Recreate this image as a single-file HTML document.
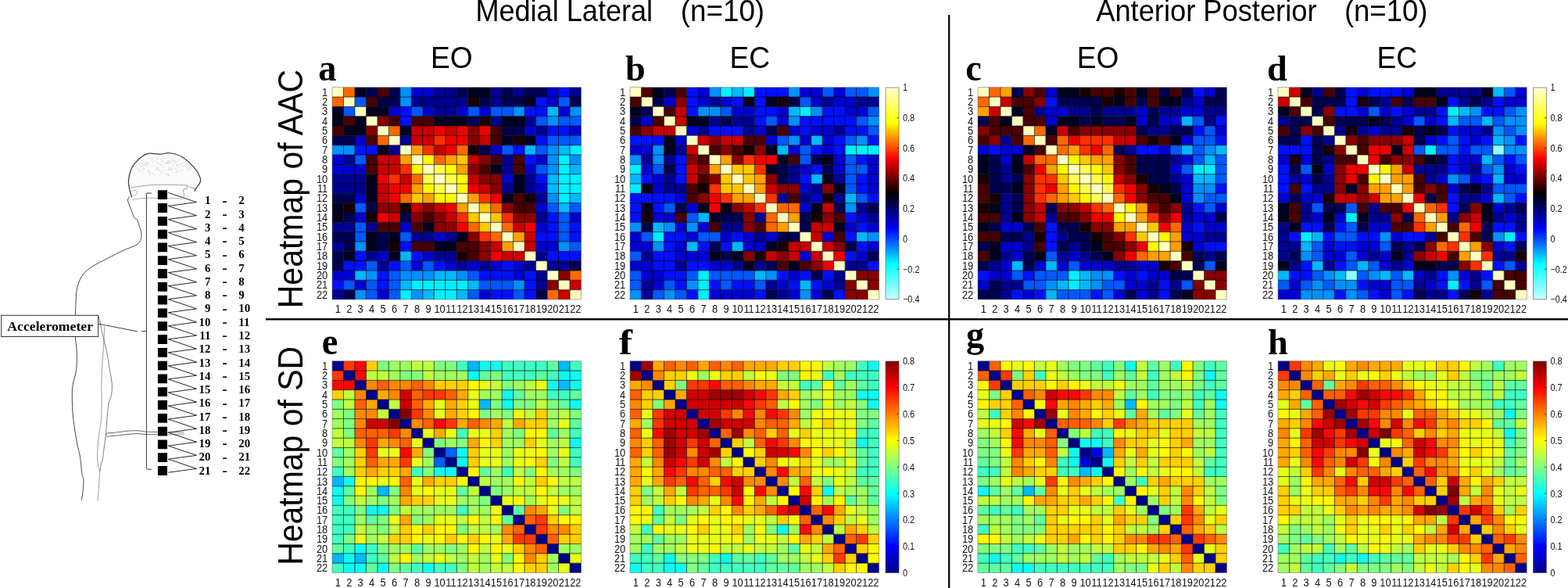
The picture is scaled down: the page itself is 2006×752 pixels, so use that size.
<!DOCTYPE html>
<html lang="en">
<head>
<meta charset="utf-8">
<title>Heatmaps of AAC and SD</title>
<style>
html,body{margin:0;padding:0;background:#fff;}
body{width:2006px;height:752px;overflow:hidden;}
svg{display:block;filter:blur(0.5px);}
</style>
</head>
<body>
<svg width="2006" height="752" viewBox="0 0 2006 752">
<defs>
<linearGradient id="ga" x1="0" y1="0" x2="0" y2="1"><stop offset="0" stop-color="#FFFFD0"/><stop offset="0.1667" stop-color="#FFFF00"/><stop offset="0.3333" stop-color="#FF0000"/><stop offset="0.5" stop-color="#000000"/><stop offset="0.6667" stop-color="#0000FF"/><stop offset="0.8333" stop-color="#00FFFF"/><stop offset="1" stop-color="#C8FFFF"/></linearGradient>
<linearGradient id="gj" x1="0" y1="0" x2="0" y2="1"><stop offset="0" stop-color="#800000"/><stop offset="0.125" stop-color="#FF0000"/><stop offset="0.375" stop-color="#FFFF00"/><stop offset="0.625" stop-color="#00FFFF"/><stop offset="0.875" stop-color="#0000FF"/><stop offset="1" stop-color="#000088"/></linearGradient>
</defs>
<rect width="2006" height="752" fill="#fff"/>
<g id="hm-a">
<path fill="#00F0FF" d="M729.02 185.69h14.48v12.33h-14.48zM714.55 198.02h14.48v12.33h-14.48zM714.55 210.35h14.48v12.33h-14.48zM714.55 222.69h14.48v12.33h-14.48zM729.02 222.69h14.48v12.33h-14.48zM714.55 235.02h14.48v12.33h-14.48zM729.02 235.02h14.48v12.33h-14.48zM714.55 247.35h14.48v12.33h-14.48zM526.34 358.34h14.48v12.33h-14.48zM540.82 358.34h14.48v12.33h-14.48zM555.3 358.34h14.48v12.33h-14.48zM569.77 358.34h14.48v12.33h-14.48zM584.25 358.34h14.48v12.33h-14.48zM511.86 370.67h14.48v12.33h-14.48zM555.3 370.67h14.48v12.33h-14.48zM569.77 370.67h14.48v12.33h-14.48z"/>
<path fill="#00B8FF" d="M700.07 136.36h14.48v12.33h-14.48zM671.11 185.69h14.48v12.33h-14.48zM714.55 185.69h14.48v12.33h-14.48zM729.02 210.35h14.48v12.33h-14.48zM700.07 222.69h14.48v12.33h-14.48zM700.07 235.02h14.48v12.33h-14.48zM729.02 247.35h14.48v12.33h-14.48zM714.55 259.68h14.48v12.33h-14.48zM511.86 321.34h14.48v12.33h-14.48zM453.95 346h14.48v12.33h-14.48zM555.3 346h14.48v12.33h-14.48zM569.77 346h14.48v12.33h-14.48zM511.86 358.34h14.48v12.33h-14.48zM598.73 358.34h14.48v12.33h-14.48zM540.82 370.67h14.48v12.33h-14.48zM584.25 370.67h14.48v12.33h-14.48z"/>
<path fill="#0090FF" d="M511.86 111.7h14.48v12.33h-14.48zM511.86 124.03h14.48v12.33h-14.48zM656.64 136.36h14.48v12.33h-14.48zM729.02 136.36h14.48v12.33h-14.48zM700.07 148.7h14.48v12.33h-14.48zM425 185.69h14.48v12.33h-14.48zM439.48 185.69h14.48v12.33h-14.48zM700.07 185.69h14.48v12.33h-14.48zM700.07 198.02h14.48v12.33h-14.48zM729.02 198.02h14.48v12.33h-14.48zM700.07 210.35h14.48v12.33h-14.48zM700.07 247.35h14.48v12.33h-14.48zM453.95 309.01h14.48v12.33h-14.48zM714.55 309.01h14.48v12.33h-14.48zM468.43 346h14.48v12.33h-14.48zM511.86 346h14.48v12.33h-14.48zM526.34 346h14.48v12.33h-14.48zM540.82 346h14.48v12.33h-14.48zM584.25 346h14.48v12.33h-14.48zM656.64 358.34h14.48v12.33h-14.48zM453.95 370.67h14.48v12.33h-14.48zM526.34 370.67h14.48v12.33h-14.48z"/>
<path fill="#0058FF" d="M453.95 124.03h14.48v12.33h-14.48zM714.55 124.03h14.48v12.33h-14.48zM439.48 136.36h14.48v12.33h-14.48zM526.34 136.36h14.48v12.33h-14.48zM598.73 136.36h14.48v12.33h-14.48zM627.68 136.36h14.48v12.33h-14.48zM642.16 136.36h14.48v12.33h-14.48zM685.59 148.7h14.48v12.33h-14.48zM714.55 148.7h14.48v12.33h-14.48zM729.02 148.7h14.48v12.33h-14.48zM700.07 173.36h14.48v12.33h-14.48zM714.55 173.36h14.48v12.33h-14.48zM729.02 173.36h14.48v12.33h-14.48zM642.16 185.69h14.48v12.33h-14.48zM685.59 185.69h14.48v12.33h-14.48zM453.95 198.02h14.48v12.33h-14.48zM685.59 210.35h14.48v12.33h-14.48zM453.95 259.68h14.48v12.33h-14.48zM700.07 259.68h14.48v12.33h-14.48zM729.02 259.68h14.48v12.33h-14.48zM714.55 272.01h14.48v12.33h-14.48zM453.95 284.35h14.48v12.33h-14.48zM714.55 284.35h14.48v12.33h-14.48zM453.95 296.68h14.48v12.33h-14.48zM511.86 296.68h14.48v12.33h-14.48zM714.55 296.68h14.48v12.33h-14.48zM729.02 309.01h14.48v12.33h-14.48zM468.43 333.67h14.48v12.33h-14.48zM511.86 333.67h14.48v12.33h-14.48zM540.82 333.67h14.48v12.33h-14.48zM497.39 346h14.48v12.33h-14.48zM598.73 346h14.48v12.33h-14.48zM439.48 358.34h14.48v12.33h-14.48zM468.43 358.34h14.48v12.33h-14.48zM497.39 358.34h14.48v12.33h-14.48zM613.2 358.34h14.48v12.33h-14.48zM627.68 358.34h14.48v12.33h-14.48zM642.16 358.34h14.48v12.33h-14.48zM468.43 370.67h14.48v12.33h-14.48zM497.39 370.67h14.48v12.33h-14.48zM598.73 370.67h14.48v12.33h-14.48zM656.64 370.67h14.48v12.33h-14.48z"/>
<path fill="#0010FF" d="M714.55 111.7h14.48v12.33h-14.48zM685.59 124.03h14.48v12.33h-14.48zM511.86 136.36h14.48v12.33h-14.48zM671.11 136.36h14.48v12.33h-14.48zM685.59 136.36h14.48v12.33h-14.48zM511.86 148.7h14.48v12.33h-14.48zM700.07 161.03h14.48v12.33h-14.48zM714.55 161.03h14.48v12.33h-14.48zM685.59 173.36h14.48v12.33h-14.48zM453.95 185.69h14.48v12.33h-14.48zM468.43 185.69h14.48v12.33h-14.48zM656.64 185.69h14.48v12.33h-14.48zM671.11 198.02h14.48v12.33h-14.48zM685.59 222.69h14.48v12.33h-14.48zM700.07 272.01h14.48v12.33h-14.48zM700.07 284.35h14.48v12.33h-14.48zM729.02 284.35h14.48v12.33h-14.48zM685.59 296.68h14.48v12.33h-14.48zM700.07 296.68h14.48v12.33h-14.48zM729.02 296.68h14.48v12.33h-14.48zM511.86 309.01h14.48v12.33h-14.48zM453.95 321.34h14.48v12.33h-14.48zM526.34 321.34h14.48v12.33h-14.48zM700.07 321.34h14.48v12.33h-14.48zM714.55 321.34h14.48v12.33h-14.48zM729.02 321.34h14.48v12.33h-14.48zM439.48 333.67h14.48v12.33h-14.48zM453.95 333.67h14.48v12.33h-14.48zM497.39 333.67h14.48v12.33h-14.48zM555.3 333.67h14.48v12.33h-14.48zM642.16 333.67h14.48v12.33h-14.48zM482.91 346h14.48v12.33h-14.48zM613.2 346h14.48v12.33h-14.48zM627.68 346h14.48v12.33h-14.48zM642.16 346h14.48v12.33h-14.48zM671.11 346h14.48v12.33h-14.48zM425 358.34h14.48v12.33h-14.48zM482.91 358.34h14.48v12.33h-14.48zM671.11 358.34h14.48v12.33h-14.48zM627.68 370.67h14.48v12.33h-14.48zM642.16 370.67h14.48v12.33h-14.48zM671.11 370.67h14.48v12.33h-14.48z"/>
<path fill="#0000D0" d="M526.34 111.7h14.48v12.33h-14.48zM540.82 111.7h14.48v12.33h-14.48zM700.07 111.7h14.48v12.33h-14.48zM700.07 124.03h14.48v12.33h-14.48zM497.39 136.36h14.48v12.33h-14.48zM540.82 136.36h14.48v12.33h-14.48zM584.25 136.36h14.48v12.33h-14.48zM613.2 136.36h14.48v12.33h-14.48zM714.55 136.36h14.48v12.33h-14.48zM671.11 161.03h14.48v12.33h-14.48zM729.02 161.03h14.48v12.33h-14.48zM453.95 173.36h14.48v12.33h-14.48zM627.68 185.69h14.48v12.33h-14.48zM425 198.02h14.48v12.33h-14.48zM685.59 198.02h14.48v12.33h-14.48zM425 210.35h14.48v12.33h-14.48zM439.48 210.35h14.48v12.33h-14.48zM453.95 210.35h14.48v12.33h-14.48zM671.11 210.35h14.48v12.33h-14.48zM642.16 222.69h14.48v12.33h-14.48zM685.59 235.02h14.48v12.33h-14.48zM453.95 247.35h14.48v12.33h-14.48zM685.59 259.68h14.48v12.33h-14.48zM453.95 272.01h14.48v12.33h-14.48zM729.02 272.01h14.48v12.33h-14.48zM511.86 284.35h14.48v12.33h-14.48zM685.59 284.35h14.48v12.33h-14.48zM555.3 296.68h14.48v12.33h-14.48zM685.59 309.01h14.48v12.33h-14.48zM700.07 309.01h14.48v12.33h-14.48zM482.91 321.34h14.48v12.33h-14.48zM540.82 321.34h14.48v12.33h-14.48zM526.34 333.67h14.48v12.33h-14.48zM569.77 333.67h14.48v12.33h-14.48zM598.73 333.67h14.48v12.33h-14.48zM627.68 333.67h14.48v12.33h-14.48zM656.64 333.67h14.48v12.33h-14.48zM425 346h14.48v12.33h-14.48zM439.48 346h14.48v12.33h-14.48zM656.64 346h14.48v12.33h-14.48zM453.95 358.34h14.48v12.33h-14.48zM482.91 370.67h14.48v12.33h-14.48zM613.2 370.67h14.48v12.33h-14.48z"/>
<path fill="#000090" d="M555.3 111.7h14.48v12.33h-14.48zM569.77 111.7h14.48v12.33h-14.48zM627.68 111.7h14.48v12.33h-14.48zM656.64 111.7h14.48v12.33h-14.48zM729.02 111.7h14.48v12.33h-14.48zM526.34 124.03h14.48v12.33h-14.48zM540.82 124.03h14.48v12.33h-14.48zM555.3 124.03h14.48v12.33h-14.48zM569.77 124.03h14.48v12.33h-14.48zM584.25 124.03h14.48v12.33h-14.48zM627.68 124.03h14.48v12.33h-14.48zM555.3 136.36h14.48v12.33h-14.48zM569.77 136.36h14.48v12.33h-14.48zM627.68 148.7h14.48v12.33h-14.48zM671.11 148.7h14.48v12.33h-14.48zM685.59 161.03h14.48v12.33h-14.48zM511.86 173.36h14.48v12.33h-14.48zM497.39 185.69h14.48v12.33h-14.48zM439.48 198.02h14.48v12.33h-14.48zM642.16 198.02h14.48v12.33h-14.48zM642.16 210.35h14.48v12.33h-14.48zM425 222.69h14.48v12.33h-14.48zM439.48 222.69h14.48v12.33h-14.48zM453.95 222.69h14.48v12.33h-14.48zM671.11 222.69h14.48v12.33h-14.48zM425 235.02h14.48v12.33h-14.48zM439.48 235.02h14.48v12.33h-14.48zM453.95 235.02h14.48v12.33h-14.48zM642.16 235.02h14.48v12.33h-14.48zM671.11 235.02h14.48v12.33h-14.48zM685.59 247.35h14.48v12.33h-14.48zM685.59 272.01h14.48v12.33h-14.48zM425 284.35h14.48v12.33h-14.48zM439.48 284.35h14.48v12.33h-14.48zM468.43 284.35h14.48v12.33h-14.48zM526.34 296.68h14.48v12.33h-14.48zM540.82 296.68h14.48v12.33h-14.48zM569.77 296.68h14.48v12.33h-14.48zM425 309.01h14.48v12.33h-14.48zM468.43 321.34h14.48v12.33h-14.48zM555.3 321.34h14.48v12.33h-14.48zM569.77 321.34h14.48v12.33h-14.48zM685.59 321.34h14.48v12.33h-14.48zM482.91 333.67h14.48v12.33h-14.48zM584.25 333.67h14.48v12.33h-14.48zM613.2 333.67h14.48v12.33h-14.48zM671.11 333.67h14.48v12.33h-14.48zM700.07 333.67h14.48v12.33h-14.48zM714.55 333.67h14.48v12.33h-14.48zM685.59 346h14.48v12.33h-14.48zM685.59 358.34h14.48v12.33h-14.48zM425 370.67h14.48v12.33h-14.48z"/>
<path fill="#000050" d="M468.43 111.7h14.48v12.33h-14.48zM497.39 111.7h14.48v12.33h-14.48zM584.25 111.7h14.48v12.33h-14.48zM642.16 111.7h14.48v12.33h-14.48zM671.11 111.7h14.48v12.33h-14.48zM685.59 111.7h14.48v12.33h-14.48zM482.91 124.03h14.48v12.33h-14.48zM497.39 124.03h14.48v12.33h-14.48zM613.2 124.03h14.48v12.33h-14.48zM642.16 124.03h14.48v12.33h-14.48zM656.64 124.03h14.48v12.33h-14.48zM729.02 124.03h14.48v12.33h-14.48zM598.73 148.7h14.48v12.33h-14.48zM642.16 161.03h14.48v12.33h-14.48zM656.64 161.03h14.48v12.33h-14.48zM425 173.36h14.48v12.33h-14.48zM439.48 173.36h14.48v12.33h-14.48zM613.2 185.69h14.48v12.33h-14.48zM425 247.35h14.48v12.33h-14.48zM439.48 247.35h14.48v12.33h-14.48zM468.43 259.68h14.48v12.33h-14.48zM439.48 272.01h14.48v12.33h-14.48zM511.86 272.01h14.48v12.33h-14.48zM425 296.68h14.48v12.33h-14.48zM439.48 296.68h14.48v12.33h-14.48zM482.91 296.68h14.48v12.33h-14.48zM439.48 309.01h14.48v12.33h-14.48zM482.91 309.01h14.48v12.33h-14.48zM425 321.34h14.48v12.33h-14.48zM425 333.67h14.48v12.33h-14.48zM729.02 333.67h14.48v12.33h-14.48zM439.48 370.67h14.48v12.33h-14.48zM685.59 370.67h14.48v12.33h-14.48z"/>
<path fill="#000020" d="M453.95 111.7h14.48v12.33h-14.48zM598.73 111.7h14.48v12.33h-14.48zM613.2 111.7h14.48v12.33h-14.48zM671.11 124.03h14.48v12.33h-14.48zM425 136.36h14.48v12.33h-14.48zM468.43 136.36h14.48v12.33h-14.48zM482.91 136.36h14.48v12.33h-14.48zM425 148.7h14.48v12.33h-14.48zM453.95 148.7h14.48v12.33h-14.48zM555.3 148.7h14.48v12.33h-14.48zM569.77 148.7h14.48v12.33h-14.48zM584.25 148.7h14.48v12.33h-14.48zM642.16 148.7h14.48v12.33h-14.48zM656.64 148.7h14.48v12.33h-14.48zM439.48 161.03h14.48v12.33h-14.48zM453.95 161.03h14.48v12.33h-14.48zM511.86 161.03h14.48v12.33h-14.48zM642.16 173.36h14.48v12.33h-14.48zM671.11 173.36h14.48v12.33h-14.48zM482.91 185.69h14.48v12.33h-14.48zM627.68 210.35h14.48v12.33h-14.48zM468.43 222.69h14.48v12.33h-14.48zM656.64 222.69h14.48v12.33h-14.48zM468.43 235.02h14.48v12.33h-14.48zM656.64 235.02h14.48v12.33h-14.48zM468.43 247.35h14.48v12.33h-14.48zM642.16 247.35h14.48v12.33h-14.48zM425 259.68h14.48v12.33h-14.48zM425 272.01h14.48v12.33h-14.48zM540.82 284.35h14.48v12.33h-14.48zM468.43 296.68h14.48v12.33h-14.48zM497.39 296.68h14.48v12.33h-14.48zM584.25 296.68h14.48v12.33h-14.48zM468.43 309.01h14.48v12.33h-14.48zM555.3 309.01h14.48v12.33h-14.48zM569.77 309.01h14.48v12.33h-14.48zM439.48 321.34h14.48v12.33h-14.48zM497.39 321.34h14.48v12.33h-14.48z"/>
<path fill="#180000" d="M598.73 124.03h14.48v12.33h-14.48zM613.2 148.7h14.48v12.33h-14.48zM656.64 173.36h14.48v12.33h-14.48zM598.73 185.69h14.48v12.33h-14.48zM671.11 247.35h14.48v12.33h-14.48zM439.48 259.68h14.48v12.33h-14.48zM511.86 259.68h14.48v12.33h-14.48zM468.43 272.01h14.48v12.33h-14.48zM497.39 309.01h14.48v12.33h-14.48zM584.25 321.34h14.48v12.33h-14.48z"/>
<path fill="#480000" d="M482.91 111.7h14.48v12.33h-14.48zM468.43 124.03h14.48v12.33h-14.48zM439.48 148.7h14.48v12.33h-14.48zM497.39 148.7h14.48v12.33h-14.48zM526.34 148.7h14.48v12.33h-14.48zM540.82 148.7h14.48v12.33h-14.48zM425 161.03h14.48v12.33h-14.48zM627.68 161.03h14.48v12.33h-14.48zM468.43 173.36h14.48v12.33h-14.48zM627.68 173.36h14.48v12.33h-14.48zM468.43 198.02h14.48v12.33h-14.48zM627.68 198.02h14.48v12.33h-14.48zM656.64 198.02h14.48v12.33h-14.48zM468.43 210.35h14.48v12.33h-14.48zM613.2 210.35h14.48v12.33h-14.48zM656.64 210.35h14.48v12.33h-14.48zM656.64 247.35h14.48v12.33h-14.48zM656.64 259.68h14.48v12.33h-14.48zM671.11 259.68h14.48v12.33h-14.48zM540.82 272.01h14.48v12.33h-14.48zM482.91 284.35h14.48v12.33h-14.48zM497.39 284.35h14.48v12.33h-14.48zM526.34 284.35h14.48v12.33h-14.48zM526.34 309.01h14.48v12.33h-14.48zM540.82 309.01h14.48v12.33h-14.48zM584.25 309.01h14.48v12.33h-14.48zM598.73 309.01h14.48v12.33h-14.48zM598.73 321.34h14.48v12.33h-14.48z"/>
<path fill="#880000" d="M482.91 148.7h14.48v12.33h-14.48zM468.43 161.03h14.48v12.33h-14.48zM598.73 161.03h14.48v12.33h-14.48zM598.73 173.36h14.48v12.33h-14.48zM613.2 198.02h14.48v12.33h-14.48zM598.73 210.35h14.48v12.33h-14.48zM613.2 222.69h14.48v12.33h-14.48zM627.68 222.69h14.48v12.33h-14.48zM627.68 235.02h14.48v12.33h-14.48zM482.91 259.68h14.48v12.33h-14.48zM497.39 259.68h14.48v12.33h-14.48zM540.82 259.68h14.48v12.33h-14.48zM642.16 259.68h14.48v12.33h-14.48zM526.34 272.01h14.48v12.33h-14.48zM555.3 272.01h14.48v12.33h-14.48zM656.64 272.01h14.48v12.33h-14.48zM671.11 272.01h14.48v12.33h-14.48zM555.3 284.35h14.48v12.33h-14.48zM569.77 284.35h14.48v12.33h-14.48zM598.73 296.68h14.48v12.33h-14.48zM613.2 309.01h14.48v12.33h-14.48zM613.2 321.34h14.48v12.33h-14.48zM714.55 346h14.48v12.33h-14.48zM700.07 358.34h14.48v12.33h-14.48z"/>
<path fill="#C80000" d="M526.34 161.03h14.48v12.33h-14.48zM540.82 161.03h14.48v12.33h-14.48zM569.77 161.03h14.48v12.33h-14.48zM526.34 173.36h14.48v12.33h-14.48zM540.82 173.36h14.48v12.33h-14.48zM613.2 173.36h14.48v12.33h-14.48zM555.3 185.69h14.48v12.33h-14.48zM482.91 198.02h14.48v12.33h-14.48zM497.39 198.02h14.48v12.33h-14.48zM598.73 198.02h14.48v12.33h-14.48zM482.91 210.35h14.48v12.33h-14.48zM497.39 210.35h14.48v12.33h-14.48zM511.86 222.69h14.48v12.33h-14.48zM598.73 222.69h14.48v12.33h-14.48zM482.91 235.02h14.48v12.33h-14.48zM613.2 235.02h14.48v12.33h-14.48zM482.91 247.35h14.48v12.33h-14.48zM526.34 259.68h14.48v12.33h-14.48zM555.3 259.68h14.48v12.33h-14.48zM497.39 272.01h14.48v12.33h-14.48zM569.77 272.01h14.48v12.33h-14.48zM656.64 284.35h14.48v12.33h-14.48zM671.11 296.68h14.48v12.33h-14.48zM627.68 309.01h14.48v12.33h-14.48zM671.11 309.01h14.48v12.33h-14.48zM642.16 321.34h14.48v12.33h-14.48zM656.64 321.34h14.48v12.33h-14.48zM729.02 358.34h14.48v12.33h-14.48zM714.55 370.67h14.48v12.33h-14.48z"/>
<path fill="#F00000" d="M555.3 161.03h14.48v12.33h-14.48zM584.25 161.03h14.48v12.33h-14.48zM613.2 161.03h14.48v12.33h-14.48zM569.77 173.36h14.48v12.33h-14.48zM584.25 173.36h14.48v12.33h-14.48zM569.77 185.69h14.48v12.33h-14.48zM482.91 222.69h14.48v12.33h-14.48zM497.39 235.02h14.48v12.33h-14.48zM511.86 235.02h14.48v12.33h-14.48zM598.73 235.02h14.48v12.33h-14.48zM497.39 247.35h14.48v12.33h-14.48zM627.68 247.35h14.48v12.33h-14.48zM569.77 259.68h14.48v12.33h-14.48zM482.91 272.01h14.48v12.33h-14.48zM584.25 284.35h14.48v12.33h-14.48zM671.11 284.35h14.48v12.33h-14.48zM627.68 321.34h14.48v12.33h-14.48z"/>
<path fill="#FF3000" d="M555.3 173.36h14.48v12.33h-14.48zM540.82 185.69h14.48v12.33h-14.48zM511.86 210.35h14.48v12.33h-14.48zM497.39 222.69h14.48v12.33h-14.48zM613.2 247.35h14.48v12.33h-14.48zM584.25 272.01h14.48v12.33h-14.48zM642.16 272.01h14.48v12.33h-14.48zM613.2 296.68h14.48v12.33h-14.48z"/>
<path fill="#FF6800" d="M439.48 111.7h14.48v12.33h-14.48zM425 124.03h14.48v12.33h-14.48zM497.39 161.03h14.48v12.33h-14.48zM482.91 173.36h14.48v12.33h-14.48zM584.25 185.69h14.48v12.33h-14.48zM555.3 198.02h14.48v12.33h-14.48zM526.34 222.69h14.48v12.33h-14.48zM511.86 247.35h14.48v12.33h-14.48zM627.68 259.68h14.48v12.33h-14.48zM598.73 284.35h14.48v12.33h-14.48zM642.16 284.35h14.48v12.33h-14.48zM627.68 296.68h14.48v12.33h-14.48zM729.02 346h14.48v12.33h-14.48zM700.07 370.67h14.48v12.33h-14.48z"/>
<path fill="#FFA000" d="M526.34 185.69h14.48v12.33h-14.48zM511.86 198.02h14.48v12.33h-14.48zM569.77 198.02h14.48v12.33h-14.48zM584.25 210.35h14.48v12.33h-14.48zM526.34 235.02h14.48v12.33h-14.48zM540.82 247.35h14.48v12.33h-14.48zM598.73 247.35h14.48v12.33h-14.48zM584.25 259.68h14.48v12.33h-14.48zM656.64 296.68h14.48v12.33h-14.48zM642.16 309.01h14.48v12.33h-14.48z"/>
<path fill="#FFC800" d="M584.25 198.02h14.48v12.33h-14.48zM526.34 247.35h14.48v12.33h-14.48zM613.2 259.68h14.48v12.33h-14.48zM598.73 272.01h14.48v12.33h-14.48zM627.68 272.01h14.48v12.33h-14.48zM613.2 284.35h14.48v12.33h-14.48z"/>
<path fill="#FFF800" d="M540.82 198.02h14.48v12.33h-14.48zM526.34 210.35h14.48v12.33h-14.48zM569.77 210.35h14.48v12.33h-14.48zM584.25 222.69h14.48v12.33h-14.48zM540.82 235.02h14.48v12.33h-14.48zM584.25 235.02h14.48v12.33h-14.48zM555.3 247.35h14.48v12.33h-14.48zM569.77 247.35h14.48v12.33h-14.48z"/>
<path fill="#FFFF50" d="M555.3 210.35h14.48v12.33h-14.48zM540.82 222.69h14.48v12.33h-14.48zM569.77 222.69h14.48v12.33h-14.48zM555.3 235.02h14.48v12.33h-14.48z"/>
<path fill="#FFFFC0" d="M425 111.7h14.48v12.33h-14.48zM439.48 124.03h14.48v12.33h-14.48zM453.95 136.36h14.48v12.33h-14.48zM468.43 148.7h14.48v12.33h-14.48zM482.91 161.03h14.48v12.33h-14.48zM497.39 173.36h14.48v12.33h-14.48zM511.86 185.69h14.48v12.33h-14.48zM526.34 198.02h14.48v12.33h-14.48zM540.82 210.35h14.48v12.33h-14.48zM555.3 222.69h14.48v12.33h-14.48zM569.77 235.02h14.48v12.33h-14.48zM584.25 247.35h14.48v12.33h-14.48zM598.73 259.68h14.48v12.33h-14.48zM613.2 272.01h14.48v12.33h-14.48zM627.68 284.35h14.48v12.33h-14.48zM642.16 296.68h14.48v12.33h-14.48zM656.64 309.01h14.48v12.33h-14.48zM671.11 321.34h14.48v12.33h-14.48zM685.59 333.67h14.48v12.33h-14.48zM700.07 346h14.48v12.33h-14.48zM714.55 358.34h14.48v12.33h-14.48zM729.02 370.67h14.48v12.33h-14.48z"/>
<path fill="none" stroke="#000" stroke-opacity="0.66" stroke-width="1.0" d="M439.48 111.7V383M453.95 111.7V383M468.43 111.7V383M482.91 111.7V383M497.39 111.7V383M511.86 111.7V383M526.34 111.7V383M540.82 111.7V383M555.3 111.7V383M569.77 111.7V383M584.25 111.7V383M598.73 111.7V383M613.2 111.7V383M627.68 111.7V383M642.16 111.7V383M656.64 111.7V383M671.11 111.7V383M685.59 111.7V383M700.07 111.7V383M714.55 111.7V383M729.02 111.7V383M425 124.03H743.5M425 136.36H743.5M425 148.7H743.5M425 161.03H743.5M425 173.36H743.5M425 185.69H743.5M425 198.02H743.5M425 210.35H743.5M425 222.69H743.5M425 235.02H743.5M425 247.35H743.5M425 259.68H743.5M425 272.01H743.5M425 284.35H743.5M425 296.68H743.5M425 309.01H743.5M425 321.34H743.5M425 333.67H743.5M425 346H743.5M425 358.34H743.5M425 370.67H743.5"/>
<rect x="425" y="111.7" width="318.5" height="271.3" fill="none" stroke="#555" stroke-opacity="0.6" stroke-width="0.8"/>
<g font-family="'Liberation Sans', sans-serif" font-size="13.8" fill="#111">
<text transform="translate(419.2 122.77) scale(0.93 1)" text-anchor="end">1</text>
<text transform="translate(419.2 135.1) scale(0.93 1)" text-anchor="end">2</text>
<text transform="translate(419.2 147.43) scale(0.93 1)" text-anchor="end">3</text>
<text transform="translate(419.2 159.76) scale(0.93 1)" text-anchor="end">4</text>
<text transform="translate(419.2 172.09) scale(0.93 1)" text-anchor="end">5</text>
<text transform="translate(419.2 184.43) scale(0.93 1)" text-anchor="end">6</text>
<text transform="translate(419.2 196.76) scale(0.93 1)" text-anchor="end">7</text>
<text transform="translate(419.2 209.09) scale(0.93 1)" text-anchor="end">8</text>
<text transform="translate(419.2 221.42) scale(0.93 1)" text-anchor="end">9</text>
<text transform="translate(419.2 233.75) scale(0.93 1)" text-anchor="end">10</text>
<text transform="translate(419.2 246.08) scale(0.93 1)" text-anchor="end">11</text>
<text transform="translate(419.2 258.42) scale(0.93 1)" text-anchor="end">12</text>
<text transform="translate(419.2 270.75) scale(0.93 1)" text-anchor="end">13</text>
<text transform="translate(419.2 283.08) scale(0.93 1)" text-anchor="end">14</text>
<text transform="translate(419.2 295.41) scale(0.93 1)" text-anchor="end">15</text>
<text transform="translate(419.2 307.74) scale(0.93 1)" text-anchor="end">16</text>
<text transform="translate(419.2 320.07) scale(0.93 1)" text-anchor="end">17</text>
<text transform="translate(419.2 332.41) scale(0.93 1)" text-anchor="end">18</text>
<text transform="translate(419.2 344.74) scale(0.93 1)" text-anchor="end">19</text>
<text transform="translate(419.2 357.07) scale(0.93 1)" text-anchor="end">20</text>
<text transform="translate(419.2 369.4) scale(0.93 1)" text-anchor="end">21</text>
<text transform="translate(419.2 381.73) scale(0.93 1)" text-anchor="end">22</text>
<text transform="translate(432.24 400.3) scale(0.93 1)" text-anchor="middle">1</text>
<text transform="translate(446.72 400.3) scale(0.93 1)" text-anchor="middle">2</text>
<text transform="translate(461.19 400.3) scale(0.93 1)" text-anchor="middle">3</text>
<text transform="translate(475.67 400.3) scale(0.93 1)" text-anchor="middle">4</text>
<text transform="translate(490.15 400.3) scale(0.93 1)" text-anchor="middle">5</text>
<text transform="translate(504.62 400.3) scale(0.93 1)" text-anchor="middle">6</text>
<text transform="translate(519.1 400.3) scale(0.93 1)" text-anchor="middle">7</text>
<text transform="translate(533.58 400.3) scale(0.93 1)" text-anchor="middle">8</text>
<text transform="translate(548.06 400.3) scale(0.93 1)" text-anchor="middle">9</text>
<text transform="translate(562.53 400.3) scale(0.93 1)" text-anchor="middle">10</text>
<text transform="translate(577.01 400.3) scale(0.93 1)" text-anchor="middle">11</text>
<text transform="translate(591.49 400.3) scale(0.93 1)" text-anchor="middle">12</text>
<text transform="translate(605.97 400.3) scale(0.93 1)" text-anchor="middle">13</text>
<text transform="translate(620.44 400.3) scale(0.93 1)" text-anchor="middle">14</text>
<text transform="translate(634.92 400.3) scale(0.93 1)" text-anchor="middle">15</text>
<text transform="translate(649.4 400.3) scale(0.93 1)" text-anchor="middle">16</text>
<text transform="translate(663.88 400.3) scale(0.93 1)" text-anchor="middle">17</text>
<text transform="translate(678.35 400.3) scale(0.93 1)" text-anchor="middle">18</text>
<text transform="translate(692.83 400.3) scale(0.93 1)" text-anchor="middle">19</text>
<text transform="translate(707.31 400.3) scale(0.93 1)" text-anchor="middle">20</text>
<text transform="translate(721.78 400.3) scale(0.93 1)" text-anchor="middle">21</text>
<text transform="translate(736.26 400.3) scale(0.93 1)" text-anchor="middle">22</text>
</g></g>
<g id="hm-b">
<path fill="#00F0FF" d="M921.85 111.7h14.48v12.33h-14.48zM950.82 111.7h14.48v12.33h-14.48zM1023.23 136.36h14.48v12.33h-14.48zM1081.15 185.69h14.48v12.33h-14.48zM1095.64 185.69h14.48v12.33h-14.48zM1110.12 185.69h14.48v12.33h-14.48zM806 210.35h14.48v12.33h-14.48zM806 235.02h14.48v12.33h-14.48zM834.96 296.68h14.48v12.33h-14.48zM892.89 346h14.48v12.33h-14.48zM892.89 358.34h14.48v12.33h-14.48zM892.89 370.67h14.48v12.33h-14.48z"/>
<path fill="#00B8FF" d="M936.34 111.7h14.48v12.33h-14.48zM1008.75 136.36h14.48v12.33h-14.48zM1037.71 173.36h14.48v12.33h-14.48zM994.26 185.69h14.48v12.33h-14.48zM806 222.69h14.48v12.33h-14.48zM1037.71 222.69h14.48v12.33h-14.48zM1081.15 247.35h14.48v12.33h-14.48zM892.89 272.01h14.48v12.33h-14.48zM834.96 284.35h14.48v12.33h-14.48zM1095.64 296.68h14.48v12.33h-14.48zM878.41 309.01h14.48v12.33h-14.48zM936.34 309.01h14.48v12.33h-14.48zM965.3 346h14.48v12.33h-14.48zM1023.23 358.34h14.48v12.33h-14.48z"/>
<path fill="#0090FF" d="M907.37 111.7h14.48v12.33h-14.48zM1008.75 111.7h14.48v12.33h-14.48zM1110.12 111.7h14.48v12.33h-14.48zM892.89 136.36h14.48v12.33h-14.48zM907.37 136.36h14.48v12.33h-14.48zM1037.71 136.36h14.48v12.33h-14.48zM1008.75 148.7h14.48v12.33h-14.48zM1110.12 148.7h14.48v12.33h-14.48zM1008.75 173.36h14.48v12.33h-14.48zM1095.64 173.36h14.48v12.33h-14.48zM834.96 185.69h14.48v12.33h-14.48zM806 198.02h14.48v12.33h-14.48zM834.96 198.02h14.48v12.33h-14.48zM1081.15 259.68h14.48v12.33h-14.48zM806 284.35h14.48v12.33h-14.48zM849.45 284.35h14.48v12.33h-14.48zM878.41 284.35h14.48v12.33h-14.48zM1110.12 296.68h14.48v12.33h-14.48zM834.96 309.01h14.48v12.33h-14.48zM979.78 346h14.48v12.33h-14.48zM878.41 358.34h14.48v12.33h-14.48zM806 370.67h14.48v12.33h-14.48zM849.45 370.67h14.48v12.33h-14.48zM1023.23 370.67h14.48v12.33h-14.48z"/>
<path fill="#0058FF" d="M1052.19 111.7h14.48v12.33h-14.48zM1081.15 111.7h14.48v12.33h-14.48zM1095.64 111.7h14.48v12.33h-14.48zM1023.23 124.03h14.48v12.33h-14.48zM921.85 136.36h14.48v12.33h-14.48zM1110.12 136.36h14.48v12.33h-14.48zM979.78 148.7h14.48v12.33h-14.48zM1095.64 148.7h14.48v12.33h-14.48zM1110.12 161.03h14.48v12.33h-14.48zM994.26 173.36h14.48v12.33h-14.48zM1081.15 173.36h14.48v12.33h-14.48zM1023.23 185.69h14.48v12.33h-14.48zM1023.23 198.02h14.48v12.33h-14.48zM1081.15 198.02h14.48v12.33h-14.48zM834.96 210.35h14.48v12.33h-14.48zM1081.15 210.35h14.48v12.33h-14.48zM1095.64 210.35h14.48v12.33h-14.48zM1081.15 222.69h14.48v12.33h-14.48zM1081.15 235.02h14.48v12.33h-14.48zM1095.64 247.35h14.48v12.33h-14.48zM849.45 259.68h14.48v12.33h-14.48zM878.41 272.01h14.48v12.33h-14.48zM820.48 296.68h14.48v12.33h-14.48zM892.89 296.68h14.48v12.33h-14.48zM907.37 296.68h14.48v12.33h-14.48zM806 321.34h14.48v12.33h-14.48zM806 346h14.48v12.33h-14.48zM878.41 346h14.48v12.33h-14.48zM907.37 346h14.48v12.33h-14.48zM921.85 346h14.48v12.33h-14.48zM936.34 346h14.48v12.33h-14.48zM950.82 346h14.48v12.33h-14.48zM806 358.34h14.48v12.33h-14.48zM849.45 358.34h14.48v12.33h-14.48zM921.85 358.34h14.48v12.33h-14.48zM965.3 358.34h14.48v12.33h-14.48zM834.96 370.67h14.48v12.33h-14.48zM863.93 370.67h14.48v12.33h-14.48z"/>
<path fill="#0010FF" d="M878.41 111.7h14.48v12.33h-14.48zM965.3 111.7h14.48v12.33h-14.48zM979.78 111.7h14.48v12.33h-14.48zM994.26 111.7h14.48v12.33h-14.48zM878.41 124.03h14.48v12.33h-14.48zM936.34 124.03h14.48v12.33h-14.48zM965.3 124.03h14.48v12.33h-14.48zM878.41 136.36h14.48v12.33h-14.48zM965.3 136.36h14.48v12.33h-14.48zM979.78 136.36h14.48v12.33h-14.48zM1052.19 136.36h14.48v12.33h-14.48zM1066.67 136.36h14.48v12.33h-14.48zM965.3 148.7h14.48v12.33h-14.48zM1023.23 148.7h14.48v12.33h-14.48zM1037.71 148.7h14.48v12.33h-14.48zM1052.19 148.7h14.48v12.33h-14.48zM1066.67 148.7h14.48v12.33h-14.48zM1081.15 148.7h14.48v12.33h-14.48zM907.37 161.03h14.48v12.33h-14.48zM921.85 161.03h14.48v12.33h-14.48zM936.34 161.03h14.48v12.33h-14.48zM1023.23 161.03h14.48v12.33h-14.48zM1081.15 161.03h14.48v12.33h-14.48zM1095.64 161.03h14.48v12.33h-14.48zM806 173.36h14.48v12.33h-14.48zM820.48 173.36h14.48v12.33h-14.48zM834.96 173.36h14.48v12.33h-14.48zM1066.67 173.36h14.48v12.33h-14.48zM1110.12 173.36h14.48v12.33h-14.48zM1037.71 185.69h14.48v12.33h-14.48zM1066.67 185.69h14.48v12.33h-14.48zM863.93 198.02h14.48v12.33h-14.48zM1095.64 198.02h14.48v12.33h-14.48zM863.93 210.35h14.48v12.33h-14.48zM1037.71 210.35h14.48v12.33h-14.48zM820.48 222.69h14.48v12.33h-14.48zM863.93 222.69h14.48v12.33h-14.48zM1023.23 222.69h14.48v12.33h-14.48zM1095.64 222.69h14.48v12.33h-14.48zM1095.64 235.02h14.48v12.33h-14.48zM806 247.35h14.48v12.33h-14.48zM820.48 247.35h14.48v12.33h-14.48zM834.96 247.35h14.48v12.33h-14.48zM849.45 247.35h14.48v12.33h-14.48zM1110.12 247.35h14.48v12.33h-14.48zM806 259.68h14.48v12.33h-14.48zM834.96 259.68h14.48v12.33h-14.48zM806 272.01h14.48v12.33h-14.48zM1081.15 272.01h14.48v12.33h-14.48zM1095.64 284.35h14.48v12.33h-14.48zM849.45 296.68h14.48v12.33h-14.48zM863.93 296.68h14.48v12.33h-14.48zM936.34 296.68h14.48v12.33h-14.48zM1081.15 296.68h14.48v12.33h-14.48zM849.45 309.01h14.48v12.33h-14.48zM892.89 309.01h14.48v12.33h-14.48zM921.85 309.01h14.48v12.33h-14.48zM1095.64 309.01h14.48v12.33h-14.48zM834.96 321.34h14.48v12.33h-14.48zM849.45 321.34h14.48v12.33h-14.48zM1081.15 321.34h14.48v12.33h-14.48zM834.96 333.67h14.48v12.33h-14.48zM849.45 333.67h14.48v12.33h-14.48zM878.41 333.67h14.48v12.33h-14.48zM892.89 333.67h14.48v12.33h-14.48zM1110.12 333.67h14.48v12.33h-14.48zM849.45 346h14.48v12.33h-14.48zM863.93 346h14.48v12.33h-14.48zM994.26 346h14.48v12.33h-14.48zM1023.23 346h14.48v12.33h-14.48zM1052.19 346h14.48v12.33h-14.48zM863.93 358.34h14.48v12.33h-14.48zM907.37 358.34h14.48v12.33h-14.48zM936.34 358.34h14.48v12.33h-14.48zM950.82 358.34h14.48v12.33h-14.48zM1008.75 358.34h14.48v12.33h-14.48zM1037.71 358.34h14.48v12.33h-14.48zM878.41 370.67h14.48v12.33h-14.48zM965.3 370.67h14.48v12.33h-14.48zM1066.67 370.67h14.48v12.33h-14.48z"/>
<path fill="#0000D0" d="M892.89 111.7h14.48v12.33h-14.48zM1023.23 111.7h14.48v12.33h-14.48zM1037.71 111.7h14.48v12.33h-14.48zM1066.67 111.7h14.48v12.33h-14.48zM849.45 124.03h14.48v12.33h-14.48zM892.89 124.03h14.48v12.33h-14.48zM921.85 124.03h14.48v12.33h-14.48zM1037.71 124.03h14.48v12.33h-14.48zM1066.67 124.03h14.48v12.33h-14.48zM1081.15 124.03h14.48v12.33h-14.48zM936.34 136.36h14.48v12.33h-14.48zM950.82 136.36h14.48v12.33h-14.48zM994.26 136.36h14.48v12.33h-14.48zM1081.15 136.36h14.48v12.33h-14.48zM1095.64 136.36h14.48v12.33h-14.48zM820.48 148.7h14.48v12.33h-14.48zM994.26 148.7h14.48v12.33h-14.48zM878.41 161.03h14.48v12.33h-14.48zM965.3 161.03h14.48v12.33h-14.48zM1008.75 161.03h14.48v12.33h-14.48zM1037.71 161.03h14.48v12.33h-14.48zM1052.19 161.03h14.48v12.33h-14.48zM863.93 173.36h14.48v12.33h-14.48zM979.78 173.36h14.48v12.33h-14.48zM1023.23 173.36h14.48v12.33h-14.48zM1052.19 173.36h14.48v12.33h-14.48zM806 185.69h14.48v12.33h-14.48zM820.48 185.69h14.48v12.33h-14.48zM1008.75 185.69h14.48v12.33h-14.48zM1052.19 185.69h14.48v12.33h-14.48zM1066.67 198.02h14.48v12.33h-14.48zM1110.12 198.02h14.48v12.33h-14.48zM820.48 210.35h14.48v12.33h-14.48zM1023.23 210.35h14.48v12.33h-14.48zM1066.67 210.35h14.48v12.33h-14.48zM1110.12 210.35h14.48v12.33h-14.48zM834.96 222.69h14.48v12.33h-14.48zM1110.12 222.69h14.48v12.33h-14.48zM834.96 235.02h14.48v12.33h-14.48zM1023.23 235.02h14.48v12.33h-14.48zM1110.12 235.02h14.48v12.33h-14.48zM863.93 247.35h14.48v12.33h-14.48zM1037.71 247.35h14.48v12.33h-14.48zM878.41 259.68h14.48v12.33h-14.48zM1023.23 259.68h14.48v12.33h-14.48zM834.96 272.01h14.48v12.33h-14.48zM849.45 272.01h14.48v12.33h-14.48zM1095.64 272.01h14.48v12.33h-14.48zM863.93 284.35h14.48v12.33h-14.48zM892.89 284.35h14.48v12.33h-14.48zM1081.15 284.35h14.48v12.33h-14.48zM1110.12 284.35h14.48v12.33h-14.48zM806 296.68h14.48v12.33h-14.48zM878.41 296.68h14.48v12.33h-14.48zM921.85 296.68h14.48v12.33h-14.48zM950.82 296.68h14.48v12.33h-14.48zM979.78 296.68h14.48v12.33h-14.48zM1052.19 296.68h14.48v12.33h-14.48zM806 309.01h14.48v12.33h-14.48zM820.48 309.01h14.48v12.33h-14.48zM863.93 309.01h14.48v12.33h-14.48zM950.82 309.01h14.48v12.33h-14.48zM965.3 309.01h14.48v12.33h-14.48zM1110.12 309.01h14.48v12.33h-14.48zM863.93 321.34h14.48v12.33h-14.48zM878.41 321.34h14.48v12.33h-14.48zM892.89 321.34h14.48v12.33h-14.48zM1023.23 321.34h14.48v12.33h-14.48zM1095.64 321.34h14.48v12.33h-14.48zM806 333.67h14.48v12.33h-14.48zM820.48 333.67h14.48v12.33h-14.48zM907.37 333.67h14.48v12.33h-14.48zM921.85 333.67h14.48v12.33h-14.48zM820.48 346h14.48v12.33h-14.48zM834.96 346h14.48v12.33h-14.48zM1008.75 346h14.48v12.33h-14.48zM834.96 358.34h14.48v12.33h-14.48zM994.26 358.34h14.48v12.33h-14.48zM1052.19 358.34h14.48v12.33h-14.48zM907.37 370.67h14.48v12.33h-14.48zM921.85 370.67h14.48v12.33h-14.48zM936.34 370.67h14.48v12.33h-14.48zM950.82 370.67h14.48v12.33h-14.48zM1008.75 370.67h14.48v12.33h-14.48zM1037.71 370.67h14.48v12.33h-14.48z"/>
<path fill="#000090" d="M907.37 124.03h14.48v12.33h-14.48zM1052.19 124.03h14.48v12.33h-14.48zM1095.64 124.03h14.48v12.33h-14.48zM1110.12 124.03h14.48v12.33h-14.48zM907.37 148.7h14.48v12.33h-14.48zM936.34 148.7h14.48v12.33h-14.48zM950.82 148.7h14.48v12.33h-14.48zM892.89 161.03h14.48v12.33h-14.48zM950.82 161.03h14.48v12.33h-14.48zM1066.67 161.03h14.48v12.33h-14.48zM863.93 185.69h14.48v12.33h-14.48zM820.48 198.02h14.48v12.33h-14.48zM849.45 198.02h14.48v12.33h-14.48zM1008.75 210.35h14.48v12.33h-14.48zM849.45 222.69h14.48v12.33h-14.48zM1008.75 222.69h14.48v12.33h-14.48zM1066.67 222.69h14.48v12.33h-14.48zM849.45 235.02h14.48v12.33h-14.48zM863.93 235.02h14.48v12.33h-14.48zM1037.71 235.02h14.48v12.33h-14.48zM994.26 247.35h14.48v12.33h-14.48zM1023.23 247.35h14.48v12.33h-14.48zM1066.67 247.35h14.48v12.33h-14.48zM1095.64 259.68h14.48v12.33h-14.48zM965.3 272.01h14.48v12.33h-14.48zM1110.12 272.01h14.48v12.33h-14.48zM921.85 284.35h14.48v12.33h-14.48zM936.34 284.35h14.48v12.33h-14.48zM965.3 296.68h14.48v12.33h-14.48zM820.48 321.34h14.48v12.33h-14.48zM863.93 333.67h14.48v12.33h-14.48zM936.34 333.67h14.48v12.33h-14.48zM965.3 333.67h14.48v12.33h-14.48zM1081.15 333.67h14.48v12.33h-14.48zM1095.64 333.67h14.48v12.33h-14.48zM1066.67 346h14.48v12.33h-14.48zM820.48 358.34h14.48v12.33h-14.48zM979.78 358.34h14.48v12.33h-14.48zM1066.67 358.34h14.48v12.33h-14.48zM820.48 370.67h14.48v12.33h-14.48zM994.26 370.67h14.48v12.33h-14.48z"/>
<path fill="#000050" d="M849.45 111.7h14.48v12.33h-14.48zM834.96 124.03h14.48v12.33h-14.48zM1008.75 124.03h14.48v12.33h-14.48zM820.48 136.36h14.48v12.33h-14.48zM806 148.7h14.48v12.33h-14.48zM921.85 148.7h14.48v12.33h-14.48zM979.78 161.03h14.48v12.33h-14.48zM1037.71 198.02h14.48v12.33h-14.48zM849.45 210.35h14.48v12.33h-14.48zM994.26 210.35h14.48v12.33h-14.48zM1052.19 210.35h14.48v12.33h-14.48zM994.26 222.69h14.48v12.33h-14.48zM863.93 259.68h14.48v12.33h-14.48zM1066.67 259.68h14.48v12.33h-14.48zM1110.12 259.68h14.48v12.33h-14.48zM921.85 272.01h14.48v12.33h-14.48zM936.34 272.01h14.48v12.33h-14.48zM1023.23 272.01h14.48v12.33h-14.48zM820.48 284.35h14.48v12.33h-14.48zM1023.23 284.35h14.48v12.33h-14.48zM994.26 296.68h14.48v12.33h-14.48zM1008.75 296.68h14.48v12.33h-14.48zM907.37 309.01h14.48v12.33h-14.48zM1081.15 309.01h14.48v12.33h-14.48zM921.85 321.34h14.48v12.33h-14.48zM1110.12 321.34h14.48v12.33h-14.48zM979.78 333.67h14.48v12.33h-14.48zM1037.71 346h14.48v12.33h-14.48zM979.78 370.67h14.48v12.33h-14.48zM1052.19 370.67h14.48v12.33h-14.48z"/>
<path fill="#000020" d="M834.96 111.7h14.48v12.33h-14.48zM950.82 124.03h14.48v12.33h-14.48zM979.78 124.03h14.48v12.33h-14.48zM806 136.36h14.48v12.33h-14.48zM878.41 148.7h14.48v12.33h-14.48zM892.89 148.7h14.48v12.33h-14.48zM849.45 173.36h14.48v12.33h-14.48zM849.45 185.69h14.48v12.33h-14.48zM979.78 185.69h14.48v12.33h-14.48zM994.26 198.02h14.48v12.33h-14.48zM1052.19 198.02h14.48v12.33h-14.48zM979.78 210.35h14.48v12.33h-14.48zM1052.19 222.69h14.48v12.33h-14.48zM820.48 235.02h14.48v12.33h-14.48zM1066.67 235.02h14.48v12.33h-14.48zM820.48 259.68h14.48v12.33h-14.48zM892.89 259.68h14.48v12.33h-14.48zM921.85 259.68h14.48v12.33h-14.48zM1037.71 259.68h14.48v12.33h-14.48zM907.37 272.01h14.48v12.33h-14.48zM1066.67 284.35h14.48v12.33h-14.48zM979.78 309.01h14.48v12.33h-14.48zM907.37 321.34h14.48v12.33h-14.48zM936.34 321.34h14.48v12.33h-14.48zM950.82 333.67h14.48v12.33h-14.48zM1008.75 333.67h14.48v12.33h-14.48z"/>
<path fill="#180000" d="M994.26 124.03h14.48v12.33h-14.48zM950.82 185.69h14.48v12.33h-14.48zM892.89 235.02h14.48v12.33h-14.48zM1052.19 247.35h14.48v12.33h-14.48zM820.48 272.01h14.48v12.33h-14.48zM1037.71 272.01h14.48v12.33h-14.48zM994.26 309.01h14.48v12.33h-14.48zM965.3 321.34h14.48v12.33h-14.48z"/>
<path fill="#480000" d="M820.48 111.7h14.48v12.33h-14.48zM863.93 111.7h14.48v12.33h-14.48zM806 124.03h14.48v12.33h-14.48zM849.45 136.36h14.48v12.33h-14.48zM834.96 148.7h14.48v12.33h-14.48zM806 161.03h14.48v12.33h-14.48zM994.26 161.03h14.48v12.33h-14.48zM950.82 173.36h14.48v12.33h-14.48zM965.3 173.36h14.48v12.33h-14.48zM907.37 185.69h14.48v12.33h-14.48zM936.34 185.69h14.48v12.33h-14.48zM892.89 198.02h14.48v12.33h-14.48zM1008.75 198.02h14.48v12.33h-14.48zM892.89 222.69h14.48v12.33h-14.48zM878.41 235.02h14.48v12.33h-14.48zM878.41 247.35h14.48v12.33h-14.48zM1008.75 247.35h14.48v12.33h-14.48zM863.93 272.01h14.48v12.33h-14.48zM1066.67 272.01h14.48v12.33h-14.48zM907.37 284.35h14.48v12.33h-14.48zM965.3 284.35h14.48v12.33h-14.48zM1066.67 296.68h14.48v12.33h-14.48zM994.26 333.67h14.48v12.33h-14.48zM1023.23 333.67h14.48v12.33h-14.48z"/>
<path fill="#880000" d="M863.93 124.03h14.48v12.33h-14.48zM820.48 161.03h14.48v12.33h-14.48zM907.37 173.36h14.48v12.33h-14.48zM921.85 185.69h14.48v12.33h-14.48zM965.3 185.69h14.48v12.33h-14.48zM878.41 198.02h14.48v12.33h-14.48zM936.34 198.02h14.48v12.33h-14.48zM892.89 210.35h14.48v12.33h-14.48zM907.37 222.69h14.48v12.33h-14.48zM979.78 222.69h14.48v12.33h-14.48zM994.26 235.02h14.48v12.33h-14.48zM1008.75 235.02h14.48v12.33h-14.48zM1052.19 235.02h14.48v12.33h-14.48zM892.89 247.35h14.48v12.33h-14.48zM936.34 259.68h14.48v12.33h-14.48zM950.82 272.01h14.48v12.33h-14.48zM1052.19 272.01h14.48v12.33h-14.48zM950.82 284.35h14.48v12.33h-14.48zM1066.67 309.01h14.48v12.33h-14.48zM950.82 321.34h14.48v12.33h-14.48zM994.26 321.34h14.48v12.33h-14.48zM1037.71 333.67h14.48v12.33h-14.48zM1095.64 346h14.48v12.33h-14.48zM1110.12 346h14.48v12.33h-14.48zM1081.15 358.34h14.48v12.33h-14.48zM1110.12 358.34h14.48v12.33h-14.48zM1081.15 370.67h14.48v12.33h-14.48zM1095.64 370.67h14.48v12.33h-14.48z"/>
<path fill="#C80000" d="M863.93 136.36h14.48v12.33h-14.48zM863.93 148.7h14.48v12.33h-14.48zM834.96 161.03h14.48v12.33h-14.48zM849.45 161.03h14.48v12.33h-14.48zM892.89 173.36h14.48v12.33h-14.48zM921.85 173.36h14.48v12.33h-14.48zM936.34 173.36h14.48v12.33h-14.48zM878.41 185.69h14.48v12.33h-14.48zM878.41 210.35h14.48v12.33h-14.48zM878.41 222.69h14.48v12.33h-14.48zM979.78 235.02h14.48v12.33h-14.48zM950.82 259.68h14.48v12.33h-14.48zM1052.19 259.68h14.48v12.33h-14.48zM1037.71 284.35h14.48v12.33h-14.48zM1052.19 284.35h14.48v12.33h-14.48zM1037.71 296.68h14.48v12.33h-14.48zM1008.75 309.01h14.48v12.33h-14.48zM1023.23 309.01h14.48v12.33h-14.48zM1052.19 309.01h14.48v12.33h-14.48zM979.78 321.34h14.48v12.33h-14.48zM1008.75 321.34h14.48v12.33h-14.48zM1037.71 321.34h14.48v12.33h-14.48z"/>
<path fill="#F00000" d="M965.3 198.02h14.48v12.33h-14.48zM979.78 198.02h14.48v12.33h-14.48zM907.37 247.35h14.48v12.33h-14.48zM907.37 259.68h14.48v12.33h-14.48zM1066.67 321.34h14.48v12.33h-14.48zM1052.19 333.67h14.48v12.33h-14.48z"/>
<path fill="#FF3000" d="M950.82 198.02h14.48v12.33h-14.48zM965.3 210.35h14.48v12.33h-14.48zM907.37 235.02h14.48v12.33h-14.48zM921.85 247.35h14.48v12.33h-14.48zM979.78 247.35h14.48v12.33h-14.48zM965.3 259.68h14.48v12.33h-14.48z"/>
<path fill="#FF6800" d="M994.26 259.68h14.48v12.33h-14.48zM1008.75 259.68h14.48v12.33h-14.48zM979.78 272.01h14.48v12.33h-14.48zM979.78 284.35h14.48v12.33h-14.48z"/>
<path fill="#FFA000" d="M921.85 198.02h14.48v12.33h-14.48zM907.37 210.35h14.48v12.33h-14.48zM965.3 222.69h14.48v12.33h-14.48zM965.3 235.02h14.48v12.33h-14.48zM936.34 247.35h14.48v12.33h-14.48zM950.82 247.35h14.48v12.33h-14.48zM1008.75 272.01h14.48v12.33h-14.48zM994.26 284.35h14.48v12.33h-14.48z"/>
<path fill="#FFC800" d="M936.34 210.35h14.48v12.33h-14.48zM950.82 210.35h14.48v12.33h-14.48zM921.85 222.69h14.48v12.33h-14.48zM950.82 222.69h14.48v12.33h-14.48zM921.85 235.02h14.48v12.33h-14.48zM936.34 235.02h14.48v12.33h-14.48z"/>
<path fill="#FFFFC0" d="M806 111.7h14.48v12.33h-14.48zM820.48 124.03h14.48v12.33h-14.48zM834.96 136.36h14.48v12.33h-14.48zM849.45 148.7h14.48v12.33h-14.48zM863.93 161.03h14.48v12.33h-14.48zM878.41 173.36h14.48v12.33h-14.48zM892.89 185.69h14.48v12.33h-14.48zM907.37 198.02h14.48v12.33h-14.48zM921.85 210.35h14.48v12.33h-14.48zM936.34 222.69h14.48v12.33h-14.48zM950.82 235.02h14.48v12.33h-14.48zM965.3 247.35h14.48v12.33h-14.48zM979.78 259.68h14.48v12.33h-14.48zM994.26 272.01h14.48v12.33h-14.48zM1008.75 284.35h14.48v12.33h-14.48zM1023.23 296.68h14.48v12.33h-14.48zM1037.71 309.01h14.48v12.33h-14.48zM1052.19 321.34h14.48v12.33h-14.48zM1066.67 333.67h14.48v12.33h-14.48zM1081.15 346h14.48v12.33h-14.48zM1095.64 358.34h14.48v12.33h-14.48zM1110.12 370.67h14.48v12.33h-14.48z"/>
<path fill="none" stroke="#000" stroke-opacity="0.66" stroke-width="1.0" d="M820.48 111.7V383M834.96 111.7V383M849.45 111.7V383M863.93 111.7V383M878.41 111.7V383M892.89 111.7V383M907.37 111.7V383M921.85 111.7V383M936.34 111.7V383M950.82 111.7V383M965.3 111.7V383M979.78 111.7V383M994.26 111.7V383M1008.75 111.7V383M1023.23 111.7V383M1037.71 111.7V383M1052.19 111.7V383M1066.67 111.7V383M1081.15 111.7V383M1095.64 111.7V383M1110.12 111.7V383M806 124.03H1124.6M806 136.36H1124.6M806 148.7H1124.6M806 161.03H1124.6M806 173.36H1124.6M806 185.69H1124.6M806 198.02H1124.6M806 210.35H1124.6M806 222.69H1124.6M806 235.02H1124.6M806 247.35H1124.6M806 259.68H1124.6M806 272.01H1124.6M806 284.35H1124.6M806 296.68H1124.6M806 309.01H1124.6M806 321.34H1124.6M806 333.67H1124.6M806 346H1124.6M806 358.34H1124.6M806 370.67H1124.6"/>
<rect x="806" y="111.7" width="318.6" height="271.3" fill="none" stroke="#555" stroke-opacity="0.6" stroke-width="0.8"/>
<g font-family="'Liberation Sans', sans-serif" font-size="13.8" fill="#111">
<text transform="translate(800.2 122.77) scale(0.93 1)" text-anchor="end">1</text>
<text transform="translate(800.2 135.1) scale(0.93 1)" text-anchor="end">2</text>
<text transform="translate(800.2 147.43) scale(0.93 1)" text-anchor="end">3</text>
<text transform="translate(800.2 159.76) scale(0.93 1)" text-anchor="end">4</text>
<text transform="translate(800.2 172.09) scale(0.93 1)" text-anchor="end">5</text>
<text transform="translate(800.2 184.43) scale(0.93 1)" text-anchor="end">6</text>
<text transform="translate(800.2 196.76) scale(0.93 1)" text-anchor="end">7</text>
<text transform="translate(800.2 209.09) scale(0.93 1)" text-anchor="end">8</text>
<text transform="translate(800.2 221.42) scale(0.93 1)" text-anchor="end">9</text>
<text transform="translate(800.2 233.75) scale(0.93 1)" text-anchor="end">10</text>
<text transform="translate(800.2 246.08) scale(0.93 1)" text-anchor="end">11</text>
<text transform="translate(800.2 258.42) scale(0.93 1)" text-anchor="end">12</text>
<text transform="translate(800.2 270.75) scale(0.93 1)" text-anchor="end">13</text>
<text transform="translate(800.2 283.08) scale(0.93 1)" text-anchor="end">14</text>
<text transform="translate(800.2 295.41) scale(0.93 1)" text-anchor="end">15</text>
<text transform="translate(800.2 307.74) scale(0.93 1)" text-anchor="end">16</text>
<text transform="translate(800.2 320.07) scale(0.93 1)" text-anchor="end">17</text>
<text transform="translate(800.2 332.41) scale(0.93 1)" text-anchor="end">18</text>
<text transform="translate(800.2 344.74) scale(0.93 1)" text-anchor="end">19</text>
<text transform="translate(800.2 357.07) scale(0.93 1)" text-anchor="end">20</text>
<text transform="translate(800.2 369.4) scale(0.93 1)" text-anchor="end">21</text>
<text transform="translate(800.2 381.73) scale(0.93 1)" text-anchor="end">22</text>
<text transform="translate(813.24 400.3) scale(0.93 1)" text-anchor="middle">1</text>
<text transform="translate(827.72 400.3) scale(0.93 1)" text-anchor="middle">2</text>
<text transform="translate(842.2 400.3) scale(0.93 1)" text-anchor="middle">3</text>
<text transform="translate(856.69 400.3) scale(0.93 1)" text-anchor="middle">4</text>
<text transform="translate(871.17 400.3) scale(0.93 1)" text-anchor="middle">5</text>
<text transform="translate(885.65 400.3) scale(0.93 1)" text-anchor="middle">6</text>
<text transform="translate(900.13 400.3) scale(0.93 1)" text-anchor="middle">7</text>
<text transform="translate(914.61 400.3) scale(0.93 1)" text-anchor="middle">8</text>
<text transform="translate(929.1 400.3) scale(0.93 1)" text-anchor="middle">9</text>
<text transform="translate(943.58 400.3) scale(0.93 1)" text-anchor="middle">10</text>
<text transform="translate(958.06 400.3) scale(0.93 1)" text-anchor="middle">11</text>
<text transform="translate(972.54 400.3) scale(0.93 1)" text-anchor="middle">12</text>
<text transform="translate(987.02 400.3) scale(0.93 1)" text-anchor="middle">13</text>
<text transform="translate(1001.5 400.3) scale(0.93 1)" text-anchor="middle">14</text>
<text transform="translate(1015.99 400.3) scale(0.93 1)" text-anchor="middle">15</text>
<text transform="translate(1030.47 400.3) scale(0.93 1)" text-anchor="middle">16</text>
<text transform="translate(1044.95 400.3) scale(0.93 1)" text-anchor="middle">17</text>
<text transform="translate(1059.43 400.3) scale(0.93 1)" text-anchor="middle">18</text>
<text transform="translate(1073.91 400.3) scale(0.93 1)" text-anchor="middle">19</text>
<text transform="translate(1088.4 400.3) scale(0.93 1)" text-anchor="middle">20</text>
<text transform="translate(1102.88 400.3) scale(0.93 1)" text-anchor="middle">21</text>
<text transform="translate(1117.36 400.3) scale(0.93 1)" text-anchor="middle">22</text>
</g></g>
<g id="hm-c">
<path fill="#00F0FF" d="M1526.07 210.35h14.48v12.33h-14.48zM1540.55 210.35h14.48v12.33h-14.48zM1366.82 346h14.48v12.33h-14.48zM1366.82 358.34h14.48v12.33h-14.48z"/>
<path fill="#00B8FF" d="M1511.59 148.7h14.48v12.33h-14.48zM1511.59 185.69h14.48v12.33h-14.48zM1555.02 185.69h14.48v12.33h-14.48zM1540.55 198.02h14.48v12.33h-14.48zM1526.07 222.69h14.48v12.33h-14.48zM1540.55 222.69h14.48v12.33h-14.48zM1294.43 333.67h14.48v12.33h-14.48zM1337.86 333.67h14.48v12.33h-14.48zM1381.3 346h14.48v12.33h-14.48zM1352.34 358.34h14.48v12.33h-14.48zM1381.3 358.34h14.48v12.33h-14.48zM1337.86 370.67h14.48v12.33h-14.48z"/>
<path fill="#0090FF" d="M1540.55 185.69h14.48v12.33h-14.48zM1526.07 235.02h14.48v12.33h-14.48zM1540.55 235.02h14.48v12.33h-14.48zM1526.07 247.35h14.48v12.33h-14.48zM1395.77 346h14.48v12.33h-14.48zM1410.25 346h14.48v12.33h-14.48zM1337.86 358.34h14.48v12.33h-14.48zM1395.77 358.34h14.48v12.33h-14.48z"/>
<path fill="#0058FF" d="M1526.07 148.7h14.48v12.33h-14.48zM1540.55 161.03h14.48v12.33h-14.48zM1526.07 173.36h14.48v12.33h-14.48zM1540.55 173.36h14.48v12.33h-14.48zM1497.11 185.69h14.48v12.33h-14.48zM1526.07 185.69h14.48v12.33h-14.48zM1526.07 198.02h14.48v12.33h-14.48zM1555.02 198.02h14.48v12.33h-14.48zM1511.59 210.35h14.48v12.33h-14.48zM1555.02 210.35h14.48v12.33h-14.48zM1555.02 222.69h14.48v12.33h-14.48zM1540.55 247.35h14.48v12.33h-14.48zM1555.02 247.35h14.48v12.33h-14.48zM1540.55 259.68h14.48v12.33h-14.48zM1337.86 321.34h14.48v12.33h-14.48zM1366.82 333.67h14.48v12.33h-14.48zM1540.55 333.67h14.48v12.33h-14.48zM1294.43 346h14.48v12.33h-14.48zM1323.39 346h14.48v12.33h-14.48zM1337.86 346h14.48v12.33h-14.48zM1352.34 346h14.48v12.33h-14.48zM1308.91 358.34h14.48v12.33h-14.48zM1323.39 358.34h14.48v12.33h-14.48zM1410.25 358.34h14.48v12.33h-14.48zM1424.73 358.34h14.48v12.33h-14.48zM1511.59 358.34h14.48v12.33h-14.48zM1352.34 370.67h14.48v12.33h-14.48zM1366.82 370.67h14.48v12.33h-14.48zM1381.3 370.67h14.48v12.33h-14.48zM1410.25 370.67h14.48v12.33h-14.48z"/>
<path fill="#0010FF" d="M1526.07 111.7h14.48v12.33h-14.48zM1337.86 124.03h14.48v12.33h-14.48zM1555.02 148.7h14.48v12.33h-14.48zM1526.07 161.03h14.48v12.33h-14.48zM1555.02 173.36h14.48v12.33h-14.48zM1265.48 185.69h14.48v12.33h-14.48zM1453.68 185.69h14.48v12.33h-14.48zM1468.16 185.69h14.48v12.33h-14.48zM1555.02 235.02h14.48v12.33h-14.48zM1526.07 259.68h14.48v12.33h-14.48zM1337.86 284.35h14.48v12.33h-14.48zM1526.07 284.35h14.48v12.33h-14.48zM1337.86 296.68h14.48v12.33h-14.48zM1337.86 309.01h14.48v12.33h-14.48zM1540.55 309.01h14.48v12.33h-14.48zM1555.02 309.01h14.48v12.33h-14.48zM1251 346h14.48v12.33h-14.48zM1308.91 346h14.48v12.33h-14.48zM1424.73 346h14.48v12.33h-14.48zM1453.68 346h14.48v12.33h-14.48zM1482.64 358.34h14.48v12.33h-14.48zM1294.43 370.67h14.48v12.33h-14.48zM1323.39 370.67h14.48v12.33h-14.48zM1395.77 370.67h14.48v12.33h-14.48zM1482.64 370.67h14.48v12.33h-14.48z"/>
<path fill="#0000D0" d="M1337.86 111.7h14.48v12.33h-14.48zM1540.55 111.7h14.48v12.33h-14.48zM1526.07 124.03h14.48v12.33h-14.48zM1337.86 136.36h14.48v12.33h-14.48zM1352.34 136.36h14.48v12.33h-14.48zM1453.68 136.36h14.48v12.33h-14.48zM1511.59 136.36h14.48v12.33h-14.48zM1526.07 136.36h14.48v12.33h-14.48zM1337.86 148.7h14.48v12.33h-14.48zM1453.68 148.7h14.48v12.33h-14.48zM1482.64 148.7h14.48v12.33h-14.48zM1497.11 148.7h14.48v12.33h-14.48zM1555.02 161.03h14.48v12.33h-14.48zM1511.59 173.36h14.48v12.33h-14.48zM1251 185.69h14.48v12.33h-14.48zM1279.95 185.69h14.48v12.33h-14.48zM1294.43 185.69h14.48v12.33h-14.48zM1482.64 185.69h14.48v12.33h-14.48zM1279.95 198.02h14.48v12.33h-14.48zM1511.59 198.02h14.48v12.33h-14.48zM1497.11 210.35h14.48v12.33h-14.48zM1511.59 222.69h14.48v12.33h-14.48zM1511.59 235.02h14.48v12.33h-14.48zM1511.59 247.35h14.48v12.33h-14.48zM1555.02 259.68h14.48v12.33h-14.48zM1526.07 272.01h14.48v12.33h-14.48zM1540.55 272.01h14.48v12.33h-14.48zM1279.95 284.35h14.48v12.33h-14.48zM1294.43 284.35h14.48v12.33h-14.48zM1511.59 284.35h14.48v12.33h-14.48zM1540.55 284.35h14.48v12.33h-14.48zM1555.02 284.35h14.48v12.33h-14.48zM1511.59 296.68h14.48v12.33h-14.48zM1526.07 296.68h14.48v12.33h-14.48zM1279.95 309.01h14.48v12.33h-14.48zM1294.43 309.01h14.48v12.33h-14.48zM1526.07 309.01h14.48v12.33h-14.48zM1294.43 321.34h14.48v12.33h-14.48zM1366.82 321.34h14.48v12.33h-14.48zM1279.95 333.67h14.48v12.33h-14.48zM1323.39 333.67h14.48v12.33h-14.48zM1352.34 333.67h14.48v12.33h-14.48zM1381.3 333.67h14.48v12.33h-14.48zM1395.77 333.67h14.48v12.33h-14.48zM1410.25 333.67h14.48v12.33h-14.48zM1453.68 333.67h14.48v12.33h-14.48zM1468.16 333.67h14.48v12.33h-14.48zM1265.48 346h14.48v12.33h-14.48zM1279.95 346h14.48v12.33h-14.48zM1439.2 346h14.48v12.33h-14.48zM1468.16 346h14.48v12.33h-14.48zM1482.64 346h14.48v12.33h-14.48zM1251 358.34h14.48v12.33h-14.48zM1439.2 358.34h14.48v12.33h-14.48zM1453.68 358.34h14.48v12.33h-14.48zM1308.91 370.67h14.48v12.33h-14.48zM1424.73 370.67h14.48v12.33h-14.48zM1453.68 370.67h14.48v12.33h-14.48z"/>
<path fill="#000090" d="M1511.59 124.03h14.48v12.33h-14.48zM1323.39 136.36h14.48v12.33h-14.48zM1366.82 136.36h14.48v12.33h-14.48zM1381.3 136.36h14.48v12.33h-14.48zM1410.25 136.36h14.48v12.33h-14.48zM1424.73 136.36h14.48v12.33h-14.48zM1439.2 136.36h14.48v12.33h-14.48zM1482.64 136.36h14.48v12.33h-14.48zM1497.11 136.36h14.48v12.33h-14.48zM1540.55 136.36h14.48v12.33h-14.48zM1555.02 136.36h14.48v12.33h-14.48zM1540.55 148.7h14.48v12.33h-14.48zM1468.16 161.03h14.48v12.33h-14.48zM1482.64 161.03h14.48v12.33h-14.48zM1279.95 173.36h14.48v12.33h-14.48zM1439.2 185.69h14.48v12.33h-14.48zM1497.11 198.02h14.48v12.33h-14.48zM1279.95 210.35h14.48v12.33h-14.48zM1279.95 222.69h14.48v12.33h-14.48zM1497.11 222.69h14.48v12.33h-14.48zM1279.95 247.35h14.48v12.33h-14.48zM1279.95 259.68h14.48v12.33h-14.48zM1511.59 259.68h14.48v12.33h-14.48zM1279.95 272.01h14.48v12.33h-14.48zM1337.86 272.01h14.48v12.33h-14.48zM1511.59 272.01h14.48v12.33h-14.48zM1308.91 296.68h14.48v12.33h-14.48zM1352.34 296.68h14.48v12.33h-14.48zM1540.55 296.68h14.48v12.33h-14.48zM1555.02 296.68h14.48v12.33h-14.48zM1308.91 309.01h14.48v12.33h-14.48zM1366.82 309.01h14.48v12.33h-14.48zM1279.95 321.34h14.48v12.33h-14.48zM1352.34 321.34h14.48v12.33h-14.48zM1381.3 321.34h14.48v12.33h-14.48zM1540.55 321.34h14.48v12.33h-14.48zM1265.48 333.67h14.48v12.33h-14.48zM1424.73 333.67h14.48v12.33h-14.48zM1439.2 333.67h14.48v12.33h-14.48zM1279.95 358.34h14.48v12.33h-14.48zM1294.43 358.34h14.48v12.33h-14.48zM1468.16 358.34h14.48v12.33h-14.48zM1497.11 358.34h14.48v12.33h-14.48zM1279.95 370.67h14.48v12.33h-14.48zM1468.16 370.67h14.48v12.33h-14.48z"/>
<path fill="#000050" d="M1294.43 111.7h14.48v12.33h-14.48zM1482.64 111.7h14.48v12.33h-14.48zM1511.59 111.7h14.48v12.33h-14.48zM1555.02 111.7h14.48v12.33h-14.48zM1352.34 124.03h14.48v12.33h-14.48zM1366.82 124.03h14.48v12.33h-14.48zM1381.3 124.03h14.48v12.33h-14.48zM1395.77 124.03h14.48v12.33h-14.48zM1453.68 124.03h14.48v12.33h-14.48zM1540.55 124.03h14.48v12.33h-14.48zM1555.02 124.03h14.48v12.33h-14.48zM1395.77 136.36h14.48v12.33h-14.48zM1468.16 136.36h14.48v12.33h-14.48zM1251 148.7h14.48v12.33h-14.48zM1381.3 148.7h14.48v12.33h-14.48zM1410.25 148.7h14.48v12.33h-14.48zM1424.73 148.7h14.48v12.33h-14.48zM1468.16 148.7h14.48v12.33h-14.48zM1453.68 161.03h14.48v12.33h-14.48zM1497.11 161.03h14.48v12.33h-14.48zM1511.59 161.03h14.48v12.33h-14.48zM1424.73 185.69h14.48v12.33h-14.48zM1265.48 198.02h14.48v12.33h-14.48zM1453.68 198.02h14.48v12.33h-14.48zM1468.16 198.02h14.48v12.33h-14.48zM1482.64 198.02h14.48v12.33h-14.48zM1265.48 210.35h14.48v12.33h-14.48zM1453.68 210.35h14.48v12.33h-14.48zM1468.16 210.35h14.48v12.33h-14.48zM1482.64 210.35h14.48v12.33h-14.48zM1265.48 222.69h14.48v12.33h-14.48zM1294.43 222.69h14.48v12.33h-14.48zM1468.16 222.69h14.48v12.33h-14.48zM1482.64 222.69h14.48v12.33h-14.48zM1265.48 235.02h14.48v12.33h-14.48zM1279.95 235.02h14.48v12.33h-14.48zM1497.11 235.02h14.48v12.33h-14.48zM1294.43 247.35h14.48v12.33h-14.48zM1294.43 259.68h14.48v12.33h-14.48zM1337.86 259.68h14.48v12.33h-14.48zM1555.02 272.01h14.48v12.33h-14.48zM1265.48 284.35h14.48v12.33h-14.48zM1308.91 284.35h14.48v12.33h-14.48zM1352.34 284.35h14.48v12.33h-14.48zM1366.82 284.35h14.48v12.33h-14.48zM1279.95 296.68h14.48v12.33h-14.48zM1294.43 296.68h14.48v12.33h-14.48zM1366.82 296.68h14.48v12.33h-14.48zM1381.3 296.68h14.48v12.33h-14.48zM1251 309.01h14.48v12.33h-14.48zM1352.34 309.01h14.48v12.33h-14.48zM1381.3 309.01h14.48v12.33h-14.48zM1308.91 321.34h14.48v12.33h-14.48zM1395.77 321.34h14.48v12.33h-14.48zM1526.07 321.34h14.48v12.33h-14.48zM1555.02 321.34h14.48v12.33h-14.48zM1251 333.67h14.48v12.33h-14.48zM1308.91 333.67h14.48v12.33h-14.48zM1526.07 333.67h14.48v12.33h-14.48zM1497.11 346h14.48v12.33h-14.48zM1511.59 346h14.48v12.33h-14.48zM1265.48 358.34h14.48v12.33h-14.48zM1251 370.67h14.48v12.33h-14.48zM1265.48 370.67h14.48v12.33h-14.48zM1439.2 370.67h14.48v12.33h-14.48zM1497.11 370.67h14.48v12.33h-14.48z"/>
<path fill="#000020" d="M1352.34 111.7h14.48v12.33h-14.48zM1366.82 111.7h14.48v12.33h-14.48zM1453.68 111.7h14.48v12.33h-14.48zM1424.73 124.03h14.48v12.33h-14.48zM1482.64 124.03h14.48v12.33h-14.48zM1497.11 124.03h14.48v12.33h-14.48zM1294.43 136.36h14.48v12.33h-14.48zM1279.95 148.7h14.48v12.33h-14.48zM1352.34 148.7h14.48v12.33h-14.48zM1366.82 148.7h14.48v12.33h-14.48zM1395.77 148.7h14.48v12.33h-14.48zM1439.2 148.7h14.48v12.33h-14.48zM1337.86 161.03h14.48v12.33h-14.48zM1497.11 173.36h14.48v12.33h-14.48zM1308.91 185.69h14.48v12.33h-14.48zM1251 198.02h14.48v12.33h-14.48zM1294.43 198.02h14.48v12.33h-14.48zM1251 210.35h14.48v12.33h-14.48zM1294.43 210.35h14.48v12.33h-14.48zM1294.43 235.02h14.48v12.33h-14.48zM1482.64 235.02h14.48v12.33h-14.48zM1497.11 247.35h14.48v12.33h-14.48zM1265.48 259.68h14.48v12.33h-14.48zM1294.43 272.01h14.48v12.33h-14.48zM1251 284.35h14.48v12.33h-14.48zM1265.48 309.01h14.48v12.33h-14.48zM1395.77 309.01h14.48v12.33h-14.48zM1265.48 321.34h14.48v12.33h-14.48zM1323.39 321.34h14.48v12.33h-14.48zM1410.25 321.34h14.48v12.33h-14.48zM1555.02 333.67h14.48v12.33h-14.48zM1511.59 370.67h14.48v12.33h-14.48z"/>
<path fill="#180000" d="M1381.3 111.7h14.48v12.33h-14.48zM1424.73 111.7h14.48v12.33h-14.48zM1410.25 124.03h14.48v12.33h-14.48zM1468.16 173.36h14.48v12.33h-14.48zM1251 222.69h14.48v12.33h-14.48zM1453.68 222.69h14.48v12.33h-14.48zM1468.16 235.02h14.48v12.33h-14.48zM1265.48 247.35h14.48v12.33h-14.48zM1251 259.68h14.48v12.33h-14.48zM1381.3 284.35h14.48v12.33h-14.48zM1323.39 296.68h14.48v12.33h-14.48zM1395.77 296.68h14.48v12.33h-14.48zM1511.59 309.01h14.48v12.33h-14.48zM1482.64 333.67h14.48v12.33h-14.48z"/>
<path fill="#480000" d="M1323.39 111.7h14.48v12.33h-14.48zM1395.77 111.7h14.48v12.33h-14.48zM1410.25 111.7h14.48v12.33h-14.48zM1439.2 111.7h14.48v12.33h-14.48zM1468.16 111.7h14.48v12.33h-14.48zM1497.11 111.7h14.48v12.33h-14.48zM1294.43 124.03h14.48v12.33h-14.48zM1308.91 124.03h14.48v12.33h-14.48zM1439.2 124.03h14.48v12.33h-14.48zM1468.16 124.03h14.48v12.33h-14.48zM1308.91 136.36h14.48v12.33h-14.48zM1265.48 148.7h14.48v12.33h-14.48zM1308.91 148.7h14.48v12.33h-14.48zM1323.39 148.7h14.48v12.33h-14.48zM1265.48 161.03h14.48v12.33h-14.48zM1279.95 161.03h14.48v12.33h-14.48zM1294.43 161.03h14.48v12.33h-14.48zM1366.82 161.03h14.48v12.33h-14.48zM1251 173.36h14.48v12.33h-14.48zM1294.43 173.36h14.48v12.33h-14.48zM1337.86 173.36h14.48v12.33h-14.48zM1453.68 173.36h14.48v12.33h-14.48zM1482.64 173.36h14.48v12.33h-14.48zM1323.39 185.69h14.48v12.33h-14.48zM1439.2 198.02h14.48v12.33h-14.48zM1308.91 210.35h14.48v12.33h-14.48zM1439.2 210.35h14.48v12.33h-14.48zM1251 235.02h14.48v12.33h-14.48zM1251 247.35h14.48v12.33h-14.48zM1468.16 247.35h14.48v12.33h-14.48zM1482.64 247.35h14.48v12.33h-14.48zM1482.64 259.68h14.48v12.33h-14.48zM1251 272.01h14.48v12.33h-14.48zM1265.48 272.01h14.48v12.33h-14.48zM1352.34 272.01h14.48v12.33h-14.48zM1366.82 272.01h14.48v12.33h-14.48zM1323.39 284.35h14.48v12.33h-14.48zM1251 296.68h14.48v12.33h-14.48zM1265.48 296.68h14.48v12.33h-14.48zM1410.25 296.68h14.48v12.33h-14.48zM1323.39 309.01h14.48v12.33h-14.48zM1410.25 309.01h14.48v12.33h-14.48zM1424.73 309.01h14.48v12.33h-14.48zM1251 321.34h14.48v12.33h-14.48zM1511.59 321.34h14.48v12.33h-14.48zM1497.11 333.67h14.48v12.33h-14.48z"/>
<path fill="#880000" d="M1308.91 111.7h14.48v12.33h-14.48zM1323.39 124.03h14.48v12.33h-14.48zM1251 161.03h14.48v12.33h-14.48zM1381.3 161.03h14.48v12.33h-14.48zM1395.77 161.03h14.48v12.33h-14.48zM1410.25 161.03h14.48v12.33h-14.48zM1424.73 161.03h14.48v12.33h-14.48zM1439.2 161.03h14.48v12.33h-14.48zM1265.48 173.36h14.48v12.33h-14.48zM1424.73 198.02h14.48v12.33h-14.48zM1424.73 210.35h14.48v12.33h-14.48zM1308.91 222.69h14.48v12.33h-14.48zM1439.2 222.69h14.48v12.33h-14.48zM1308.91 235.02h14.48v12.33h-14.48zM1453.68 235.02h14.48v12.33h-14.48zM1308.91 247.35h14.48v12.33h-14.48zM1453.68 247.35h14.48v12.33h-14.48zM1308.91 259.68h14.48v12.33h-14.48zM1352.34 259.68h14.48v12.33h-14.48zM1366.82 259.68h14.48v12.33h-14.48zM1468.16 259.68h14.48v12.33h-14.48zM1497.11 259.68h14.48v12.33h-14.48zM1308.91 272.01h14.48v12.33h-14.48zM1381.3 272.01h14.48v12.33h-14.48zM1482.64 272.01h14.48v12.33h-14.48zM1395.77 284.35h14.48v12.33h-14.48zM1410.25 284.35h14.48v12.33h-14.48zM1424.73 296.68h14.48v12.33h-14.48zM1439.2 309.01h14.48v12.33h-14.48zM1424.73 321.34h14.48v12.33h-14.48zM1540.55 346h14.48v12.33h-14.48zM1555.02 346h14.48v12.33h-14.48zM1526.07 358.34h14.48v12.33h-14.48zM1555.02 358.34h14.48v12.33h-14.48zM1526.07 370.67h14.48v12.33h-14.48zM1540.55 370.67h14.48v12.33h-14.48z"/>
<path fill="#C80000" d="M1279.95 124.03h14.48v12.33h-14.48zM1265.48 136.36h14.48v12.33h-14.48zM1352.34 161.03h14.48v12.33h-14.48zM1424.73 173.36h14.48v12.33h-14.48zM1439.2 173.36h14.48v12.33h-14.48zM1308.91 198.02h14.48v12.33h-14.48zM1424.73 222.69h14.48v12.33h-14.48zM1323.39 259.68h14.48v12.33h-14.48zM1381.3 259.68h14.48v12.33h-14.48zM1323.39 272.01h14.48v12.33h-14.48z"/>
<path fill="#F00000" d="M1366.82 173.36h14.48v12.33h-14.48zM1395.77 185.69h14.48v12.33h-14.48zM1323.39 210.35h14.48v12.33h-14.48zM1337.86 235.02h14.48v12.33h-14.48zM1439.2 235.02h14.48v12.33h-14.48zM1439.2 247.35h14.48v12.33h-14.48zM1395.77 272.01h14.48v12.33h-14.48zM1410.25 272.01h14.48v12.33h-14.48zM1497.11 272.01h14.48v12.33h-14.48zM1482.64 284.35h14.48v12.33h-14.48zM1453.68 309.01h14.48v12.33h-14.48zM1439.2 321.34h14.48v12.33h-14.48z"/>
<path fill="#FF3000" d="M1381.3 173.36h14.48v12.33h-14.48zM1395.77 173.36h14.48v12.33h-14.48zM1410.25 173.36h14.48v12.33h-14.48zM1381.3 185.69h14.48v12.33h-14.48zM1323.39 222.69h14.48v12.33h-14.48zM1337.86 222.69h14.48v12.33h-14.48zM1323.39 235.02h14.48v12.33h-14.48zM1424.73 235.02h14.48v12.33h-14.48zM1323.39 247.35h14.48v12.33h-14.48zM1395.77 259.68h14.48v12.33h-14.48zM1468.16 272.01h14.48v12.33h-14.48zM1439.2 296.68h14.48v12.33h-14.48z"/>
<path fill="#FF6800" d="M1265.48 111.7h14.48v12.33h-14.48zM1251 124.03h14.48v12.33h-14.48zM1323.39 161.03h14.48v12.33h-14.48zM1308.91 173.36h14.48v12.33h-14.48zM1352.34 173.36h14.48v12.33h-14.48zM1352.34 185.69h14.48v12.33h-14.48zM1410.25 185.69h14.48v12.33h-14.48zM1323.39 198.02h14.48v12.33h-14.48zM1337.86 198.02h14.48v12.33h-14.48zM1337.86 247.35h14.48v12.33h-14.48zM1424.73 247.35h14.48v12.33h-14.48zM1410.25 259.68h14.48v12.33h-14.48zM1497.11 284.35h14.48v12.33h-14.48zM1453.68 321.34h14.48v12.33h-14.48z"/>
<path fill="#FFA000" d="M1279.95 111.7h14.48v12.33h-14.48zM1251 136.36h14.48v12.33h-14.48zM1366.82 185.69h14.48v12.33h-14.48zM1395.77 198.02h14.48v12.33h-14.48zM1410.25 198.02h14.48v12.33h-14.48zM1337.86 210.35h14.48v12.33h-14.48zM1352.34 235.02h14.48v12.33h-14.48zM1352.34 247.35h14.48v12.33h-14.48zM1453.68 259.68h14.48v12.33h-14.48zM1453.68 272.01h14.48v12.33h-14.48zM1424.73 284.35h14.48v12.33h-14.48zM1439.2 284.35h14.48v12.33h-14.48zM1497.11 296.68h14.48v12.33h-14.48zM1497.11 309.01h14.48v12.33h-14.48zM1468.16 321.34h14.48v12.33h-14.48zM1482.64 321.34h14.48v12.33h-14.48z"/>
<path fill="#FFC800" d="M1381.3 198.02h14.48v12.33h-14.48zM1410.25 210.35h14.48v12.33h-14.48zM1352.34 222.69h14.48v12.33h-14.48zM1366.82 247.35h14.48v12.33h-14.48zM1468.16 284.35h14.48v12.33h-14.48zM1453.68 296.68h14.48v12.33h-14.48z"/>
<path fill="#FFF800" d="M1366.82 198.02h14.48v12.33h-14.48zM1352.34 210.35h14.48v12.33h-14.48zM1395.77 210.35h14.48v12.33h-14.48zM1410.25 222.69h14.48v12.33h-14.48zM1366.82 235.02h14.48v12.33h-14.48zM1381.3 247.35h14.48v12.33h-14.48zM1439.2 259.68h14.48v12.33h-14.48zM1424.73 272.01h14.48v12.33h-14.48zM1482.64 296.68h14.48v12.33h-14.48zM1468.16 309.01h14.48v12.33h-14.48z"/>
<path fill="#FFFF50" d="M1381.3 210.35h14.48v12.33h-14.48zM1366.82 222.69h14.48v12.33h-14.48zM1395.77 222.69h14.48v12.33h-14.48zM1381.3 235.02h14.48v12.33h-14.48zM1410.25 235.02h14.48v12.33h-14.48zM1395.77 247.35h14.48v12.33h-14.48z"/>
<path fill="#FFFFC0" d="M1251 111.7h14.48v12.33h-14.48zM1265.48 124.03h14.48v12.33h-14.48zM1279.95 136.36h14.48v12.33h-14.48zM1294.43 148.7h14.48v12.33h-14.48zM1308.91 161.03h14.48v12.33h-14.48zM1323.39 173.36h14.48v12.33h-14.48zM1337.86 185.69h14.48v12.33h-14.48zM1352.34 198.02h14.48v12.33h-14.48zM1366.82 210.35h14.48v12.33h-14.48zM1381.3 222.69h14.48v12.33h-14.48zM1395.77 235.02h14.48v12.33h-14.48zM1410.25 247.35h14.48v12.33h-14.48zM1424.73 259.68h14.48v12.33h-14.48zM1439.2 272.01h14.48v12.33h-14.48zM1453.68 284.35h14.48v12.33h-14.48zM1468.16 296.68h14.48v12.33h-14.48zM1482.64 309.01h14.48v12.33h-14.48zM1497.11 321.34h14.48v12.33h-14.48zM1511.59 333.67h14.48v12.33h-14.48zM1526.07 346h14.48v12.33h-14.48zM1540.55 358.34h14.48v12.33h-14.48zM1555.02 370.67h14.48v12.33h-14.48z"/>
<path fill="none" stroke="#000" stroke-opacity="0.66" stroke-width="1.0" d="M1265.48 111.7V383M1279.95 111.7V383M1294.43 111.7V383M1308.91 111.7V383M1323.39 111.7V383M1337.86 111.7V383M1352.34 111.7V383M1366.82 111.7V383M1381.3 111.7V383M1395.77 111.7V383M1410.25 111.7V383M1424.73 111.7V383M1439.2 111.7V383M1453.68 111.7V383M1468.16 111.7V383M1482.64 111.7V383M1497.11 111.7V383M1511.59 111.7V383M1526.07 111.7V383M1540.55 111.7V383M1555.02 111.7V383M1251 124.03H1569.5M1251 136.36H1569.5M1251 148.7H1569.5M1251 161.03H1569.5M1251 173.36H1569.5M1251 185.69H1569.5M1251 198.02H1569.5M1251 210.35H1569.5M1251 222.69H1569.5M1251 235.02H1569.5M1251 247.35H1569.5M1251 259.68H1569.5M1251 272.01H1569.5M1251 284.35H1569.5M1251 296.68H1569.5M1251 309.01H1569.5M1251 321.34H1569.5M1251 333.67H1569.5M1251 346H1569.5M1251 358.34H1569.5M1251 370.67H1569.5"/>
<rect x="1251" y="111.7" width="318.5" height="271.3" fill="none" stroke="#555" stroke-opacity="0.6" stroke-width="0.8"/>
<g font-family="'Liberation Sans', sans-serif" font-size="13.8" fill="#111">
<text transform="translate(1245.2 122.77) scale(0.93 1)" text-anchor="end">1</text>
<text transform="translate(1245.2 135.1) scale(0.93 1)" text-anchor="end">2</text>
<text transform="translate(1245.2 147.43) scale(0.93 1)" text-anchor="end">3</text>
<text transform="translate(1245.2 159.76) scale(0.93 1)" text-anchor="end">4</text>
<text transform="translate(1245.2 172.09) scale(0.93 1)" text-anchor="end">5</text>
<text transform="translate(1245.2 184.43) scale(0.93 1)" text-anchor="end">6</text>
<text transform="translate(1245.2 196.76) scale(0.93 1)" text-anchor="end">7</text>
<text transform="translate(1245.2 209.09) scale(0.93 1)" text-anchor="end">8</text>
<text transform="translate(1245.2 221.42) scale(0.93 1)" text-anchor="end">9</text>
<text transform="translate(1245.2 233.75) scale(0.93 1)" text-anchor="end">10</text>
<text transform="translate(1245.2 246.08) scale(0.93 1)" text-anchor="end">11</text>
<text transform="translate(1245.2 258.42) scale(0.93 1)" text-anchor="end">12</text>
<text transform="translate(1245.2 270.75) scale(0.93 1)" text-anchor="end">13</text>
<text transform="translate(1245.2 283.08) scale(0.93 1)" text-anchor="end">14</text>
<text transform="translate(1245.2 295.41) scale(0.93 1)" text-anchor="end">15</text>
<text transform="translate(1245.2 307.74) scale(0.93 1)" text-anchor="end">16</text>
<text transform="translate(1245.2 320.07) scale(0.93 1)" text-anchor="end">17</text>
<text transform="translate(1245.2 332.41) scale(0.93 1)" text-anchor="end">18</text>
<text transform="translate(1245.2 344.74) scale(0.93 1)" text-anchor="end">19</text>
<text transform="translate(1245.2 357.07) scale(0.93 1)" text-anchor="end">20</text>
<text transform="translate(1245.2 369.4) scale(0.93 1)" text-anchor="end">21</text>
<text transform="translate(1245.2 381.73) scale(0.93 1)" text-anchor="end">22</text>
<text transform="translate(1258.24 400.3) scale(0.93 1)" text-anchor="middle">1</text>
<text transform="translate(1272.72 400.3) scale(0.93 1)" text-anchor="middle">2</text>
<text transform="translate(1287.19 400.3) scale(0.93 1)" text-anchor="middle">3</text>
<text transform="translate(1301.67 400.3) scale(0.93 1)" text-anchor="middle">4</text>
<text transform="translate(1316.15 400.3) scale(0.93 1)" text-anchor="middle">5</text>
<text transform="translate(1330.62 400.3) scale(0.93 1)" text-anchor="middle">6</text>
<text transform="translate(1345.1 400.3) scale(0.93 1)" text-anchor="middle">7</text>
<text transform="translate(1359.58 400.3) scale(0.93 1)" text-anchor="middle">8</text>
<text transform="translate(1374.06 400.3) scale(0.93 1)" text-anchor="middle">9</text>
<text transform="translate(1388.53 400.3) scale(0.93 1)" text-anchor="middle">10</text>
<text transform="translate(1403.01 400.3) scale(0.93 1)" text-anchor="middle">11</text>
<text transform="translate(1417.49 400.3) scale(0.93 1)" text-anchor="middle">12</text>
<text transform="translate(1431.97 400.3) scale(0.93 1)" text-anchor="middle">13</text>
<text transform="translate(1446.44 400.3) scale(0.93 1)" text-anchor="middle">14</text>
<text transform="translate(1460.92 400.3) scale(0.93 1)" text-anchor="middle">15</text>
<text transform="translate(1475.4 400.3) scale(0.93 1)" text-anchor="middle">16</text>
<text transform="translate(1489.88 400.3) scale(0.93 1)" text-anchor="middle">17</text>
<text transform="translate(1504.35 400.3) scale(0.93 1)" text-anchor="middle">18</text>
<text transform="translate(1518.83 400.3) scale(0.93 1)" text-anchor="middle">19</text>
<text transform="translate(1533.31 400.3) scale(0.93 1)" text-anchor="middle">20</text>
<text transform="translate(1547.78 400.3) scale(0.93 1)" text-anchor="middle">21</text>
<text transform="translate(1562.26 400.3) scale(0.93 1)" text-anchor="middle">22</text>
</g></g>
<g id="hm-d">
<path fill="#90FFFF" d="M1909.81 185.69h14.46v12.33h-14.46zM1721.78 346h14.46v12.33h-14.46z"/>
<path fill="#00F0FF" d="M1851.95 136.36h14.46v12.33h-14.46zM1823.03 185.69h14.46v12.33h-14.46zM1721.78 272.01h14.46v12.33h-14.46zM1663.93 296.68h14.46v12.33h-14.46zM1924.27 296.68h14.46v12.33h-14.46zM1851.95 358.34h14.46v12.33h-14.46z"/>
<path fill="#00B8FF" d="M1909.81 111.7h14.46v12.33h-14.46zM1866.42 136.36h14.46v12.33h-14.46zM1851.95 148.7h14.46v12.33h-14.46zM1895.35 148.7h14.46v12.33h-14.46zM1909.81 173.36h14.46v12.33h-14.46zM1895.35 198.02h14.46v12.33h-14.46zM1909.81 222.69h14.46v12.33h-14.46zM1909.81 247.35h14.46v12.33h-14.46zM1678.39 296.68h14.46v12.33h-14.46zM1663.93 309.01h14.46v12.33h-14.46zM1678.39 333.67h14.46v12.33h-14.46zM1736.25 333.67h14.46v12.33h-14.46zM1635 346h14.46v12.33h-14.46zM1707.32 346h14.46v12.33h-14.46zM1765.17 346h14.46v12.33h-14.46zM1794.1 346h14.46v12.33h-14.46z"/>
<path fill="#0090FF" d="M1880.88 136.36h14.46v12.33h-14.46zM1938.74 136.36h14.46v12.33h-14.46zM1924.27 148.7h14.46v12.33h-14.46zM1938.74 148.7h14.46v12.33h-14.46zM1909.81 161.03h14.46v12.33h-14.46zM1938.74 161.03h14.46v12.33h-14.46zM1924.27 173.36h14.46v12.33h-14.46zM1924.27 185.69h14.46v12.33h-14.46zM1938.74 185.69h14.46v12.33h-14.46zM1909.81 210.35h14.46v12.33h-14.46zM1851.95 222.69h14.46v12.33h-14.46zM1765.17 296.68h14.46v12.33h-14.46zM1909.81 296.68h14.46v12.33h-14.46zM1663.93 321.34h14.46v12.33h-14.46zM1692.85 346h14.46v12.33h-14.46zM1750.71 346h14.46v12.33h-14.46zM1851.95 346h14.46v12.33h-14.46zM1678.39 358.34h14.46v12.33h-14.46zM1707.32 358.34h14.46v12.33h-14.46zM1721.78 358.34h14.46v12.33h-14.46zM1663.93 370.67h14.46v12.33h-14.46zM1678.39 370.67h14.46v12.33h-14.46zM1692.85 370.67h14.46v12.33h-14.46zM1721.78 370.67h14.46v12.33h-14.46z"/>
<path fill="#0058FF" d="M1924.27 111.7h14.46v12.33h-14.46zM1750.71 136.36h14.46v12.33h-14.46zM1924.27 136.36h14.46v12.33h-14.46zM1808.56 148.7h14.46v12.33h-14.46zM1866.42 148.7h14.46v12.33h-14.46zM1880.88 148.7h14.46v12.33h-14.46zM1909.81 148.7h14.46v12.33h-14.46zM1924.27 161.03h14.46v12.33h-14.46zM1851.95 173.36h14.46v12.33h-14.46zM1808.56 185.69h14.46v12.33h-14.46zM1837.49 185.69h14.46v12.33h-14.46zM1851.95 185.69h14.46v12.33h-14.46zM1880.88 185.69h14.46v12.33h-14.46zM1895.35 185.69h14.46v12.33h-14.46zM1909.81 198.02h14.46v12.33h-14.46zM1938.74 198.02h14.46v12.33h-14.46zM1663.93 210.35h14.46v12.33h-14.46zM1895.35 210.35h14.46v12.33h-14.46zM1866.42 222.69h14.46v12.33h-14.46zM1909.81 235.02h14.46v12.33h-14.46zM1924.27 235.02h14.46v12.33h-14.46zM1938.74 235.02h14.46v12.33h-14.46zM1924.27 247.35h14.46v12.33h-14.46zM1678.39 259.68h14.46v12.33h-14.46zM1721.78 259.68h14.46v12.33h-14.46zM1721.78 284.35h14.46v12.33h-14.46zM1707.32 296.68h14.46v12.33h-14.46zM1721.78 296.68h14.46v12.33h-14.46zM1678.39 309.01h14.46v12.33h-14.46zM1765.17 309.01h14.46v12.33h-14.46zM1678.39 321.34h14.46v12.33h-14.46zM1721.78 321.34h14.46v12.33h-14.46zM1721.78 333.67h14.46v12.33h-14.46zM1750.71 333.67h14.46v12.33h-14.46zM1924.27 333.67h14.46v12.33h-14.46zM1678.39 346h14.46v12.33h-14.46zM1736.25 346h14.46v12.33h-14.46zM1779.64 346h14.46v12.33h-14.46zM1635 358.34h14.46v12.33h-14.46zM1663.93 358.34h14.46v12.33h-14.46zM1692.85 358.34h14.46v12.33h-14.46zM1779.64 358.34h14.46v12.33h-14.46zM1794.1 358.34h14.46v12.33h-14.46zM1895.35 358.34h14.46v12.33h-14.46zM1736.25 370.67h14.46v12.33h-14.46zM1779.64 370.67h14.46v12.33h-14.46z"/>
<path fill="#0010FF" d="M1721.78 111.7h14.46v12.33h-14.46zM1750.71 111.7h14.46v12.33h-14.46zM1765.17 111.7h14.46v12.33h-14.46zM1779.64 111.7h14.46v12.33h-14.46zM1721.78 124.03h14.46v12.33h-14.46zM1851.95 124.03h14.46v12.33h-14.46zM1909.81 124.03h14.46v12.33h-14.46zM1707.32 136.36h14.46v12.33h-14.46zM1721.78 136.36h14.46v12.33h-14.46zM1779.64 136.36h14.46v12.33h-14.46zM1837.49 136.36h14.46v12.33h-14.46zM1895.35 136.36h14.46v12.33h-14.46zM1909.81 136.36h14.46v12.33h-14.46zM1837.49 148.7h14.46v12.33h-14.46zM1851.95 161.03h14.46v12.33h-14.46zM1663.93 173.36h14.46v12.33h-14.46zM1837.49 173.36h14.46v12.33h-14.46zM1866.42 173.36h14.46v12.33h-14.46zM1895.35 173.36h14.46v12.33h-14.46zM1938.74 173.36h14.46v12.33h-14.46zM1635 185.69h14.46v12.33h-14.46zM1649.46 185.69h14.46v12.33h-14.46zM1663.93 185.69h14.46v12.33h-14.46zM1866.42 185.69h14.46v12.33h-14.46zM1851.95 198.02h14.46v12.33h-14.46zM1924.27 198.02h14.46v12.33h-14.46zM1635 210.35h14.46v12.33h-14.46zM1851.95 210.35h14.46v12.33h-14.46zM1938.74 210.35h14.46v12.33h-14.46zM1635 222.69h14.46v12.33h-14.46zM1895.35 222.69h14.46v12.33h-14.46zM1635 235.02h14.46v12.33h-14.46zM1663.93 235.02h14.46v12.33h-14.46zM1851.95 247.35h14.46v12.33h-14.46zM1938.74 247.35h14.46v12.33h-14.46zM1851.95 259.68h14.46v12.33h-14.46zM1663.93 284.35h14.46v12.33h-14.46zM1678.39 284.35h14.46v12.33h-14.46zM1707.32 284.35h14.46v12.33h-14.46zM1909.81 284.35h14.46v12.33h-14.46zM1924.27 284.35h14.46v12.33h-14.46zM1649.46 296.68h14.46v12.33h-14.46zM1692.85 296.68h14.46v12.33h-14.46zM1736.25 296.68h14.46v12.33h-14.46zM1750.71 296.68h14.46v12.33h-14.46zM1794.1 296.68h14.46v12.33h-14.46zM1808.56 296.68h14.46v12.33h-14.46zM1938.74 296.68h14.46v12.33h-14.46zM1707.32 309.01h14.46v12.33h-14.46zM1721.78 309.01h14.46v12.33h-14.46zM1924.27 309.01h14.46v12.33h-14.46zM1663.93 333.67h14.46v12.33h-14.46zM1707.32 333.67h14.46v12.33h-14.46zM1909.81 333.67h14.46v12.33h-14.46zM1649.46 346h14.46v12.33h-14.46zM1663.93 346h14.46v12.33h-14.46zM1837.49 346h14.46v12.33h-14.46zM1895.35 346h14.46v12.33h-14.46zM1736.25 358.34h14.46v12.33h-14.46zM1837.49 358.34h14.46v12.33h-14.46zM1866.42 358.34h14.46v12.33h-14.46zM1707.32 370.67h14.46v12.33h-14.46zM1750.71 370.67h14.46v12.33h-14.46zM1794.1 370.67h14.46v12.33h-14.46zM1851.95 370.67h14.46v12.33h-14.46z"/>
<path fill="#0000D0" d="M1736.25 111.7h14.46v12.33h-14.46zM1794.1 111.7h14.46v12.33h-14.46zM1938.74 111.7h14.46v12.33h-14.46zM1924.27 124.03h14.46v12.33h-14.46zM1938.74 124.03h14.46v12.33h-14.46zM1736.25 136.36h14.46v12.33h-14.46zM1765.17 136.36h14.46v12.33h-14.46zM1794.1 136.36h14.46v12.33h-14.46zM1794.1 148.7h14.46v12.33h-14.46zM1823.03 148.7h14.46v12.33h-14.46zM1750.71 161.03h14.46v12.33h-14.46zM1866.42 161.03h14.46v12.33h-14.46zM1880.88 161.03h14.46v12.33h-14.46zM1823.03 173.36h14.46v12.33h-14.46zM1880.88 173.36h14.46v12.33h-14.46zM1635 198.02h14.46v12.33h-14.46zM1663.93 198.02h14.46v12.33h-14.46zM1866.42 198.02h14.46v12.33h-14.46zM1880.88 198.02h14.46v12.33h-14.46zM1692.85 210.35h14.46v12.33h-14.46zM1866.42 210.35h14.46v12.33h-14.46zM1924.27 210.35h14.46v12.33h-14.46zM1663.93 222.69h14.46v12.33h-14.46zM1837.49 222.69h14.46v12.33h-14.46zM1880.88 222.69h14.46v12.33h-14.46zM1924.27 222.69h14.46v12.33h-14.46zM1938.74 222.69h14.46v12.33h-14.46zM1851.95 235.02h14.46v12.33h-14.46zM1635 247.35h14.46v12.33h-14.46zM1663.93 247.35h14.46v12.33h-14.46zM1678.39 247.35h14.46v12.33h-14.46zM1895.35 247.35h14.46v12.33h-14.46zM1909.81 259.68h14.46v12.33h-14.46zM1678.39 272.01h14.46v12.33h-14.46zM1707.32 272.01h14.46v12.33h-14.46zM1924.27 272.01h14.46v12.33h-14.46zM1750.71 284.35h14.46v12.33h-14.46zM1765.17 284.35h14.46v12.33h-14.46zM1779.64 296.68h14.46v12.33h-14.46zM1692.85 309.01h14.46v12.33h-14.46zM1736.25 309.01h14.46v12.33h-14.46zM1750.71 309.01h14.46v12.33h-14.46zM1909.81 309.01h14.46v12.33h-14.46zM1692.85 321.34h14.46v12.33h-14.46zM1707.32 321.34h14.46v12.33h-14.46zM1736.25 321.34h14.46v12.33h-14.46zM1765.17 321.34h14.46v12.33h-14.46zM1765.17 333.67h14.46v12.33h-14.46zM1794.1 333.67h14.46v12.33h-14.46zM1808.56 346h14.46v12.33h-14.46zM1866.42 346h14.46v12.33h-14.46zM1649.46 358.34h14.46v12.33h-14.46zM1750.71 358.34h14.46v12.33h-14.46zM1765.17 358.34h14.46v12.33h-14.46zM1823.03 358.34h14.46v12.33h-14.46zM1635 370.67h14.46v12.33h-14.46zM1649.46 370.67h14.46v12.33h-14.46zM1765.17 370.67h14.46v12.33h-14.46z"/>
<path fill="#000090" d="M1678.39 111.7h14.46v12.33h-14.46zM1837.49 111.7h14.46v12.33h-14.46zM1851.95 111.7h14.46v12.33h-14.46zM1866.42 111.7h14.46v12.33h-14.46zM1880.88 111.7h14.46v12.33h-14.46zM1765.17 124.03h14.46v12.33h-14.46zM1866.42 124.03h14.46v12.33h-14.46zM1895.35 124.03h14.46v12.33h-14.46zM1808.56 136.36h14.46v12.33h-14.46zM1823.03 136.36h14.46v12.33h-14.46zM1635 148.7h14.46v12.33h-14.46zM1779.64 148.7h14.46v12.33h-14.46zM1707.32 161.03h14.46v12.33h-14.46zM1736.25 161.03h14.46v12.33h-14.46zM1765.17 161.03h14.46v12.33h-14.46zM1779.64 161.03h14.46v12.33h-14.46zM1895.35 161.03h14.46v12.33h-14.46zM1692.85 173.36h14.46v12.33h-14.46zM1692.85 198.02h14.46v12.33h-14.46zM1808.56 210.35h14.46v12.33h-14.46zM1823.03 210.35h14.46v12.33h-14.46zM1837.49 210.35h14.46v12.33h-14.46zM1880.88 210.35h14.46v12.33h-14.46zM1649.46 222.69h14.46v12.33h-14.46zM1692.85 222.69h14.46v12.33h-14.46zM1823.03 222.69h14.46v12.33h-14.46zM1678.39 235.02h14.46v12.33h-14.46zM1692.85 235.02h14.46v12.33h-14.46zM1895.35 235.02h14.46v12.33h-14.46zM1866.42 247.35h14.46v12.33h-14.46zM1880.88 247.35h14.46v12.33h-14.46zM1663.93 259.68h14.46v12.33h-14.46zM1750.71 259.68h14.46v12.33h-14.46zM1924.27 259.68h14.46v12.33h-14.46zM1663.93 272.01h14.46v12.33h-14.46zM1750.71 272.01h14.46v12.33h-14.46zM1765.17 272.01h14.46v12.33h-14.46zM1851.95 272.01h14.46v12.33h-14.46zM1909.81 272.01h14.46v12.33h-14.46zM1938.74 272.01h14.46v12.33h-14.46zM1635 284.35h14.46v12.33h-14.46zM1938.74 284.35h14.46v12.33h-14.46zM1635 296.68h14.46v12.33h-14.46zM1823.03 296.68h14.46v12.33h-14.46zM1635 309.01h14.46v12.33h-14.46zM1649.46 309.01h14.46v12.33h-14.46zM1794.1 309.01h14.46v12.33h-14.46zM1635 321.34h14.46v12.33h-14.46zM1750.71 321.34h14.46v12.33h-14.46zM1794.1 321.34h14.46v12.33h-14.46zM1909.81 321.34h14.46v12.33h-14.46zM1924.27 321.34h14.46v12.33h-14.46zM1649.46 333.67h14.46v12.33h-14.46zM1692.85 333.67h14.46v12.33h-14.46zM1779.64 333.67h14.46v12.33h-14.46zM1938.74 333.67h14.46v12.33h-14.46zM1823.03 346h14.46v12.33h-14.46zM1880.88 346h14.46v12.33h-14.46zM1808.56 358.34h14.46v12.33h-14.46zM1880.88 358.34h14.46v12.33h-14.46zM1823.03 370.67h14.46v12.33h-14.46zM1837.49 370.67h14.46v12.33h-14.46zM1895.35 370.67h14.46v12.33h-14.46z"/>
<path fill="#000050" d="M1707.32 111.7h14.46v12.33h-14.46zM1678.39 124.03h14.46v12.33h-14.46zM1692.85 124.03h14.46v12.33h-14.46zM1707.32 124.03h14.46v12.33h-14.46zM1750.71 124.03h14.46v12.33h-14.46zM1794.1 124.03h14.46v12.33h-14.46zM1880.88 124.03h14.46v12.33h-14.46zM1678.39 136.36h14.46v12.33h-14.46zM1649.46 148.7h14.46v12.33h-14.46zM1663.93 148.7h14.46v12.33h-14.46zM1707.32 148.7h14.46v12.33h-14.46zM1721.78 148.7h14.46v12.33h-14.46zM1736.25 148.7h14.46v12.33h-14.46zM1765.17 148.7h14.46v12.33h-14.46zM1649.46 161.03h14.46v12.33h-14.46zM1808.56 161.03h14.46v12.33h-14.46zM1837.49 161.03h14.46v12.33h-14.46zM1635 173.36h14.46v12.33h-14.46zM1649.46 173.36h14.46v12.33h-14.46zM1678.39 173.36h14.46v12.33h-14.46zM1808.56 173.36h14.46v12.33h-14.46zM1678.39 185.69h14.46v12.33h-14.46zM1678.39 198.02h14.46v12.33h-14.46zM1837.49 198.02h14.46v12.33h-14.46zM1649.46 210.35h14.46v12.33h-14.46zM1678.39 222.69h14.46v12.33h-14.46zM1866.42 235.02h14.46v12.33h-14.46zM1649.46 247.35h14.46v12.33h-14.46zM1823.03 247.35h14.46v12.33h-14.46zM1692.85 259.68h14.46v12.33h-14.46zM1707.32 259.68h14.46v12.33h-14.46zM1866.42 259.68h14.46v12.33h-14.46zM1938.74 259.68h14.46v12.33h-14.46zM1794.1 272.01h14.46v12.33h-14.46zM1692.85 284.35h14.46v12.33h-14.46zM1736.25 284.35h14.46v12.33h-14.46zM1895.35 284.35h14.46v12.33h-14.46zM1895.35 296.68h14.46v12.33h-14.46zM1779.64 309.01h14.46v12.33h-14.46zM1808.56 309.01h14.46v12.33h-14.46zM1938.74 309.01h14.46v12.33h-14.46zM1649.46 321.34h14.46v12.33h-14.46zM1837.49 333.67h14.46v12.33h-14.46zM1851.95 333.67h14.46v12.33h-14.46zM1808.56 370.67h14.46v12.33h-14.46zM1866.42 370.67h14.46v12.33h-14.46z"/>
<path fill="#000020" d="M1663.93 111.7h14.46v12.33h-14.46zM1808.56 111.7h14.46v12.33h-14.46zM1823.03 111.7h14.46v12.33h-14.46zM1895.35 111.7h14.46v12.33h-14.46zM1837.49 124.03h14.46v12.33h-14.46zM1635 136.36h14.46v12.33h-14.46zM1750.71 148.7h14.46v12.33h-14.46zM1823.03 161.03h14.46v12.33h-14.46zM1779.64 185.69h14.46v12.33h-14.46zM1823.03 198.02h14.46v12.33h-14.46zM1678.39 210.35h14.46v12.33h-14.46zM1721.78 235.02h14.46v12.33h-14.46zM1880.88 235.02h14.46v12.33h-14.46zM1635 259.68h14.46v12.33h-14.46zM1895.35 259.68h14.46v12.33h-14.46zM1635 272.01h14.46v12.33h-14.46zM1692.85 272.01h14.46v12.33h-14.46zM1736.25 272.01h14.46v12.33h-14.46zM1895.35 272.01h14.46v12.33h-14.46zM1649.46 284.35h14.46v12.33h-14.46zM1779.64 321.34h14.46v12.33h-14.46zM1635 333.67h14.46v12.33h-14.46zM1808.56 333.67h14.46v12.33h-14.46zM1823.03 333.67h14.46v12.33h-14.46z"/>
<path fill="#180000" d="M1736.25 124.03h14.46v12.33h-14.46zM1721.78 161.03h14.46v12.33h-14.46zM1794.1 161.03h14.46v12.33h-14.46zM1692.85 185.69h14.46v12.33h-14.46zM1649.46 198.02h14.46v12.33h-14.46zM1692.85 247.35h14.46v12.33h-14.46zM1938.74 321.34h14.46v12.33h-14.46zM1880.88 370.67h14.46v12.33h-14.46z"/>
<path fill="#480000" d="M1692.85 111.7h14.46v12.33h-14.46zM1663.93 124.03h14.46v12.33h-14.46zM1779.64 124.03h14.46v12.33h-14.46zM1808.56 124.03h14.46v12.33h-14.46zM1823.03 124.03h14.46v12.33h-14.46zM1649.46 136.36h14.46v12.33h-14.46zM1692.85 148.7h14.46v12.33h-14.46zM1635 161.03h14.46v12.33h-14.46zM1678.39 161.03h14.46v12.33h-14.46zM1736.25 173.36h14.46v12.33h-14.46zM1736.25 185.69h14.46v12.33h-14.46zM1707.32 198.02h14.46v12.33h-14.46zM1721.78 198.02h14.46v12.33h-14.46zM1765.17 198.02h14.46v12.33h-14.46zM1808.56 198.02h14.46v12.33h-14.46zM1736.25 222.69h14.46v12.33h-14.46zM1808.56 222.69h14.46v12.33h-14.46zM1649.46 235.02h14.46v12.33h-14.46zM1808.56 235.02h14.46v12.33h-14.46zM1837.49 235.02h14.46v12.33h-14.46zM1837.49 247.35h14.46v12.33h-14.46zM1649.46 259.68h14.46v12.33h-14.46zM1736.25 259.68h14.46v12.33h-14.46zM1765.17 259.68h14.46v12.33h-14.46zM1779.64 259.68h14.46v12.33h-14.46zM1649.46 272.01h14.46v12.33h-14.46zM1779.64 284.35h14.46v12.33h-14.46zM1794.1 284.35h14.46v12.33h-14.46zM1851.95 284.35h14.46v12.33h-14.46zM1837.49 296.68h14.46v12.33h-14.46zM1880.88 296.68h14.46v12.33h-14.46zM1851.95 321.34h14.46v12.33h-14.46zM1924.27 346h14.46v12.33h-14.46zM1938.74 346h14.46v12.33h-14.46zM1909.81 358.34h14.46v12.33h-14.46zM1938.74 358.34h14.46v12.33h-14.46zM1909.81 370.67h14.46v12.33h-14.46zM1924.27 370.67h14.46v12.33h-14.46z"/>
<path fill="#880000" d="M1692.85 136.36h14.46v12.33h-14.46zM1663.93 161.03h14.46v12.33h-14.46zM1721.78 173.36h14.46v12.33h-14.46zM1750.71 173.36h14.46v12.33h-14.46zM1765.17 173.36h14.46v12.33h-14.46zM1779.64 173.36h14.46v12.33h-14.46zM1707.32 185.69h14.46v12.33h-14.46zM1779.64 198.02h14.46v12.33h-14.46zM1794.1 198.02h14.46v12.33h-14.46zM1707.32 210.35h14.46v12.33h-14.46zM1707.32 222.69h14.46v12.33h-14.46zM1707.32 235.02h14.46v12.33h-14.46zM1736.25 235.02h14.46v12.33h-14.46zM1823.03 235.02h14.46v12.33h-14.46zM1736.25 247.35h14.46v12.33h-14.46zM1880.88 259.68h14.46v12.33h-14.46zM1779.64 272.01h14.46v12.33h-14.46zM1866.42 272.01h14.46v12.33h-14.46zM1823.03 309.01h14.46v12.33h-14.46zM1895.35 309.01h14.46v12.33h-14.46zM1808.56 321.34h14.46v12.33h-14.46zM1866.42 333.67h14.46v12.33h-14.46z"/>
<path fill="#C80000" d="M1649.46 111.7h14.46v12.33h-14.46zM1635 124.03h14.46v12.33h-14.46zM1794.1 173.36h14.46v12.33h-14.46zM1794.1 185.69h14.46v12.33h-14.46zM1794.1 210.35h14.46v12.33h-14.46zM1707.32 247.35h14.46v12.33h-14.46zM1721.78 247.35h14.46v12.33h-14.46zM1750.71 247.35h14.46v12.33h-14.46zM1880.88 272.01h14.46v12.33h-14.46zM1823.03 321.34h14.46v12.33h-14.46z"/>
<path fill="#F00000" d="M1750.71 185.69h14.46v12.33h-14.46zM1765.17 185.69h14.46v12.33h-14.46zM1750.71 198.02h14.46v12.33h-14.46zM1721.78 210.35h14.46v12.33h-14.46zM1736.25 210.35h14.46v12.33h-14.46zM1721.78 222.69h14.46v12.33h-14.46zM1808.56 247.35h14.46v12.33h-14.46zM1794.1 259.68h14.46v12.33h-14.46zM1880.88 284.35h14.46v12.33h-14.46zM1837.49 321.34h14.46v12.33h-14.46z"/>
<path fill="#FF3000" d="M1837.49 259.68h14.46v12.33h-14.46zM1808.56 284.35h14.46v12.33h-14.46zM1866.42 296.68h14.46v12.33h-14.46zM1851.95 309.01h14.46v12.33h-14.46zM1895.35 321.34h14.46v12.33h-14.46zM1880.88 333.67h14.46v12.33h-14.46z"/>
<path fill="#FF6800" d="M1823.03 259.68h14.46v12.33h-14.46zM1808.56 272.01h14.46v12.33h-14.46zM1866.42 284.35h14.46v12.33h-14.46zM1837.49 309.01h14.46v12.33h-14.46z"/>
<path fill="#FFA000" d="M1779.64 210.35h14.46v12.33h-14.46zM1779.64 222.69h14.46v12.33h-14.46zM1794.1 222.69h14.46v12.33h-14.46zM1750.71 235.02h14.46v12.33h-14.46zM1765.17 235.02h14.46v12.33h-14.46zM1794.1 235.02h14.46v12.33h-14.46zM1765.17 247.35h14.46v12.33h-14.46zM1779.64 247.35h14.46v12.33h-14.46zM1837.49 272.01h14.46v12.33h-14.46zM1823.03 284.35h14.46v12.33h-14.46zM1880.88 309.01h14.46v12.33h-14.46zM1866.42 321.34h14.46v12.33h-14.46z"/>
<path fill="#FFF800" d="M1765.17 210.35h14.46v12.33h-14.46zM1750.71 222.69h14.46v12.33h-14.46z"/>
<path fill="#FFFFC0" d="M1635 111.7h14.46v12.33h-14.46zM1649.46 124.03h14.46v12.33h-14.46zM1663.93 136.36h14.46v12.33h-14.46zM1678.39 148.7h14.46v12.33h-14.46zM1692.85 161.03h14.46v12.33h-14.46zM1707.32 173.36h14.46v12.33h-14.46zM1721.78 185.69h14.46v12.33h-14.46zM1736.25 198.02h14.46v12.33h-14.46zM1750.71 210.35h14.46v12.33h-14.46zM1765.17 222.69h14.46v12.33h-14.46zM1779.64 235.02h14.46v12.33h-14.46zM1794.1 247.35h14.46v12.33h-14.46zM1808.56 259.68h14.46v12.33h-14.46zM1823.03 272.01h14.46v12.33h-14.46zM1837.49 284.35h14.46v12.33h-14.46zM1851.95 296.68h14.46v12.33h-14.46zM1866.42 309.01h14.46v12.33h-14.46zM1880.88 321.34h14.46v12.33h-14.46zM1895.35 333.67h14.46v12.33h-14.46zM1909.81 346h14.46v12.33h-14.46zM1924.27 358.34h14.46v12.33h-14.46zM1938.74 370.67h14.46v12.33h-14.46z"/>
<path fill="none" stroke="#000" stroke-opacity="0.66" stroke-width="1.0" d="M1649.46 111.7V383M1663.93 111.7V383M1678.39 111.7V383M1692.85 111.7V383M1707.32 111.7V383M1721.78 111.7V383M1736.25 111.7V383M1750.71 111.7V383M1765.17 111.7V383M1779.64 111.7V383M1794.1 111.7V383M1808.56 111.7V383M1823.03 111.7V383M1837.49 111.7V383M1851.95 111.7V383M1866.42 111.7V383M1880.88 111.7V383M1895.35 111.7V383M1909.81 111.7V383M1924.27 111.7V383M1938.74 111.7V383M1635 124.03H1953.2M1635 136.36H1953.2M1635 148.7H1953.2M1635 161.03H1953.2M1635 173.36H1953.2M1635 185.69H1953.2M1635 198.02H1953.2M1635 210.35H1953.2M1635 222.69H1953.2M1635 235.02H1953.2M1635 247.35H1953.2M1635 259.68H1953.2M1635 272.01H1953.2M1635 284.35H1953.2M1635 296.68H1953.2M1635 309.01H1953.2M1635 321.34H1953.2M1635 333.67H1953.2M1635 346H1953.2M1635 358.34H1953.2M1635 370.67H1953.2"/>
<rect x="1635" y="111.7" width="318.2" height="271.3" fill="none" stroke="#555" stroke-opacity="0.6" stroke-width="0.8"/>
<g font-family="'Liberation Sans', sans-serif" font-size="13.8" fill="#111">
<text transform="translate(1629.2 122.77) scale(0.93 1)" text-anchor="end">1</text>
<text transform="translate(1629.2 135.1) scale(0.93 1)" text-anchor="end">2</text>
<text transform="translate(1629.2 147.43) scale(0.93 1)" text-anchor="end">3</text>
<text transform="translate(1629.2 159.76) scale(0.93 1)" text-anchor="end">4</text>
<text transform="translate(1629.2 172.09) scale(0.93 1)" text-anchor="end">5</text>
<text transform="translate(1629.2 184.43) scale(0.93 1)" text-anchor="end">6</text>
<text transform="translate(1629.2 196.76) scale(0.93 1)" text-anchor="end">7</text>
<text transform="translate(1629.2 209.09) scale(0.93 1)" text-anchor="end">8</text>
<text transform="translate(1629.2 221.42) scale(0.93 1)" text-anchor="end">9</text>
<text transform="translate(1629.2 233.75) scale(0.93 1)" text-anchor="end">10</text>
<text transform="translate(1629.2 246.08) scale(0.93 1)" text-anchor="end">11</text>
<text transform="translate(1629.2 258.42) scale(0.93 1)" text-anchor="end">12</text>
<text transform="translate(1629.2 270.75) scale(0.93 1)" text-anchor="end">13</text>
<text transform="translate(1629.2 283.08) scale(0.93 1)" text-anchor="end">14</text>
<text transform="translate(1629.2 295.41) scale(0.93 1)" text-anchor="end">15</text>
<text transform="translate(1629.2 307.74) scale(0.93 1)" text-anchor="end">16</text>
<text transform="translate(1629.2 320.07) scale(0.93 1)" text-anchor="end">17</text>
<text transform="translate(1629.2 332.41) scale(0.93 1)" text-anchor="end">18</text>
<text transform="translate(1629.2 344.74) scale(0.93 1)" text-anchor="end">19</text>
<text transform="translate(1629.2 357.07) scale(0.93 1)" text-anchor="end">20</text>
<text transform="translate(1629.2 369.4) scale(0.93 1)" text-anchor="end">21</text>
<text transform="translate(1629.2 381.73) scale(0.93 1)" text-anchor="end">22</text>
<text transform="translate(1642.23 400.3) scale(0.93 1)" text-anchor="middle">1</text>
<text transform="translate(1656.7 400.3) scale(0.93 1)" text-anchor="middle">2</text>
<text transform="translate(1671.16 400.3) scale(0.93 1)" text-anchor="middle">3</text>
<text transform="translate(1685.62 400.3) scale(0.93 1)" text-anchor="middle">4</text>
<text transform="translate(1700.09 400.3) scale(0.93 1)" text-anchor="middle">5</text>
<text transform="translate(1714.55 400.3) scale(0.93 1)" text-anchor="middle">6</text>
<text transform="translate(1729.01 400.3) scale(0.93 1)" text-anchor="middle">7</text>
<text transform="translate(1743.48 400.3) scale(0.93 1)" text-anchor="middle">8</text>
<text transform="translate(1757.94 400.3) scale(0.93 1)" text-anchor="middle">9</text>
<text transform="translate(1772.4 400.3) scale(0.93 1)" text-anchor="middle">10</text>
<text transform="translate(1786.87 400.3) scale(0.93 1)" text-anchor="middle">11</text>
<text transform="translate(1801.33 400.3) scale(0.93 1)" text-anchor="middle">12</text>
<text transform="translate(1815.8 400.3) scale(0.93 1)" text-anchor="middle">13</text>
<text transform="translate(1830.26 400.3) scale(0.93 1)" text-anchor="middle">14</text>
<text transform="translate(1844.72 400.3) scale(0.93 1)" text-anchor="middle">15</text>
<text transform="translate(1859.19 400.3) scale(0.93 1)" text-anchor="middle">16</text>
<text transform="translate(1873.65 400.3) scale(0.93 1)" text-anchor="middle">17</text>
<text transform="translate(1888.11 400.3) scale(0.93 1)" text-anchor="middle">18</text>
<text transform="translate(1902.58 400.3) scale(0.93 1)" text-anchor="middle">19</text>
<text transform="translate(1917.04 400.3) scale(0.93 1)" text-anchor="middle">20</text>
<text transform="translate(1931.5 400.3) scale(0.93 1)" text-anchor="middle">21</text>
<text transform="translate(1945.97 400.3) scale(0.93 1)" text-anchor="middle">22</text>
</g></g>
<g id="hm-e">
<path fill="#000088" d="M425 461.8h14.48v12.3h-14.48zM439.48 474.1h14.48v12.3h-14.48zM453.95 486.41h14.48v12.3h-14.48zM468.43 498.71h14.48v12.3h-14.48zM482.91 511.02h14.48v12.3h-14.48zM497.39 523.32h14.48v12.3h-14.48zM511.86 535.63h14.48v12.3h-14.48zM526.34 547.93h14.48v12.3h-14.48zM540.82 560.24h14.48v12.3h-14.48zM555.3 572.54h14.48v12.3h-14.48zM569.77 584.85h14.48v12.3h-14.48zM584.25 597.15h14.48v12.3h-14.48zM598.73 609.45h14.48v12.3h-14.48zM613.2 621.76h14.48v12.3h-14.48zM627.68 634.06h14.48v12.3h-14.48zM642.16 646.37h14.48v12.3h-14.48zM656.64 658.67h14.48v12.3h-14.48zM671.11 670.98h14.48v12.3h-14.48zM685.59 683.28h14.48v12.3h-14.48zM700.07 695.59h14.48v12.3h-14.48zM714.55 707.89h14.48v12.3h-14.48zM729.02 720.2h14.48v12.3h-14.48z"/>
<path fill="#0060FF" d="M569.77 572.54h14.48v12.3h-14.48zM555.3 584.85h14.48v12.3h-14.48z"/>
<path fill="#00B8FF" d="M598.73 461.8h14.48v12.3h-14.48zM714.55 461.8h14.48v12.3h-14.48zM714.55 486.41h14.48v12.3h-14.48zM613.2 511.02h14.48v12.3h-14.48zM425 609.45h14.48v12.3h-14.48zM482.91 621.76h14.48v12.3h-14.48zM425 707.89h14.48v12.3h-14.48zM453.95 707.89h14.48v12.3h-14.48z"/>
<path fill="#10F8F0" d="M613.2 461.8h14.48v12.3h-14.48zM627.68 461.8h14.48v12.3h-14.48zM598.73 474.1h14.48v12.3h-14.48zM714.55 474.1h14.48v12.3h-14.48zM729.02 474.1h14.48v12.3h-14.48zM700.07 486.41h14.48v12.3h-14.48zM729.02 486.41h14.48v12.3h-14.48zM642.16 498.71h14.48v12.3h-14.48zM642.16 511.02h14.48v12.3h-14.48zM729.02 511.02h14.48v12.3h-14.48zM729.02 560.24h14.48v12.3h-14.48zM584.25 572.54h14.48v12.3h-14.48zM584.25 584.85h14.48v12.3h-14.48zM555.3 597.15h14.48v12.3h-14.48zM569.77 597.15h14.48v12.3h-14.48zM439.48 609.45h14.48v12.3h-14.48zM425 621.76h14.48v12.3h-14.48zM425 634.06h14.48v12.3h-14.48zM468.43 646.37h14.48v12.3h-14.48zM482.91 646.37h14.48v12.3h-14.48zM453.95 695.59h14.48v12.3h-14.48zM439.48 707.89h14.48v12.3h-14.48zM439.48 720.2h14.48v12.3h-14.48zM453.95 720.2h14.48v12.3h-14.48zM482.91 720.2h14.48v12.3h-14.48zM540.82 720.2h14.48v12.3h-14.48z"/>
<path fill="#40FFC0" d="M584.25 461.8h14.48v12.3h-14.48zM642.16 461.8h14.48v12.3h-14.48zM656.64 461.8h14.48v12.3h-14.48zM671.11 461.8h14.48v12.3h-14.48zM685.59 461.8h14.48v12.3h-14.48zM729.02 461.8h14.48v12.3h-14.48zM642.16 474.1h14.48v12.3h-14.48zM656.64 474.1h14.48v12.3h-14.48zM671.11 474.1h14.48v12.3h-14.48zM700.07 474.1h14.48v12.3h-14.48zM700.07 498.71h14.48v12.3h-14.48zM714.55 498.71h14.48v12.3h-14.48zM584.25 547.93h14.48v12.3h-14.48zM729.02 547.93h14.48v12.3h-14.48zM729.02 572.54h14.48v12.3h-14.48zM729.02 584.85h14.48v12.3h-14.48zM425 597.15h14.48v12.3h-14.48zM526.34 597.15h14.48v12.3h-14.48zM642.16 597.15h14.48v12.3h-14.48zM425 646.37h14.48v12.3h-14.48zM439.48 646.37h14.48v12.3h-14.48zM584.25 646.37h14.48v12.3h-14.48zM425 658.67h14.48v12.3h-14.48zM439.48 658.67h14.48v12.3h-14.48zM425 670.98h14.48v12.3h-14.48zM439.48 670.98h14.48v12.3h-14.48zM425 683.28h14.48v12.3h-14.48zM439.48 695.59h14.48v12.3h-14.48zM468.43 695.59h14.48v12.3h-14.48zM468.43 707.89h14.48v12.3h-14.48zM425 720.2h14.48v12.3h-14.48zM526.34 720.2h14.48v12.3h-14.48zM555.3 720.2h14.48v12.3h-14.48zM569.77 720.2h14.48v12.3h-14.48z"/>
<path fill="#60FFA0" d="M700.07 461.8h14.48v12.3h-14.48zM613.2 474.1h14.48v12.3h-14.48zM685.59 474.1h14.48v12.3h-14.48zM656.64 498.71h14.48v12.3h-14.48zM729.02 498.71h14.48v12.3h-14.48zM714.55 511.02h14.48v12.3h-14.48zM729.02 535.63h14.48v12.3h-14.48zM700.07 547.93h14.48v12.3h-14.48zM425 572.54h14.48v12.3h-14.48zM613.2 597.15h14.48v12.3h-14.48zM439.48 621.76h14.48v12.3h-14.48zM584.25 621.76h14.48v12.3h-14.48zM656.64 646.37h14.48v12.3h-14.48zM468.43 658.67h14.48v12.3h-14.48zM642.16 658.67h14.48v12.3h-14.48zM425 695.59h14.48v12.3h-14.48zM526.34 695.59h14.48v12.3h-14.48zM482.91 707.89h14.48v12.3h-14.48zM468.43 720.2h14.48v12.3h-14.48zM511.86 720.2h14.48v12.3h-14.48z"/>
<path fill="#80FF80" d="M482.91 461.8h14.48v12.3h-14.48zM555.3 461.8h14.48v12.3h-14.48zM569.77 461.8h14.48v12.3h-14.48zM511.86 474.1h14.48v12.3h-14.48zM526.34 474.1h14.48v12.3h-14.48zM627.68 474.1h14.48v12.3h-14.48zM642.16 486.41h14.48v12.3h-14.48zM425 511.02h14.48v12.3h-14.48zM627.68 511.02h14.48v12.3h-14.48zM656.64 511.02h14.48v12.3h-14.48zM671.11 511.02h14.48v12.3h-14.48zM700.07 511.02h14.48v12.3h-14.48zM439.48 523.32h14.48v12.3h-14.48zM613.2 523.32h14.48v12.3h-14.48zM642.16 523.32h14.48v12.3h-14.48zM729.02 523.32h14.48v12.3h-14.48zM439.48 535.63h14.48v12.3h-14.48zM439.48 547.93h14.48v12.3h-14.48zM656.64 547.93h14.48v12.3h-14.48zM555.3 560.24h14.48v12.3h-14.48zM584.25 560.24h14.48v12.3h-14.48zM540.82 572.54h14.48v12.3h-14.48zM425 584.85h14.48v12.3h-14.48zM700.07 584.85h14.48v12.3h-14.48zM540.82 597.15h14.48v12.3h-14.48zM671.11 597.15h14.48v12.3h-14.48zM729.02 597.15h14.48v12.3h-14.48zM497.39 621.76h14.48v12.3h-14.48zM627.68 621.76h14.48v12.3h-14.48zM439.48 634.06h14.48v12.3h-14.48zM482.91 634.06h14.48v12.3h-14.48zM613.2 634.06h14.48v12.3h-14.48zM453.95 646.37h14.48v12.3h-14.48zM497.39 646.37h14.48v12.3h-14.48zM714.55 646.37h14.48v12.3h-14.48zM482.91 658.67h14.48v12.3h-14.48zM526.34 658.67h14.48v12.3h-14.48zM482.91 670.98h14.48v12.3h-14.48zM584.25 670.98h14.48v12.3h-14.48zM439.48 683.28h14.48v12.3h-14.48zM482.91 695.59h14.48v12.3h-14.48zM569.77 695.59h14.48v12.3h-14.48zM642.16 707.89h14.48v12.3h-14.48zM497.39 720.2h14.48v12.3h-14.48zM584.25 720.2h14.48v12.3h-14.48z"/>
<path fill="#A0FF60" d="M497.39 461.8h14.48v12.3h-14.48zM511.86 461.8h14.48v12.3h-14.48zM497.39 474.1h14.48v12.3h-14.48zM555.3 474.1h14.48v12.3h-14.48zM569.77 474.1h14.48v12.3h-14.48zM584.25 474.1h14.48v12.3h-14.48zM656.64 486.41h14.48v12.3h-14.48zM613.2 498.71h14.48v12.3h-14.48zM627.68 498.71h14.48v12.3h-14.48zM671.11 498.71h14.48v12.3h-14.48zM685.59 498.71h14.48v12.3h-14.48zM425 523.32h14.48v12.3h-14.48zM627.68 523.32h14.48v12.3h-14.48zM700.07 523.32h14.48v12.3h-14.48zM425 535.63h14.48v12.3h-14.48zM700.07 535.63h14.48v12.3h-14.48zM642.16 547.93h14.48v12.3h-14.48zM714.55 547.93h14.48v12.3h-14.48zM569.77 560.24h14.48v12.3h-14.48zM642.16 560.24h14.48v12.3h-14.48zM656.64 560.24h14.48v12.3h-14.48zM700.07 560.24h14.48v12.3h-14.48zM439.48 572.54h14.48v12.3h-14.48zM642.16 572.54h14.48v12.3h-14.48zM700.07 572.54h14.48v12.3h-14.48zM439.48 584.85h14.48v12.3h-14.48zM540.82 584.85h14.48v12.3h-14.48zM642.16 584.85h14.48v12.3h-14.48zM439.48 597.15h14.48v12.3h-14.48zM627.68 597.15h14.48v12.3h-14.48zM700.07 597.15h14.48v12.3h-14.48zM714.55 597.15h14.48v12.3h-14.48zM627.68 609.45h14.48v12.3h-14.48zM642.16 609.45h14.48v12.3h-14.48zM468.43 621.76h14.48v12.3h-14.48zM642.16 621.76h14.48v12.3h-14.48zM714.55 621.76h14.48v12.3h-14.48zM729.02 621.76h14.48v12.3h-14.48zM468.43 634.06h14.48v12.3h-14.48zM497.39 634.06h14.48v12.3h-14.48zM584.25 634.06h14.48v12.3h-14.48zM598.73 634.06h14.48v12.3h-14.48zM671.11 634.06h14.48v12.3h-14.48zM526.34 646.37h14.48v12.3h-14.48zM540.82 646.37h14.48v12.3h-14.48zM555.3 646.37h14.48v12.3h-14.48zM569.77 646.37h14.48v12.3h-14.48zM598.73 646.37h14.48v12.3h-14.48zM613.2 646.37h14.48v12.3h-14.48zM453.95 658.67h14.48v12.3h-14.48zM540.82 658.67h14.48v12.3h-14.48zM468.43 670.98h14.48v12.3h-14.48zM627.68 670.98h14.48v12.3h-14.48zM468.43 683.28h14.48v12.3h-14.48zM497.39 695.59h14.48v12.3h-14.48zM511.86 695.59h14.48v12.3h-14.48zM540.82 695.59h14.48v12.3h-14.48zM555.3 695.59h14.48v12.3h-14.48zM584.25 695.59h14.48v12.3h-14.48zM714.55 695.59h14.48v12.3h-14.48zM729.02 695.59h14.48v12.3h-14.48zM526.34 707.89h14.48v12.3h-14.48zM584.25 707.89h14.48v12.3h-14.48zM613.2 707.89h14.48v12.3h-14.48zM700.07 707.89h14.48v12.3h-14.48zM613.2 720.2h14.48v12.3h-14.48zM700.07 720.2h14.48v12.3h-14.48z"/>
<path fill="#C0FF40" d="M526.34 461.8h14.48v12.3h-14.48zM540.82 461.8h14.48v12.3h-14.48zM468.43 474.1h14.48v12.3h-14.48zM482.91 474.1h14.48v12.3h-14.48zM540.82 474.1h14.48v12.3h-14.48zM627.68 486.41h14.48v12.3h-14.48zM671.11 486.41h14.48v12.3h-14.48zM439.48 498.71h14.48v12.3h-14.48zM439.48 511.02h14.48v12.3h-14.48zM497.39 511.02h14.48v12.3h-14.48zM685.59 511.02h14.48v12.3h-14.48zM482.91 523.32h14.48v12.3h-14.48zM671.11 523.32h14.48v12.3h-14.48zM714.55 523.32h14.48v12.3h-14.48zM642.16 535.63h14.48v12.3h-14.48zM425 547.93h14.48v12.3h-14.48zM425 560.24h14.48v12.3h-14.48zM439.48 560.24h14.48v12.3h-14.48zM714.55 560.24h14.48v12.3h-14.48zM714.55 584.85h14.48v12.3h-14.48zM656.64 597.15h14.48v12.3h-14.48zM613.2 609.45h14.48v12.3h-14.48zM671.11 609.45h14.48v12.3h-14.48zM714.55 609.45h14.48v12.3h-14.48zM729.02 609.45h14.48v12.3h-14.48zM598.73 621.76h14.48v12.3h-14.48zM656.64 621.76h14.48v12.3h-14.48zM671.11 621.76h14.48v12.3h-14.48zM700.07 621.76h14.48v12.3h-14.48zM453.95 634.06h14.48v12.3h-14.48zM729.02 634.06h14.48v12.3h-14.48zM511.86 646.37h14.48v12.3h-14.48zM729.02 646.37h14.48v12.3h-14.48zM584.25 658.67h14.48v12.3h-14.48zM613.2 658.67h14.48v12.3h-14.48zM453.95 670.98h14.48v12.3h-14.48zM497.39 670.98h14.48v12.3h-14.48zM598.73 670.98h14.48v12.3h-14.48zM613.2 670.98h14.48v12.3h-14.48zM482.91 683.28h14.48v12.3h-14.48zM613.2 695.59h14.48v12.3h-14.48zM497.39 707.89h14.48v12.3h-14.48zM540.82 707.89h14.48v12.3h-14.48zM569.77 707.89h14.48v12.3h-14.48zM598.73 707.89h14.48v12.3h-14.48zM598.73 720.2h14.48v12.3h-14.48zM627.68 720.2h14.48v12.3h-14.48zM642.16 720.2h14.48v12.3h-14.48z"/>
<path fill="#E8FF18" d="M613.2 486.41h14.48v12.3h-14.48zM685.59 486.41h14.48v12.3h-14.48zM598.73 498.71h14.48v12.3h-14.48zM555.3 511.02h14.48v12.3h-14.48zM598.73 511.02h14.48v12.3h-14.48zM555.3 523.32h14.48v12.3h-14.48zM656.64 523.32h14.48v12.3h-14.48zM714.55 535.63h14.48v12.3h-14.48zM540.82 547.93h14.48v12.3h-14.48zM569.77 547.93h14.48v12.3h-14.48zM598.73 547.93h14.48v12.3h-14.48zM613.2 547.93h14.48v12.3h-14.48zM526.34 560.24h14.48v12.3h-14.48zM685.59 560.24h14.48v12.3h-14.48zM482.91 572.54h14.48v12.3h-14.48zM497.39 572.54h14.48v12.3h-14.48zM613.2 572.54h14.48v12.3h-14.48zM627.68 572.54h14.48v12.3h-14.48zM656.64 572.54h14.48v12.3h-14.48zM671.11 572.54h14.48v12.3h-14.48zM714.55 572.54h14.48v12.3h-14.48zM526.34 584.85h14.48v12.3h-14.48zM613.2 584.85h14.48v12.3h-14.48zM627.68 584.85h14.48v12.3h-14.48zM656.64 584.85h14.48v12.3h-14.48zM482.91 609.45h14.48v12.3h-14.48zM526.34 609.45h14.48v12.3h-14.48zM526.34 621.76h14.48v12.3h-14.48zM555.3 621.76h14.48v12.3h-14.48zM569.77 621.76h14.48v12.3h-14.48zM555.3 634.06h14.48v12.3h-14.48zM569.77 634.06h14.48v12.3h-14.48zM642.16 634.06h14.48v12.3h-14.48zM685.59 634.06h14.48v12.3h-14.48zM714.55 634.06h14.48v12.3h-14.48zM627.68 646.37h14.48v12.3h-14.48zM700.07 646.37h14.48v12.3h-14.48zM497.39 658.67h14.48v12.3h-14.48zM555.3 658.67h14.48v12.3h-14.48zM569.77 658.67h14.48v12.3h-14.48zM453.95 683.28h14.48v12.3h-14.48zM540.82 683.28h14.48v12.3h-14.48zM627.68 683.28h14.48v12.3h-14.48zM642.16 695.59h14.48v12.3h-14.48zM555.3 707.89h14.48v12.3h-14.48zM627.68 707.89h14.48v12.3h-14.48zM729.02 707.89h14.48v12.3h-14.48zM714.55 720.2h14.48v12.3h-14.48z"/>
<path fill="#FFF800" d="M598.73 486.41h14.48v12.3h-14.48zM598.73 523.32h14.48v12.3h-14.48zM671.11 547.93h14.48v12.3h-14.48zM685.59 547.93h14.48v12.3h-14.48zM613.2 560.24h14.48v12.3h-14.48zM685.59 572.54h14.48v12.3h-14.48zM671.11 584.85h14.48v12.3h-14.48zM598.73 597.15h14.48v12.3h-14.48zM685.59 597.15h14.48v12.3h-14.48zM453.95 609.45h14.48v12.3h-14.48zM468.43 609.45h14.48v12.3h-14.48zM497.39 609.45h14.48v12.3h-14.48zM584.25 609.45h14.48v12.3h-14.48zM656.64 609.45h14.48v12.3h-14.48zM700.07 609.45h14.48v12.3h-14.48zM453.95 621.76h14.48v12.3h-14.48zM540.82 621.76h14.48v12.3h-14.48zM685.59 621.76h14.48v12.3h-14.48zM656.64 634.06h14.48v12.3h-14.48zM700.07 634.06h14.48v12.3h-14.48zM598.73 658.67h14.48v12.3h-14.48zM627.68 658.67h14.48v12.3h-14.48zM714.55 658.67h14.48v12.3h-14.48zM729.02 658.67h14.48v12.3h-14.48zM526.34 670.98h14.48v12.3h-14.48zM555.3 670.98h14.48v12.3h-14.48zM569.77 670.98h14.48v12.3h-14.48zM526.34 683.28h14.48v12.3h-14.48zM555.3 683.28h14.48v12.3h-14.48zM584.25 683.28h14.48v12.3h-14.48zM613.2 683.28h14.48v12.3h-14.48zM598.73 695.59h14.48v12.3h-14.48zM627.68 695.59h14.48v12.3h-14.48zM511.86 707.89h14.48v12.3h-14.48zM656.64 707.89h14.48v12.3h-14.48zM656.64 720.2h14.48v12.3h-14.48z"/>
<path fill="#FFD000" d="M468.43 461.8h14.48v12.3h-14.48zM555.3 486.41h14.48v12.3h-14.48zM569.77 486.41h14.48v12.3h-14.48zM584.25 486.41h14.48v12.3h-14.48zM425 498.71h14.48v12.3h-14.48zM584.25 511.02h14.48v12.3h-14.48zM584.25 523.32h14.48v12.3h-14.48zM685.59 523.32h14.48v12.3h-14.48zM671.11 535.63h14.48v12.3h-14.48zM685.59 535.63h14.48v12.3h-14.48zM627.68 547.93h14.48v12.3h-14.48zM627.68 560.24h14.48v12.3h-14.48zM671.11 560.24h14.48v12.3h-14.48zM453.95 572.54h14.48v12.3h-14.48zM598.73 572.54h14.48v12.3h-14.48zM453.95 584.85h14.48v12.3h-14.48zM598.73 584.85h14.48v12.3h-14.48zM685.59 584.85h14.48v12.3h-14.48zM453.95 597.15h14.48v12.3h-14.48zM482.91 597.15h14.48v12.3h-14.48zM497.39 597.15h14.48v12.3h-14.48zM555.3 609.45h14.48v12.3h-14.48zM569.77 609.45h14.48v12.3h-14.48zM685.59 609.45h14.48v12.3h-14.48zM526.34 634.06h14.48v12.3h-14.48zM540.82 634.06h14.48v12.3h-14.48zM700.07 658.67h14.48v12.3h-14.48zM511.86 670.98h14.48v12.3h-14.48zM540.82 670.98h14.48v12.3h-14.48zM729.02 670.98h14.48v12.3h-14.48zM497.39 683.28h14.48v12.3h-14.48zM511.86 683.28h14.48v12.3h-14.48zM569.77 683.28h14.48v12.3h-14.48zM598.73 683.28h14.48v12.3h-14.48zM714.55 683.28h14.48v12.3h-14.48zM729.02 683.28h14.48v12.3h-14.48zM656.64 695.59h14.48v12.3h-14.48zM685.59 707.89h14.48v12.3h-14.48zM671.11 720.2h14.48v12.3h-14.48zM685.59 720.2h14.48v12.3h-14.48z"/>
<path fill="#FFA800" d="M482.91 498.71h14.48v12.3h-14.48zM584.25 498.71h14.48v12.3h-14.48zM468.43 511.02h14.48v12.3h-14.48zM540.82 511.02h14.48v12.3h-14.48zM569.77 511.02h14.48v12.3h-14.48zM569.77 523.32h14.48v12.3h-14.48zM584.25 535.63h14.48v12.3h-14.48zM627.68 535.63h14.48v12.3h-14.48zM656.64 535.63h14.48v12.3h-14.48zM555.3 547.93h14.48v12.3h-14.48zM482.91 560.24h14.48v12.3h-14.48zM598.73 560.24h14.48v12.3h-14.48zM526.34 572.54h14.48v12.3h-14.48zM482.91 584.85h14.48v12.3h-14.48zM497.39 584.85h14.48v12.3h-14.48zM468.43 597.15h14.48v12.3h-14.48zM511.86 597.15h14.48v12.3h-14.48zM540.82 609.45h14.48v12.3h-14.48zM511.86 634.06h14.48v12.3h-14.48zM685.59 646.37h14.48v12.3h-14.48zM511.86 658.67h14.48v12.3h-14.48zM642.16 683.28h14.48v12.3h-14.48z"/>
<path fill="#FF8800" d="M468.43 486.41h14.48v12.3h-14.48zM497.39 486.41h14.48v12.3h-14.48zM511.86 486.41h14.48v12.3h-14.48zM540.82 486.41h14.48v12.3h-14.48zM453.95 498.71h14.48v12.3h-14.48zM497.39 498.71h14.48v12.3h-14.48zM453.95 523.32h14.48v12.3h-14.48zM468.43 523.32h14.48v12.3h-14.48zM540.82 523.32h14.48v12.3h-14.48zM453.95 535.63h14.48v12.3h-14.48zM526.34 535.63h14.48v12.3h-14.48zM613.2 535.63h14.48v12.3h-14.48zM511.86 547.93h14.48v12.3h-14.48zM453.95 560.24h14.48v12.3h-14.48zM497.39 560.24h14.48v12.3h-14.48zM511.86 621.76h14.48v12.3h-14.48zM671.11 646.37h14.48v12.3h-14.48zM642.16 670.98h14.48v12.3h-14.48zM700.07 670.98h14.48v12.3h-14.48zM714.55 670.98h14.48v12.3h-14.48zM671.11 695.59h14.48v12.3h-14.48zM671.11 707.89h14.48v12.3h-14.48z"/>
<path fill="#FF6000" d="M482.91 486.41h14.48v12.3h-14.48zM526.34 486.41h14.48v12.3h-14.48zM526.34 498.71h14.48v12.3h-14.48zM569.77 498.71h14.48v12.3h-14.48zM453.95 511.02h14.48v12.3h-14.48zM526.34 511.02h14.48v12.3h-14.48zM540.82 535.63h14.48v12.3h-14.48zM598.73 535.63h14.48v12.3h-14.48zM453.95 547.93h14.48v12.3h-14.48zM468.43 547.93h14.48v12.3h-14.48zM482.91 547.93h14.48v12.3h-14.48zM511.86 560.24h14.48v12.3h-14.48zM468.43 584.85h14.48v12.3h-14.48zM511.86 609.45h14.48v12.3h-14.48zM671.11 658.67h14.48v12.3h-14.48zM656.64 670.98h14.48v12.3h-14.48zM700.07 683.28h14.48v12.3h-14.48zM685.59 695.59h14.48v12.3h-14.48z"/>
<path fill="#FF3800" d="M439.48 461.8h14.48v12.3h-14.48zM425 474.1h14.48v12.3h-14.48zM540.82 498.71h14.48v12.3h-14.48zM555.3 498.71h14.48v12.3h-14.48zM526.34 523.32h14.48v12.3h-14.48zM569.77 535.63h14.48v12.3h-14.48zM497.39 547.93h14.48v12.3h-14.48zM468.43 560.24h14.48v12.3h-14.48zM468.43 572.54h14.48v12.3h-14.48zM511.86 584.85h14.48v12.3h-14.48zM685.59 658.67h14.48v12.3h-14.48zM685.59 670.98h14.48v12.3h-14.48zM656.64 683.28h14.48v12.3h-14.48zM671.11 683.28h14.48v12.3h-14.48z"/>
<path fill="#F80808" d="M453.95 461.8h14.48v12.3h-14.48zM453.95 474.1h14.48v12.3h-14.48zM425 486.41h14.48v12.3h-14.48zM439.48 486.41h14.48v12.3h-14.48zM555.3 535.63h14.48v12.3h-14.48zM511.86 572.54h14.48v12.3h-14.48z"/>
<path fill="#D00000" d="M511.86 498.71h14.48v12.3h-14.48zM511.86 511.02h14.48v12.3h-14.48zM468.43 535.63h14.48v12.3h-14.48zM482.91 535.63h14.48v12.3h-14.48z"/>
<path fill="#800000" d="M511.86 523.32h14.48v12.3h-14.48zM497.39 535.63h14.48v12.3h-14.48z"/>
<path fill="none" stroke="#000" stroke-opacity="0.66" stroke-width="1.0" d="M439.48 461.8V732.5M453.95 461.8V732.5M468.43 461.8V732.5M482.91 461.8V732.5M497.39 461.8V732.5M511.86 461.8V732.5M526.34 461.8V732.5M540.82 461.8V732.5M555.3 461.8V732.5M569.77 461.8V732.5M584.25 461.8V732.5M598.73 461.8V732.5M613.2 461.8V732.5M627.68 461.8V732.5M642.16 461.8V732.5M656.64 461.8V732.5M671.11 461.8V732.5M685.59 461.8V732.5M700.07 461.8V732.5M714.55 461.8V732.5M729.02 461.8V732.5M425 474.1H743.5M425 486.41H743.5M425 498.71H743.5M425 511.02H743.5M425 523.32H743.5M425 535.63H743.5M425 547.93H743.5M425 560.24H743.5M425 572.54H743.5M425 584.85H743.5M425 597.15H743.5M425 609.45H743.5M425 621.76H743.5M425 634.06H743.5M425 646.37H743.5M425 658.67H743.5M425 670.98H743.5M425 683.28H743.5M425 695.59H743.5M425 707.89H743.5M425 720.2H743.5"/>
<rect x="425" y="461.8" width="318.5" height="270.7" fill="none" stroke="#555" stroke-opacity="0.6" stroke-width="0.8"/>
<g font-family="'Liberation Sans', sans-serif" font-size="13.8" fill="#111">
<text transform="translate(419.2 472.85) scale(0.93 1)" text-anchor="end">1</text>
<text transform="translate(419.2 485.16) scale(0.93 1)" text-anchor="end">2</text>
<text transform="translate(419.2 497.46) scale(0.93 1)" text-anchor="end">3</text>
<text transform="translate(419.2 509.77) scale(0.93 1)" text-anchor="end">4</text>
<text transform="translate(419.2 522.07) scale(0.93 1)" text-anchor="end">5</text>
<text transform="translate(419.2 534.38) scale(0.93 1)" text-anchor="end">6</text>
<text transform="translate(419.2 546.68) scale(0.93 1)" text-anchor="end">7</text>
<text transform="translate(419.2 558.98) scale(0.93 1)" text-anchor="end">8</text>
<text transform="translate(419.2 571.29) scale(0.93 1)" text-anchor="end">9</text>
<text transform="translate(419.2 583.59) scale(0.93 1)" text-anchor="end">10</text>
<text transform="translate(419.2 595.9) scale(0.93 1)" text-anchor="end">11</text>
<text transform="translate(419.2 608.2) scale(0.93 1)" text-anchor="end">12</text>
<text transform="translate(419.2 620.51) scale(0.93 1)" text-anchor="end">13</text>
<text transform="translate(419.2 632.81) scale(0.93 1)" text-anchor="end">14</text>
<text transform="translate(419.2 645.12) scale(0.93 1)" text-anchor="end">15</text>
<text transform="translate(419.2 657.42) scale(0.93 1)" text-anchor="end">16</text>
<text transform="translate(419.2 669.73) scale(0.93 1)" text-anchor="end">17</text>
<text transform="translate(419.2 682.03) scale(0.93 1)" text-anchor="end">18</text>
<text transform="translate(419.2 694.33) scale(0.93 1)" text-anchor="end">19</text>
<text transform="translate(419.2 706.64) scale(0.93 1)" text-anchor="end">20</text>
<text transform="translate(419.2 718.94) scale(0.93 1)" text-anchor="end">21</text>
<text transform="translate(419.2 731.25) scale(0.93 1)" text-anchor="end">22</text>
<text transform="translate(432.24 749.8) scale(0.93 1)" text-anchor="middle">1</text>
<text transform="translate(446.72 749.8) scale(0.93 1)" text-anchor="middle">2</text>
<text transform="translate(461.19 749.8) scale(0.93 1)" text-anchor="middle">3</text>
<text transform="translate(475.67 749.8) scale(0.93 1)" text-anchor="middle">4</text>
<text transform="translate(490.15 749.8) scale(0.93 1)" text-anchor="middle">5</text>
<text transform="translate(504.62 749.8) scale(0.93 1)" text-anchor="middle">6</text>
<text transform="translate(519.1 749.8) scale(0.93 1)" text-anchor="middle">7</text>
<text transform="translate(533.58 749.8) scale(0.93 1)" text-anchor="middle">8</text>
<text transform="translate(548.06 749.8) scale(0.93 1)" text-anchor="middle">9</text>
<text transform="translate(562.53 749.8) scale(0.93 1)" text-anchor="middle">10</text>
<text transform="translate(577.01 749.8) scale(0.93 1)" text-anchor="middle">11</text>
<text transform="translate(591.49 749.8) scale(0.93 1)" text-anchor="middle">12</text>
<text transform="translate(605.97 749.8) scale(0.93 1)" text-anchor="middle">13</text>
<text transform="translate(620.44 749.8) scale(0.93 1)" text-anchor="middle">14</text>
<text transform="translate(634.92 749.8) scale(0.93 1)" text-anchor="middle">15</text>
<text transform="translate(649.4 749.8) scale(0.93 1)" text-anchor="middle">16</text>
<text transform="translate(663.88 749.8) scale(0.93 1)" text-anchor="middle">17</text>
<text transform="translate(678.35 749.8) scale(0.93 1)" text-anchor="middle">18</text>
<text transform="translate(692.83 749.8) scale(0.93 1)" text-anchor="middle">19</text>
<text transform="translate(707.31 749.8) scale(0.93 1)" text-anchor="middle">20</text>
<text transform="translate(721.78 749.8) scale(0.93 1)" text-anchor="middle">21</text>
<text transform="translate(736.26 749.8) scale(0.93 1)" text-anchor="middle">22</text>
</g></g>
<g id="hm-f">
<path fill="#000088" d="M806 461.8h14.48v12.3h-14.48zM820.48 474.1h14.48v12.3h-14.48zM834.96 486.41h14.48v12.3h-14.48zM849.45 498.71h14.48v12.3h-14.48zM863.93 511.02h14.48v12.3h-14.48zM878.41 523.32h14.48v12.3h-14.48zM892.89 535.63h14.48v12.3h-14.48zM907.37 547.93h14.48v12.3h-14.48zM921.85 560.24h14.48v12.3h-14.48zM936.34 572.54h14.48v12.3h-14.48zM950.82 584.85h14.48v12.3h-14.48zM965.3 597.15h14.48v12.3h-14.48zM979.78 609.45h14.48v12.3h-14.48zM994.26 621.76h14.48v12.3h-14.48zM1008.75 634.06h14.48v12.3h-14.48zM1023.23 646.37h14.48v12.3h-14.48zM1037.71 658.67h14.48v12.3h-14.48zM1052.19 670.98h14.48v12.3h-14.48zM1066.67 683.28h14.48v12.3h-14.48zM1081.15 695.59h14.48v12.3h-14.48zM1095.64 707.89h14.48v12.3h-14.48zM1110.12 720.2h14.48v12.3h-14.48z"/>
<path fill="#10F8F0" d="M1110.12 461.8h14.48v12.3h-14.48zM1095.64 498.71h14.48v12.3h-14.48zM1110.12 498.71h14.48v12.3h-14.48zM1110.12 511.02h14.48v12.3h-14.48zM1095.64 560.24h14.48v12.3h-14.48zM1052.19 621.76h14.48v12.3h-14.48zM994.26 670.98h14.48v12.3h-14.48zM849.45 707.89h14.48v12.3h-14.48zM921.85 707.89h14.48v12.3h-14.48zM806 720.2h14.48v12.3h-14.48zM849.45 720.2h14.48v12.3h-14.48zM863.93 720.2h14.48v12.3h-14.48z"/>
<path fill="#40FFC0" d="M1095.64 461.8h14.48v12.3h-14.48zM1052.19 474.1h14.48v12.3h-14.48zM1081.15 474.1h14.48v12.3h-14.48zM1095.64 474.1h14.48v12.3h-14.48zM1110.12 474.1h14.48v12.3h-14.48zM1023.23 486.41h14.48v12.3h-14.48zM1110.12 486.41h14.48v12.3h-14.48zM1095.64 547.93h14.48v12.3h-14.48zM1110.12 547.93h14.48v12.3h-14.48zM1110.12 560.24h14.48v12.3h-14.48zM1110.12 572.54h14.48v12.3h-14.48zM1110.12 584.85h14.48v12.3h-14.48zM1095.64 597.15h14.48v12.3h-14.48zM1110.12 597.15h14.48v12.3h-14.48zM834.96 646.37h14.48v12.3h-14.48zM820.48 670.98h14.48v12.3h-14.48zM820.48 695.59h14.48v12.3h-14.48zM806 707.89h14.48v12.3h-14.48zM820.48 707.89h14.48v12.3h-14.48zM907.37 707.89h14.48v12.3h-14.48zM965.3 707.89h14.48v12.3h-14.48zM820.48 720.2h14.48v12.3h-14.48zM834.96 720.2h14.48v12.3h-14.48zM907.37 720.2h14.48v12.3h-14.48zM921.85 720.2h14.48v12.3h-14.48zM936.34 720.2h14.48v12.3h-14.48zM950.82 720.2h14.48v12.3h-14.48zM965.3 720.2h14.48v12.3h-14.48z"/>
<path fill="#60FFA0" d="M1037.71 486.41h14.48v12.3h-14.48zM1066.67 486.41h14.48v12.3h-14.48zM1095.64 486.41h14.48v12.3h-14.48zM1110.12 535.63h14.48v12.3h-14.48zM1095.64 572.54h14.48v12.3h-14.48zM1095.64 584.85h14.48v12.3h-14.48zM1095.64 609.45h14.48v12.3h-14.48zM1110.12 609.45h14.48v12.3h-14.48zM1110.12 621.76h14.48v12.3h-14.48zM1081.15 634.06h14.48v12.3h-14.48zM1110.12 634.06h14.48v12.3h-14.48zM834.96 658.67h14.48v12.3h-14.48zM834.96 683.28h14.48v12.3h-14.48zM1008.75 695.59h14.48v12.3h-14.48zM834.96 707.89h14.48v12.3h-14.48zM936.34 707.89h14.48v12.3h-14.48zM950.82 707.89h14.48v12.3h-14.48zM979.78 707.89h14.48v12.3h-14.48zM892.89 720.2h14.48v12.3h-14.48zM979.78 720.2h14.48v12.3h-14.48zM994.26 720.2h14.48v12.3h-14.48zM1008.75 720.2h14.48v12.3h-14.48z"/>
<path fill="#80FF80" d="M994.26 474.1h14.48v12.3h-14.48zM1008.75 474.1h14.48v12.3h-14.48zM863.93 486.41h14.48v12.3h-14.48zM834.96 511.02h14.48v12.3h-14.48zM1037.71 511.02h14.48v12.3h-14.48zM1095.64 511.02h14.48v12.3h-14.48zM1095.64 523.32h14.48v12.3h-14.48zM1110.12 523.32h14.48v12.3h-14.48zM1095.64 535.63h14.48v12.3h-14.48zM1052.19 609.45h14.48v12.3h-14.48zM820.48 621.76h14.48v12.3h-14.48zM863.93 658.67h14.48v12.3h-14.48zM979.78 670.98h14.48v12.3h-14.48zM863.93 707.89h14.48v12.3h-14.48zM878.41 707.89h14.48v12.3h-14.48zM892.89 707.89h14.48v12.3h-14.48zM878.41 720.2h14.48v12.3h-14.48z"/>
<path fill="#A0FF60" d="M1066.67 461.8h14.48v12.3h-14.48zM1081.15 461.8h14.48v12.3h-14.48zM892.89 474.1h14.48v12.3h-14.48zM1066.67 474.1h14.48v12.3h-14.48zM1081.15 486.41h14.48v12.3h-14.48zM1023.23 498.71h14.48v12.3h-14.48zM1066.67 498.71h14.48v12.3h-14.48zM1081.15 498.71h14.48v12.3h-14.48zM1023.23 511.02h14.48v12.3h-14.48zM1066.67 511.02h14.48v12.3h-14.48zM1023.23 523.32h14.48v12.3h-14.48zM820.48 535.63h14.48v12.3h-14.48zM1052.19 584.85h14.48v12.3h-14.48zM1066.67 584.85h14.48v12.3h-14.48zM1081.15 621.76h14.48v12.3h-14.48zM1095.64 621.76h14.48v12.3h-14.48zM820.48 634.06h14.48v12.3h-14.48zM1052.19 634.06h14.48v12.3h-14.48zM1095.64 634.06h14.48v12.3h-14.48zM849.45 646.37h14.48v12.3h-14.48zM863.93 646.37h14.48v12.3h-14.48zM878.41 646.37h14.48v12.3h-14.48zM1110.12 646.37h14.48v12.3h-14.48zM1110.12 658.67h14.48v12.3h-14.48zM950.82 670.98h14.48v12.3h-14.48zM1008.75 670.98h14.48v12.3h-14.48zM806 683.28h14.48v12.3h-14.48zM820.48 683.28h14.48v12.3h-14.48zM849.45 683.28h14.48v12.3h-14.48zM863.93 683.28h14.48v12.3h-14.48zM950.82 683.28h14.48v12.3h-14.48zM806 695.59h14.48v12.3h-14.48zM834.96 695.59h14.48v12.3h-14.48zM849.45 695.59h14.48v12.3h-14.48zM994.26 695.59h14.48v12.3h-14.48zM994.26 707.89h14.48v12.3h-14.48zM1008.75 707.89h14.48v12.3h-14.48zM1023.23 720.2h14.48v12.3h-14.48zM1037.71 720.2h14.48v12.3h-14.48z"/>
<path fill="#C0FF40" d="M1052.19 461.8h14.48v12.3h-14.48zM950.82 474.1h14.48v12.3h-14.48zM994.26 486.41h14.48v12.3h-14.48zM1008.75 486.41h14.48v12.3h-14.48zM1037.71 498.71h14.48v12.3h-14.48zM994.26 511.02h14.48v12.3h-14.48zM1081.15 511.02h14.48v12.3h-14.48zM1023.23 535.63h14.48v12.3h-14.48zM950.82 560.24h14.48v12.3h-14.48zM1081.15 560.24h14.48v12.3h-14.48zM1081.15 572.54h14.48v12.3h-14.48zM820.48 584.85h14.48v12.3h-14.48zM921.85 584.85h14.48v12.3h-14.48zM1081.15 597.15h14.48v12.3h-14.48zM1008.75 609.45h14.48v12.3h-14.48zM1037.71 609.45h14.48v12.3h-14.48zM1081.15 609.45h14.48v12.3h-14.48zM834.96 621.76h14.48v12.3h-14.48zM863.93 621.76h14.48v12.3h-14.48zM1066.67 621.76h14.48v12.3h-14.48zM834.96 634.06h14.48v12.3h-14.48zM979.78 634.06h14.48v12.3h-14.48zM892.89 646.37h14.48v12.3h-14.48zM1095.64 646.37h14.48v12.3h-14.48zM849.45 658.67h14.48v12.3h-14.48zM979.78 658.67h14.48v12.3h-14.48zM1081.15 658.67h14.48v12.3h-14.48zM806 670.98h14.48v12.3h-14.48zM1066.67 670.98h14.48v12.3h-14.48zM1110.12 670.98h14.48v12.3h-14.48zM994.26 683.28h14.48v12.3h-14.48zM1052.19 683.28h14.48v12.3h-14.48zM863.93 695.59h14.48v12.3h-14.48zM921.85 695.59h14.48v12.3h-14.48zM936.34 695.59h14.48v12.3h-14.48zM965.3 695.59h14.48v12.3h-14.48zM979.78 695.59h14.48v12.3h-14.48zM1037.71 695.59h14.48v12.3h-14.48zM1023.23 707.89h14.48v12.3h-14.48zM1052.19 720.2h14.48v12.3h-14.48z"/>
<path fill="#E8FF18" d="M878.41 474.1h14.48v12.3h-14.48zM907.37 474.1h14.48v12.3h-14.48zM979.78 474.1h14.48v12.3h-14.48zM1037.71 474.1h14.48v12.3h-14.48zM1052.19 498.71h14.48v12.3h-14.48zM1052.19 511.02h14.48v12.3h-14.48zM820.48 523.32h14.48v12.3h-14.48zM1037.71 523.32h14.48v12.3h-14.48zM1066.67 523.32h14.48v12.3h-14.48zM1081.15 523.32h14.48v12.3h-14.48zM1066.67 535.63h14.48v12.3h-14.48zM1081.15 535.63h14.48v12.3h-14.48zM820.48 547.93h14.48v12.3h-14.48zM1008.75 547.93h14.48v12.3h-14.48zM1037.71 547.93h14.48v12.3h-14.48zM1052.19 547.93h14.48v12.3h-14.48zM1066.67 547.93h14.48v12.3h-14.48zM1052.19 560.24h14.48v12.3h-14.48zM1066.67 560.24h14.48v12.3h-14.48zM1008.75 584.85h14.48v12.3h-14.48zM1037.71 584.85h14.48v12.3h-14.48zM1081.15 584.85h14.48v12.3h-14.48zM1037.71 597.15h14.48v12.3h-14.48zM1066.67 597.15h14.48v12.3h-14.48zM820.48 609.45h14.48v12.3h-14.48zM1066.67 609.45h14.48v12.3h-14.48zM907.37 634.06h14.48v12.3h-14.48zM1081.15 646.37h14.48v12.3h-14.48zM820.48 658.67h14.48v12.3h-14.48zM878.41 658.67h14.48v12.3h-14.48zM907.37 658.67h14.48v12.3h-14.48zM950.82 658.67h14.48v12.3h-14.48zM965.3 658.67h14.48v12.3h-14.48zM1095.64 658.67h14.48v12.3h-14.48zM849.45 670.98h14.48v12.3h-14.48zM863.93 670.98h14.48v12.3h-14.48zM907.37 670.98h14.48v12.3h-14.48zM921.85 670.98h14.48v12.3h-14.48zM878.41 683.28h14.48v12.3h-14.48zM892.89 683.28h14.48v12.3h-14.48zM907.37 683.28h14.48v12.3h-14.48zM921.85 683.28h14.48v12.3h-14.48zM965.3 683.28h14.48v12.3h-14.48zM979.78 683.28h14.48v12.3h-14.48zM878.41 695.59h14.48v12.3h-14.48zM892.89 695.59h14.48v12.3h-14.48zM950.82 695.59h14.48v12.3h-14.48zM1023.23 695.59h14.48v12.3h-14.48zM1037.71 707.89h14.48v12.3h-14.48z"/>
<path fill="#FFF800" d="M1023.23 461.8h14.48v12.3h-14.48zM1037.71 461.8h14.48v12.3h-14.48zM965.3 474.1h14.48v12.3h-14.48zM1023.23 474.1h14.48v12.3h-14.48zM1052.19 486.41h14.48v12.3h-14.48zM1008.75 511.02h14.48v12.3h-14.48zM1052.19 523.32h14.48v12.3h-14.48zM1037.71 535.63h14.48v12.3h-14.48zM1081.15 547.93h14.48v12.3h-14.48zM1023.23 560.24h14.48v12.3h-14.48zM1037.71 560.24h14.48v12.3h-14.48zM950.82 572.54h14.48v12.3h-14.48zM1037.71 572.54h14.48v12.3h-14.48zM1066.67 572.54h14.48v12.3h-14.48zM936.34 584.85h14.48v12.3h-14.48zM994.26 584.85h14.48v12.3h-14.48zM820.48 597.15h14.48v12.3h-14.48zM1052.19 597.15h14.48v12.3h-14.48zM950.82 621.76h14.48v12.3h-14.48zM1008.75 621.76h14.48v12.3h-14.48zM863.93 634.06h14.48v12.3h-14.48zM950.82 634.06h14.48v12.3h-14.48zM994.26 634.06h14.48v12.3h-14.48zM1037.71 634.06h14.48v12.3h-14.48zM1066.67 634.06h14.48v12.3h-14.48zM806 646.37h14.48v12.3h-14.48zM820.48 646.37h14.48v12.3h-14.48zM921.85 646.37h14.48v12.3h-14.48zM806 658.67h14.48v12.3h-14.48zM892.89 658.67h14.48v12.3h-14.48zM921.85 658.67h14.48v12.3h-14.48zM936.34 658.67h14.48v12.3h-14.48zM1008.75 658.67h14.48v12.3h-14.48zM834.96 670.98h14.48v12.3h-14.48zM878.41 670.98h14.48v12.3h-14.48zM965.3 670.98h14.48v12.3h-14.48zM936.34 683.28h14.48v12.3h-14.48zM1008.75 683.28h14.48v12.3h-14.48zM907.37 695.59h14.48v12.3h-14.48zM1110.12 695.59h14.48v12.3h-14.48zM1110.12 707.89h14.48v12.3h-14.48zM1081.15 720.2h14.48v12.3h-14.48zM1095.64 720.2h14.48v12.3h-14.48z"/>
<path fill="#FFD000" d="M994.26 461.8h14.48v12.3h-14.48zM1008.75 461.8h14.48v12.3h-14.48zM849.45 474.1h14.48v12.3h-14.48zM863.93 474.1h14.48v12.3h-14.48zM921.85 474.1h14.48v12.3h-14.48zM936.34 474.1h14.48v12.3h-14.48zM849.45 486.41h14.48v12.3h-14.48zM820.48 498.71h14.48v12.3h-14.48zM834.96 498.71h14.48v12.3h-14.48zM1008.75 498.71h14.48v12.3h-14.48zM820.48 511.02h14.48v12.3h-14.48zM1052.19 535.63h14.48v12.3h-14.48zM979.78 547.93h14.48v12.3h-14.48zM1023.23 547.93h14.48v12.3h-14.48zM820.48 560.24h14.48v12.3h-14.48zM936.34 560.24h14.48v12.3h-14.48zM820.48 572.54h14.48v12.3h-14.48zM921.85 572.54h14.48v12.3h-14.48zM965.3 572.54h14.48v12.3h-14.48zM1052.19 572.54h14.48v12.3h-14.48zM965.3 584.85h14.48v12.3h-14.48zM1023.23 584.85h14.48v12.3h-14.48zM936.34 597.15h14.48v12.3h-14.48zM950.82 597.15h14.48v12.3h-14.48zM907.37 609.45h14.48v12.3h-14.48zM806 621.76h14.48v12.3h-14.48zM1037.71 621.76h14.48v12.3h-14.48zM806 634.06h14.48v12.3h-14.48zM849.45 634.06h14.48v12.3h-14.48zM907.37 646.37h14.48v12.3h-14.48zM950.82 646.37h14.48v12.3h-14.48zM994.26 658.67h14.48v12.3h-14.48zM1066.67 658.67h14.48v12.3h-14.48zM892.89 670.98h14.48v12.3h-14.48zM936.34 670.98h14.48v12.3h-14.48zM1095.64 670.98h14.48v12.3h-14.48zM1037.71 683.28h14.48v12.3h-14.48zM1110.12 683.28h14.48v12.3h-14.48zM1095.64 695.59h14.48v12.3h-14.48zM1052.19 707.89h14.48v12.3h-14.48zM1081.15 707.89h14.48v12.3h-14.48zM1066.67 720.2h14.48v12.3h-14.48z"/>
<path fill="#FFA800" d="M834.96 461.8h14.48v12.3h-14.48zM892.89 461.8h14.48v12.3h-14.48zM950.82 461.8h14.48v12.3h-14.48zM965.3 461.8h14.48v12.3h-14.48zM979.78 461.8h14.48v12.3h-14.48zM806 486.41h14.48v12.3h-14.48zM965.3 486.41h14.48v12.3h-14.48zM979.78 486.41h14.48v12.3h-14.48zM863.93 498.71h14.48v12.3h-14.48zM994.26 498.71h14.48v12.3h-14.48zM849.45 511.02h14.48v12.3h-14.48zM806 535.63h14.48v12.3h-14.48zM1008.75 535.63h14.48v12.3h-14.48zM806 584.85h14.48v12.3h-14.48zM806 597.15h14.48v12.3h-14.48zM834.96 597.15h14.48v12.3h-14.48zM1008.75 597.15h14.48v12.3h-14.48zM1023.23 597.15h14.48v12.3h-14.48zM806 609.45h14.48v12.3h-14.48zM834.96 609.45h14.48v12.3h-14.48zM849.45 621.76h14.48v12.3h-14.48zM892.89 634.06h14.48v12.3h-14.48zM965.3 634.06h14.48v12.3h-14.48zM965.3 646.37h14.48v12.3h-14.48zM1066.67 646.37h14.48v12.3h-14.48zM1081.15 670.98h14.48v12.3h-14.48zM1023.23 683.28h14.48v12.3h-14.48zM1052.19 695.59h14.48v12.3h-14.48z"/>
<path fill="#FF8800" d="M863.93 461.8h14.48v12.3h-14.48zM921.85 461.8h14.48v12.3h-14.48zM834.96 474.1h14.48v12.3h-14.48zM820.48 486.41h14.48v12.3h-14.48zM950.82 486.41h14.48v12.3h-14.48zM806 511.02h14.48v12.3h-14.48zM936.34 523.32h14.48v12.3h-14.48zM965.3 523.32h14.48v12.3h-14.48zM1008.75 523.32h14.48v12.3h-14.48zM965.3 535.63h14.48v12.3h-14.48zM950.82 547.93h14.48v12.3h-14.48zM806 560.24h14.48v12.3h-14.48zM1008.75 560.24h14.48v12.3h-14.48zM878.41 572.54h14.48v12.3h-14.48zM1023.23 572.54h14.48v12.3h-14.48zM834.96 584.85h14.48v12.3h-14.48zM907.37 584.85h14.48v12.3h-14.48zM979.78 584.85h14.48v12.3h-14.48zM878.41 597.15h14.48v12.3h-14.48zM892.89 597.15h14.48v12.3h-14.48zM979.78 597.15h14.48v12.3h-14.48zM950.82 609.45h14.48v12.3h-14.48zM965.3 609.45h14.48v12.3h-14.48zM994.26 609.45h14.48v12.3h-14.48zM979.78 621.76h14.48v12.3h-14.48zM878.41 634.06h14.48v12.3h-14.48zM921.85 634.06h14.48v12.3h-14.48zM936.34 646.37h14.48v12.3h-14.48zM1052.19 658.67h14.48v12.3h-14.48zM1037.71 670.98h14.48v12.3h-14.48z"/>
<path fill="#FF6000" d="M849.45 461.8h14.48v12.3h-14.48zM878.41 461.8h14.48v12.3h-14.48zM907.37 461.8h14.48v12.3h-14.48zM936.34 461.8h14.48v12.3h-14.48zM921.85 486.41h14.48v12.3h-14.48zM936.34 486.41h14.48v12.3h-14.48zM806 498.71h14.48v12.3h-14.48zM979.78 511.02h14.48v12.3h-14.48zM806 523.32h14.48v12.3h-14.48zM979.78 535.63h14.48v12.3h-14.48zM994.26 535.63h14.48v12.3h-14.48zM806 547.93h14.48v12.3h-14.48zM921.85 547.93h14.48v12.3h-14.48zM965.3 547.93h14.48v12.3h-14.48zM994.26 547.93h14.48v12.3h-14.48zM834.96 560.24h14.48v12.3h-14.48zM907.37 560.24h14.48v12.3h-14.48zM965.3 560.24h14.48v12.3h-14.48zM806 572.54h14.48v12.3h-14.48zM834.96 572.54h14.48v12.3h-14.48zM907.37 597.15h14.48v12.3h-14.48zM921.85 597.15h14.48v12.3h-14.48zM863.93 609.45h14.48v12.3h-14.48zM892.89 609.45h14.48v12.3h-14.48zM1023.23 609.45h14.48v12.3h-14.48zM892.89 621.76h14.48v12.3h-14.48zM907.37 621.76h14.48v12.3h-14.48zM979.78 646.37h14.48v12.3h-14.48zM1037.71 646.37h14.48v12.3h-14.48zM1023.23 658.67h14.48v12.3h-14.48zM1081.15 683.28h14.48v12.3h-14.48zM1066.67 695.59h14.48v12.3h-14.48z"/>
<path fill="#FF3800" d="M878.41 486.41h14.48v12.3h-14.48zM892.89 486.41h14.48v12.3h-14.48zM979.78 498.71h14.48v12.3h-14.48zM965.3 511.02h14.48v12.3h-14.48zM834.96 523.32h14.48v12.3h-14.48zM921.85 523.32h14.48v12.3h-14.48zM994.26 523.32h14.48v12.3h-14.48zM834.96 535.63h14.48v12.3h-14.48zM878.41 560.24h14.48v12.3h-14.48zM994.26 560.24h14.48v12.3h-14.48zM878.41 584.85h14.48v12.3h-14.48zM863.93 597.15h14.48v12.3h-14.48zM849.45 609.45h14.48v12.3h-14.48zM878.41 621.76h14.48v12.3h-14.48zM921.85 621.76h14.48v12.3h-14.48zM1095.64 683.28h14.48v12.3h-14.48zM1066.67 707.89h14.48v12.3h-14.48z"/>
<path fill="#F80808" d="M907.37 486.41h14.48v12.3h-14.48zM965.3 498.71h14.48v12.3h-14.48zM950.82 511.02h14.48v12.3h-14.48zM950.82 523.32h14.48v12.3h-14.48zM979.78 523.32h14.48v12.3h-14.48zM834.96 547.93h14.48v12.3h-14.48zM979.78 560.24h14.48v12.3h-14.48zM1008.75 572.54h14.48v12.3h-14.48zM863.93 584.85h14.48v12.3h-14.48zM849.45 597.15h14.48v12.3h-14.48zM994.26 597.15h14.48v12.3h-14.48zM878.41 609.45h14.48v12.3h-14.48zM921.85 609.45h14.48v12.3h-14.48zM965.3 621.76h14.48v12.3h-14.48zM1023.23 621.76h14.48v12.3h-14.48zM936.34 634.06h14.48v12.3h-14.48zM994.26 646.37h14.48v12.3h-14.48zM1052.19 646.37h14.48v12.3h-14.48zM1023.23 670.98h14.48v12.3h-14.48z"/>
<path fill="#D00000" d="M878.41 498.71h14.48v12.3h-14.48zM892.89 498.71h14.48v12.3h-14.48zM950.82 498.71h14.48v12.3h-14.48zM878.41 511.02h14.48v12.3h-14.48zM892.89 511.02h14.48v12.3h-14.48zM907.37 511.02h14.48v12.3h-14.48zM921.85 511.02h14.48v12.3h-14.48zM936.34 511.02h14.48v12.3h-14.48zM849.45 523.32h14.48v12.3h-14.48zM863.93 523.32h14.48v12.3h-14.48zM892.89 523.32h14.48v12.3h-14.48zM907.37 523.32h14.48v12.3h-14.48zM849.45 535.63h14.48v12.3h-14.48zM863.93 535.63h14.48v12.3h-14.48zM878.41 535.63h14.48v12.3h-14.48zM921.85 535.63h14.48v12.3h-14.48zM936.34 535.63h14.48v12.3h-14.48zM950.82 535.63h14.48v12.3h-14.48zM863.93 547.93h14.48v12.3h-14.48zM878.41 547.93h14.48v12.3h-14.48zM863.93 560.24h14.48v12.3h-14.48zM892.89 560.24h14.48v12.3h-14.48zM863.93 572.54h14.48v12.3h-14.48zM892.89 572.54h14.48v12.3h-14.48zM979.78 572.54h14.48v12.3h-14.48zM994.26 572.54h14.48v12.3h-14.48zM849.45 584.85h14.48v12.3h-14.48zM892.89 584.85h14.48v12.3h-14.48zM936.34 609.45h14.48v12.3h-14.48zM936.34 621.76h14.48v12.3h-14.48zM1023.23 634.06h14.48v12.3h-14.48zM1008.75 646.37h14.48v12.3h-14.48z"/>
<path fill="#A00000" d="M820.48 461.8h14.48v12.3h-14.48zM806 474.1h14.48v12.3h-14.48zM907.37 498.71h14.48v12.3h-14.48zM921.85 498.71h14.48v12.3h-14.48zM936.34 498.71h14.48v12.3h-14.48zM907.37 535.63h14.48v12.3h-14.48zM849.45 547.93h14.48v12.3h-14.48zM892.89 547.93h14.48v12.3h-14.48zM936.34 547.93h14.48v12.3h-14.48zM849.45 560.24h14.48v12.3h-14.48zM849.45 572.54h14.48v12.3h-14.48zM907.37 572.54h14.48v12.3h-14.48z"/>
<path fill="none" stroke="#000" stroke-opacity="0.66" stroke-width="1.0" d="M820.48 461.8V732.5M834.96 461.8V732.5M849.45 461.8V732.5M863.93 461.8V732.5M878.41 461.8V732.5M892.89 461.8V732.5M907.37 461.8V732.5M921.85 461.8V732.5M936.34 461.8V732.5M950.82 461.8V732.5M965.3 461.8V732.5M979.78 461.8V732.5M994.26 461.8V732.5M1008.75 461.8V732.5M1023.23 461.8V732.5M1037.71 461.8V732.5M1052.19 461.8V732.5M1066.67 461.8V732.5M1081.15 461.8V732.5M1095.64 461.8V732.5M1110.12 461.8V732.5M806 474.1H1124.6M806 486.41H1124.6M806 498.71H1124.6M806 511.02H1124.6M806 523.32H1124.6M806 535.63H1124.6M806 547.93H1124.6M806 560.24H1124.6M806 572.54H1124.6M806 584.85H1124.6M806 597.15H1124.6M806 609.45H1124.6M806 621.76H1124.6M806 634.06H1124.6M806 646.37H1124.6M806 658.67H1124.6M806 670.98H1124.6M806 683.28H1124.6M806 695.59H1124.6M806 707.89H1124.6M806 720.2H1124.6"/>
<rect x="806" y="461.8" width="318.6" height="270.7" fill="none" stroke="#555" stroke-opacity="0.6" stroke-width="0.8"/>
<g font-family="'Liberation Sans', sans-serif" font-size="13.8" fill="#111">
<text transform="translate(800.2 472.85) scale(0.93 1)" text-anchor="end">1</text>
<text transform="translate(800.2 485.16) scale(0.93 1)" text-anchor="end">2</text>
<text transform="translate(800.2 497.46) scale(0.93 1)" text-anchor="end">3</text>
<text transform="translate(800.2 509.77) scale(0.93 1)" text-anchor="end">4</text>
<text transform="translate(800.2 522.07) scale(0.93 1)" text-anchor="end">5</text>
<text transform="translate(800.2 534.38) scale(0.93 1)" text-anchor="end">6</text>
<text transform="translate(800.2 546.68) scale(0.93 1)" text-anchor="end">7</text>
<text transform="translate(800.2 558.98) scale(0.93 1)" text-anchor="end">8</text>
<text transform="translate(800.2 571.29) scale(0.93 1)" text-anchor="end">9</text>
<text transform="translate(800.2 583.59) scale(0.93 1)" text-anchor="end">10</text>
<text transform="translate(800.2 595.9) scale(0.93 1)" text-anchor="end">11</text>
<text transform="translate(800.2 608.2) scale(0.93 1)" text-anchor="end">12</text>
<text transform="translate(800.2 620.51) scale(0.93 1)" text-anchor="end">13</text>
<text transform="translate(800.2 632.81) scale(0.93 1)" text-anchor="end">14</text>
<text transform="translate(800.2 645.12) scale(0.93 1)" text-anchor="end">15</text>
<text transform="translate(800.2 657.42) scale(0.93 1)" text-anchor="end">16</text>
<text transform="translate(800.2 669.73) scale(0.93 1)" text-anchor="end">17</text>
<text transform="translate(800.2 682.03) scale(0.93 1)" text-anchor="end">18</text>
<text transform="translate(800.2 694.33) scale(0.93 1)" text-anchor="end">19</text>
<text transform="translate(800.2 706.64) scale(0.93 1)" text-anchor="end">20</text>
<text transform="translate(800.2 718.94) scale(0.93 1)" text-anchor="end">21</text>
<text transform="translate(800.2 731.25) scale(0.93 1)" text-anchor="end">22</text>
<text transform="translate(813.24 749.8) scale(0.93 1)" text-anchor="middle">1</text>
<text transform="translate(827.72 749.8) scale(0.93 1)" text-anchor="middle">2</text>
<text transform="translate(842.2 749.8) scale(0.93 1)" text-anchor="middle">3</text>
<text transform="translate(856.69 749.8) scale(0.93 1)" text-anchor="middle">4</text>
<text transform="translate(871.17 749.8) scale(0.93 1)" text-anchor="middle">5</text>
<text transform="translate(885.65 749.8) scale(0.93 1)" text-anchor="middle">6</text>
<text transform="translate(900.13 749.8) scale(0.93 1)" text-anchor="middle">7</text>
<text transform="translate(914.61 749.8) scale(0.93 1)" text-anchor="middle">8</text>
<text transform="translate(929.1 749.8) scale(0.93 1)" text-anchor="middle">9</text>
<text transform="translate(943.58 749.8) scale(0.93 1)" text-anchor="middle">10</text>
<text transform="translate(958.06 749.8) scale(0.93 1)" text-anchor="middle">11</text>
<text transform="translate(972.54 749.8) scale(0.93 1)" text-anchor="middle">12</text>
<text transform="translate(987.02 749.8) scale(0.93 1)" text-anchor="middle">13</text>
<text transform="translate(1001.5 749.8) scale(0.93 1)" text-anchor="middle">14</text>
<text transform="translate(1015.99 749.8) scale(0.93 1)" text-anchor="middle">15</text>
<text transform="translate(1030.47 749.8) scale(0.93 1)" text-anchor="middle">16</text>
<text transform="translate(1044.95 749.8) scale(0.93 1)" text-anchor="middle">17</text>
<text transform="translate(1059.43 749.8) scale(0.93 1)" text-anchor="middle">18</text>
<text transform="translate(1073.91 749.8) scale(0.93 1)" text-anchor="middle">19</text>
<text transform="translate(1088.4 749.8) scale(0.93 1)" text-anchor="middle">20</text>
<text transform="translate(1102.88 749.8) scale(0.93 1)" text-anchor="middle">21</text>
<text transform="translate(1117.36 749.8) scale(0.93 1)" text-anchor="middle">22</text>
</g></g>
<g id="hm-g">
<path fill="#000088" d="M1251 461.8h14.48v12.3h-14.48zM1265.48 474.1h14.48v12.3h-14.48zM1279.95 486.41h14.48v12.3h-14.48zM1294.43 498.71h14.48v12.3h-14.48zM1308.91 511.02h14.48v12.3h-14.48zM1323.39 523.32h14.48v12.3h-14.48zM1337.86 535.63h14.48v12.3h-14.48zM1352.34 547.93h14.48v12.3h-14.48zM1366.82 560.24h14.48v12.3h-14.48zM1381.3 572.54h14.48v12.3h-14.48zM1395.77 584.85h14.48v12.3h-14.48zM1410.25 597.15h14.48v12.3h-14.48zM1424.73 609.45h14.48v12.3h-14.48zM1439.2 621.76h14.48v12.3h-14.48zM1453.68 634.06h14.48v12.3h-14.48zM1468.16 646.37h14.48v12.3h-14.48zM1482.64 658.67h14.48v12.3h-14.48zM1497.11 670.98h14.48v12.3h-14.48zM1511.59 683.28h14.48v12.3h-14.48zM1526.07 695.59h14.48v12.3h-14.48zM1540.55 707.89h14.48v12.3h-14.48zM1555.02 720.2h14.48v12.3h-14.48z"/>
<path fill="#0000E0" d="M1395.77 572.54h14.48v12.3h-14.48zM1381.3 584.85h14.48v12.3h-14.48z"/>
<path fill="#00B8FF" d="M1439.2 511.02h14.48v12.3h-14.48zM1410.25 572.54h14.48v12.3h-14.48zM1381.3 597.15h14.48v12.3h-14.48zM1308.91 621.76h14.48v12.3h-14.48z"/>
<path fill="#10F8F0" d="M1439.2 461.8h14.48v12.3h-14.48zM1540.55 474.1h14.48v12.3h-14.48zM1555.02 498.71h14.48v12.3h-14.48zM1555.02 511.02h14.48v12.3h-14.48zM1381.3 560.24h14.48v12.3h-14.48zM1395.77 560.24h14.48v12.3h-14.48zM1366.82 572.54h14.48v12.3h-14.48zM1366.82 584.85h14.48v12.3h-14.48zM1410.25 584.85h14.48v12.3h-14.48zM1395.77 597.15h14.48v12.3h-14.48zM1251 621.76h14.48v12.3h-14.48zM1265.48 707.89h14.48v12.3h-14.48zM1294.43 720.2h14.48v12.3h-14.48zM1308.91 720.2h14.48v12.3h-14.48z"/>
<path fill="#40FFC0" d="M1410.25 461.8h14.48v12.3h-14.48zM1497.11 461.8h14.48v12.3h-14.48zM1540.55 461.8h14.48v12.3h-14.48zM1323.39 474.1h14.48v12.3h-14.48zM1410.25 474.1h14.48v12.3h-14.48zM1468.16 474.1h14.48v12.3h-14.48zM1540.55 486.41h14.48v12.3h-14.48zM1468.16 498.71h14.48v12.3h-14.48zM1526.07 498.71h14.48v12.3h-14.48zM1526.07 511.02h14.48v12.3h-14.48zM1265.48 523.32h14.48v12.3h-14.48zM1555.02 523.32h14.48v12.3h-14.48zM1555.02 535.63h14.48v12.3h-14.48zM1395.77 547.93h14.48v12.3h-14.48zM1410.25 547.93h14.48v12.3h-14.48zM1555.02 547.93h14.48v12.3h-14.48zM1410.25 560.24h14.48v12.3h-14.48zM1555.02 560.24h14.48v12.3h-14.48zM1555.02 572.54h14.48v12.3h-14.48zM1352.34 584.85h14.48v12.3h-14.48zM1555.02 584.85h14.48v12.3h-14.48zM1251 597.15h14.48v12.3h-14.48zM1265.48 597.15h14.48v12.3h-14.48zM1352.34 597.15h14.48v12.3h-14.48zM1366.82 597.15h14.48v12.3h-14.48zM1540.55 597.15h14.48v12.3h-14.48zM1555.02 597.15h14.48v12.3h-14.48zM1453.68 609.45h14.48v12.3h-14.48zM1424.73 634.06h14.48v12.3h-14.48zM1265.48 646.37h14.48v12.3h-14.48zM1294.43 646.37h14.48v12.3h-14.48zM1251 670.98h14.48v12.3h-14.48zM1294.43 695.59h14.48v12.3h-14.48zM1308.91 695.59h14.48v12.3h-14.48zM1251 707.89h14.48v12.3h-14.48zM1279.95 707.89h14.48v12.3h-14.48zM1410.25 707.89h14.48v12.3h-14.48zM1323.39 720.2h14.48v12.3h-14.48zM1337.86 720.2h14.48v12.3h-14.48zM1352.34 720.2h14.48v12.3h-14.48zM1366.82 720.2h14.48v12.3h-14.48zM1381.3 720.2h14.48v12.3h-14.48zM1395.77 720.2h14.48v12.3h-14.48zM1410.25 720.2h14.48v12.3h-14.48z"/>
<path fill="#60FFA0" d="M1395.77 461.8h14.48v12.3h-14.48zM1468.16 461.8h14.48v12.3h-14.48zM1555.02 461.8h14.48v12.3h-14.48zM1439.2 474.1h14.48v12.3h-14.48zM1555.02 474.1h14.48v12.3h-14.48zM1468.16 486.41h14.48v12.3h-14.48zM1555.02 486.41h14.48v12.3h-14.48zM1439.2 498.71h14.48v12.3h-14.48zM1540.55 498.71h14.48v12.3h-14.48zM1439.2 523.32h14.48v12.3h-14.48zM1482.64 523.32h14.48v12.3h-14.48zM1526.07 523.32h14.48v12.3h-14.48zM1251 584.85h14.48v12.3h-14.48zM1540.55 584.85h14.48v12.3h-14.48zM1265.48 621.76h14.48v12.3h-14.48zM1294.43 621.76h14.48v12.3h-14.48zM1323.39 621.76h14.48v12.3h-14.48zM1251 646.37h14.48v12.3h-14.48zM1279.95 646.37h14.48v12.3h-14.48zM1323.39 658.67h14.48v12.3h-14.48zM1323.39 695.59h14.48v12.3h-14.48zM1294.43 707.89h14.48v12.3h-14.48zM1395.77 707.89h14.48v12.3h-14.48zM1251 720.2h14.48v12.3h-14.48zM1265.48 720.2h14.48v12.3h-14.48zM1279.95 720.2h14.48v12.3h-14.48z"/>
<path fill="#80FF80" d="M1366.82 461.8h14.48v12.3h-14.48zM1381.3 461.8h14.48v12.3h-14.48zM1424.73 461.8h14.48v12.3h-14.48zM1526.07 461.8h14.48v12.3h-14.48zM1294.43 474.1h14.48v12.3h-14.48zM1381.3 474.1h14.48v12.3h-14.48zM1395.77 474.1h14.48v12.3h-14.48zM1526.07 474.1h14.48v12.3h-14.48zM1526.07 486.41h14.48v12.3h-14.48zM1265.48 498.71h14.48v12.3h-14.48zM1482.64 498.71h14.48v12.3h-14.48zM1497.11 498.71h14.48v12.3h-14.48zM1497.11 511.02h14.48v12.3h-14.48zM1497.11 523.32h14.48v12.3h-14.48zM1366.82 547.93h14.48v12.3h-14.48zM1251 560.24h14.48v12.3h-14.48zM1352.34 560.24h14.48v12.3h-14.48zM1251 572.54h14.48v12.3h-14.48zM1265.48 572.54h14.48v12.3h-14.48zM1265.48 584.85h14.48v12.3h-14.48zM1251 609.45h14.48v12.3h-14.48zM1555.02 621.76h14.48v12.3h-14.48zM1555.02 634.06h14.48v12.3h-14.48zM1482.64 646.37h14.48v12.3h-14.48zM1294.43 658.67h14.48v12.3h-14.48zM1468.16 658.67h14.48v12.3h-14.48zM1294.43 670.98h14.48v12.3h-14.48zM1308.91 670.98h14.48v12.3h-14.48zM1323.39 670.98h14.48v12.3h-14.48zM1251 695.59h14.48v12.3h-14.48zM1265.48 695.59h14.48v12.3h-14.48zM1279.95 695.59h14.48v12.3h-14.48zM1439.2 720.2h14.48v12.3h-14.48zM1453.68 720.2h14.48v12.3h-14.48z"/>
<path fill="#A0FF60" d="M1352.34 461.8h14.48v12.3h-14.48zM1482.64 461.8h14.48v12.3h-14.48zM1366.82 474.1h14.48v12.3h-14.48zM1424.73 474.1h14.48v12.3h-14.48zM1482.64 474.1h14.48v12.3h-14.48zM1439.2 486.41h14.48v12.3h-14.48zM1453.68 486.41h14.48v12.3h-14.48zM1482.64 486.41h14.48v12.3h-14.48zM1497.11 486.41h14.48v12.3h-14.48zM1453.68 498.71h14.48v12.3h-14.48zM1511.59 498.71h14.48v12.3h-14.48zM1424.73 511.02h14.48v12.3h-14.48zM1468.16 511.02h14.48v12.3h-14.48zM1482.64 511.02h14.48v12.3h-14.48zM1540.55 511.02h14.48v12.3h-14.48zM1468.16 523.32h14.48v12.3h-14.48zM1540.55 523.32h14.48v12.3h-14.48zM1526.07 535.63h14.48v12.3h-14.48zM1540.55 535.63h14.48v12.3h-14.48zM1251 547.93h14.48v12.3h-14.48zM1265.48 560.24h14.48v12.3h-14.48zM1526.07 560.24h14.48v12.3h-14.48zM1540.55 560.24h14.48v12.3h-14.48zM1526.07 572.54h14.48v12.3h-14.48zM1439.2 597.15h14.48v12.3h-14.48zM1265.48 609.45h14.48v12.3h-14.48zM1308.91 609.45h14.48v12.3h-14.48zM1439.2 609.45h14.48v12.3h-14.48zM1540.55 609.45h14.48v12.3h-14.48zM1555.02 609.45h14.48v12.3h-14.48zM1279.95 621.76h14.48v12.3h-14.48zM1410.25 621.76h14.48v12.3h-14.48zM1424.73 621.76h14.48v12.3h-14.48zM1279.95 634.06h14.48v12.3h-14.48zM1294.43 634.06h14.48v12.3h-14.48zM1468.16 634.06h14.48v12.3h-14.48zM1308.91 646.37h14.48v12.3h-14.48zM1323.39 646.37h14.48v12.3h-14.48zM1453.68 646.37h14.48v12.3h-14.48zM1497.11 646.37h14.48v12.3h-14.48zM1251 658.67h14.48v12.3h-14.48zM1265.48 658.67h14.48v12.3h-14.48zM1279.95 658.67h14.48v12.3h-14.48zM1308.91 658.67h14.48v12.3h-14.48zM1279.95 670.98h14.48v12.3h-14.48zM1468.16 670.98h14.48v12.3h-14.48zM1294.43 683.28h14.48v12.3h-14.48zM1337.86 695.59h14.48v12.3h-14.48zM1366.82 695.59h14.48v12.3h-14.48zM1381.3 695.59h14.48v12.3h-14.48zM1308.91 707.89h14.48v12.3h-14.48zM1323.39 707.89h14.48v12.3h-14.48zM1337.86 707.89h14.48v12.3h-14.48zM1366.82 707.89h14.48v12.3h-14.48zM1424.73 707.89h14.48v12.3h-14.48zM1424.73 720.2h14.48v12.3h-14.48z"/>
<path fill="#C0FF40" d="M1323.39 461.8h14.48v12.3h-14.48zM1453.68 461.8h14.48v12.3h-14.48zM1352.34 474.1h14.48v12.3h-14.48zM1453.68 474.1h14.48v12.3h-14.48zM1497.11 474.1h14.48v12.3h-14.48zM1395.77 486.41h14.48v12.3h-14.48zM1410.25 486.41h14.48v12.3h-14.48zM1511.59 486.41h14.48v12.3h-14.48zM1424.73 498.71h14.48v12.3h-14.48zM1511.59 511.02h14.48v12.3h-14.48zM1251 523.32h14.48v12.3h-14.48zM1265.48 547.93h14.48v12.3h-14.48zM1381.3 547.93h14.48v12.3h-14.48zM1526.07 547.93h14.48v12.3h-14.48zM1540.55 547.93h14.48v12.3h-14.48zM1352.34 572.54h14.48v12.3h-14.48zM1540.55 572.54h14.48v12.3h-14.48zM1279.95 584.85h14.48v12.3h-14.48zM1439.2 584.85h14.48v12.3h-14.48zM1468.16 584.85h14.48v12.3h-14.48zM1526.07 584.85h14.48v12.3h-14.48zM1279.95 597.15h14.48v12.3h-14.48zM1468.16 597.15h14.48v12.3h-14.48zM1526.07 597.15h14.48v12.3h-14.48zM1294.43 609.45h14.48v12.3h-14.48zM1395.77 621.76h14.48v12.3h-14.48zM1497.11 621.76h14.48v12.3h-14.48zM1540.55 621.76h14.48v12.3h-14.48zM1251 634.06h14.48v12.3h-14.48zM1265.48 634.06h14.48v12.3h-14.48zM1497.11 634.06h14.48v12.3h-14.48zM1540.55 634.06h14.48v12.3h-14.48zM1395.77 646.37h14.48v12.3h-14.48zM1410.25 646.37h14.48v12.3h-14.48zM1540.55 646.37h14.48v12.3h-14.48zM1265.48 670.98h14.48v12.3h-14.48zM1439.2 670.98h14.48v12.3h-14.48zM1453.68 670.98h14.48v12.3h-14.48zM1555.02 670.98h14.48v12.3h-14.48zM1279.95 683.28h14.48v12.3h-14.48zM1308.91 683.28h14.48v12.3h-14.48zM1352.34 695.59h14.48v12.3h-14.48zM1395.77 695.59h14.48v12.3h-14.48zM1410.25 695.59h14.48v12.3h-14.48zM1352.34 707.89h14.48v12.3h-14.48zM1381.3 707.89h14.48v12.3h-14.48zM1439.2 707.89h14.48v12.3h-14.48zM1453.68 707.89h14.48v12.3h-14.48zM1468.16 707.89h14.48v12.3h-14.48zM1497.11 720.2h14.48v12.3h-14.48z"/>
<path fill="#E8FF18" d="M1294.43 461.8h14.48v12.3h-14.48zM1337.86 461.8h14.48v12.3h-14.48zM1337.86 474.1h14.48v12.3h-14.48zM1381.3 486.41h14.48v12.3h-14.48zM1424.73 486.41h14.48v12.3h-14.48zM1251 498.71h14.48v12.3h-14.48zM1352.34 523.32h14.48v12.3h-14.48zM1424.73 523.32h14.48v12.3h-14.48zM1511.59 523.32h14.48v12.3h-14.48zM1251 535.63h14.48v12.3h-14.48zM1265.48 535.63h14.48v12.3h-14.48zM1323.39 547.93h14.48v12.3h-14.48zM1439.2 547.93h14.48v12.3h-14.48zM1482.64 547.93h14.48v12.3h-14.48zM1468.16 560.24h14.48v12.3h-14.48zM1279.95 572.54h14.48v12.3h-14.48zM1439.2 572.54h14.48v12.3h-14.48zM1468.16 572.54h14.48v12.3h-14.48zM1482.64 597.15h14.48v12.3h-14.48zM1279.95 609.45h14.48v12.3h-14.48zM1323.39 609.45h14.48v12.3h-14.48zM1352.34 621.76h14.48v12.3h-14.48zM1381.3 621.76h14.48v12.3h-14.48zM1468.16 621.76h14.48v12.3h-14.48zM1366.82 646.37h14.48v12.3h-14.48zM1381.3 646.37h14.48v12.3h-14.48zM1439.2 646.37h14.48v12.3h-14.48zM1555.02 646.37h14.48v12.3h-14.48zM1352.34 658.67h14.48v12.3h-14.48zM1410.25 658.67h14.48v12.3h-14.48zM1540.55 658.67h14.48v12.3h-14.48zM1323.39 683.28h14.48v12.3h-14.48zM1540.55 695.59h14.48v12.3h-14.48zM1482.64 707.89h14.48v12.3h-14.48zM1526.07 707.89h14.48v12.3h-14.48zM1468.16 720.2h14.48v12.3h-14.48z"/>
<path fill="#FFF800" d="M1279.95 461.8h14.48v12.3h-14.48zM1308.91 461.8h14.48v12.3h-14.48zM1511.59 461.8h14.48v12.3h-14.48zM1511.59 474.1h14.48v12.3h-14.48zM1251 486.41h14.48v12.3h-14.48zM1337.86 486.41h14.48v12.3h-14.48zM1366.82 486.41h14.48v12.3h-14.48zM1251 511.02h14.48v12.3h-14.48zM1323.39 511.02h14.48v12.3h-14.48zM1453.68 511.02h14.48v12.3h-14.48zM1308.91 523.32h14.48v12.3h-14.48zM1395.77 523.32h14.48v12.3h-14.48zM1279.95 535.63h14.48v12.3h-14.48zM1424.73 547.93h14.48v12.3h-14.48zM1279.95 560.24h14.48v12.3h-14.48zM1482.64 560.24h14.48v12.3h-14.48zM1482.64 572.54h14.48v12.3h-14.48zM1511.59 572.54h14.48v12.3h-14.48zM1323.39 584.85h14.48v12.3h-14.48zM1424.73 597.15h14.48v12.3h-14.48zM1453.68 597.15h14.48v12.3h-14.48zM1497.11 597.15h14.48v12.3h-14.48zM1511.59 597.15h14.48v12.3h-14.48zM1352.34 609.45h14.48v12.3h-14.48zM1410.25 609.45h14.48v12.3h-14.48zM1453.68 621.76h14.48v12.3h-14.48zM1308.91 634.06h14.48v12.3h-14.48zM1410.25 634.06h14.48v12.3h-14.48zM1439.2 634.06h14.48v12.3h-14.48zM1526.07 634.06h14.48v12.3h-14.48zM1366.82 658.67h14.48v12.3h-14.48zM1381.3 658.67h14.48v12.3h-14.48zM1410.25 670.98h14.48v12.3h-14.48zM1251 683.28h14.48v12.3h-14.48zM1265.48 683.28h14.48v12.3h-14.48zM1381.3 683.28h14.48v12.3h-14.48zM1410.25 683.28h14.48v12.3h-14.48zM1453.68 695.59h14.48v12.3h-14.48z"/>
<path fill="#FFD000" d="M1308.91 474.1h14.48v12.3h-14.48zM1294.43 486.41h14.48v12.3h-14.48zM1308.91 486.41h14.48v12.3h-14.48zM1323.39 486.41h14.48v12.3h-14.48zM1352.34 486.41h14.48v12.3h-14.48zM1279.95 498.71h14.48v12.3h-14.48zM1265.48 511.02h14.48v12.3h-14.48zM1279.95 511.02h14.48v12.3h-14.48zM1395.77 511.02h14.48v12.3h-14.48zM1279.95 523.32h14.48v12.3h-14.48zM1410.25 523.32h14.48v12.3h-14.48zM1410.25 535.63h14.48v12.3h-14.48zM1468.16 535.63h14.48v12.3h-14.48zM1482.64 535.63h14.48v12.3h-14.48zM1497.11 535.63h14.48v12.3h-14.48zM1511.59 535.63h14.48v12.3h-14.48zM1279.95 547.93h14.48v12.3h-14.48zM1453.68 547.93h14.48v12.3h-14.48zM1468.16 547.93h14.48v12.3h-14.48zM1497.11 547.93h14.48v12.3h-14.48zM1511.59 547.93h14.48v12.3h-14.48zM1439.2 560.24h14.48v12.3h-14.48zM1453.68 560.24h14.48v12.3h-14.48zM1497.11 560.24h14.48v12.3h-14.48zM1497.11 572.54h14.48v12.3h-14.48zM1308.91 584.85h14.48v12.3h-14.48zM1424.73 584.85h14.48v12.3h-14.48zM1453.68 584.85h14.48v12.3h-14.48zM1482.64 584.85h14.48v12.3h-14.48zM1497.11 584.85h14.48v12.3h-14.48zM1511.59 584.85h14.48v12.3h-14.48zM1323.39 597.15h14.48v12.3h-14.48zM1337.86 597.15h14.48v12.3h-14.48zM1395.77 609.45h14.48v12.3h-14.48zM1468.16 609.45h14.48v12.3h-14.48zM1497.11 609.45h14.48v12.3h-14.48zM1511.59 609.45h14.48v12.3h-14.48zM1526.07 609.45h14.48v12.3h-14.48zM1366.82 621.76h14.48v12.3h-14.48zM1482.64 621.76h14.48v12.3h-14.48zM1526.07 621.76h14.48v12.3h-14.48zM1352.34 634.06h14.48v12.3h-14.48zM1366.82 634.06h14.48v12.3h-14.48zM1395.77 634.06h14.48v12.3h-14.48zM1482.64 634.06h14.48v12.3h-14.48zM1337.86 646.37h14.48v12.3h-14.48zM1352.34 646.37h14.48v12.3h-14.48zM1424.73 646.37h14.48v12.3h-14.48zM1337.86 658.67h14.48v12.3h-14.48zM1395.77 658.67h14.48v12.3h-14.48zM1439.2 658.67h14.48v12.3h-14.48zM1453.68 658.67h14.48v12.3h-14.48zM1497.11 658.67h14.48v12.3h-14.48zM1555.02 658.67h14.48v12.3h-14.48zM1337.86 670.98h14.48v12.3h-14.48zM1352.34 670.98h14.48v12.3h-14.48zM1366.82 670.98h14.48v12.3h-14.48zM1381.3 670.98h14.48v12.3h-14.48zM1395.77 670.98h14.48v12.3h-14.48zM1424.73 670.98h14.48v12.3h-14.48zM1482.64 670.98h14.48v12.3h-14.48zM1540.55 670.98h14.48v12.3h-14.48zM1337.86 683.28h14.48v12.3h-14.48zM1352.34 683.28h14.48v12.3h-14.48zM1395.77 683.28h14.48v12.3h-14.48zM1424.73 683.28h14.48v12.3h-14.48zM1424.73 695.59h14.48v12.3h-14.48zM1439.2 695.59h14.48v12.3h-14.48zM1555.02 695.59h14.48v12.3h-14.48zM1497.11 707.89h14.48v12.3h-14.48zM1555.02 707.89h14.48v12.3h-14.48zM1482.64 720.2h14.48v12.3h-14.48zM1526.07 720.2h14.48v12.3h-14.48zM1540.55 720.2h14.48v12.3h-14.48z"/>
<path fill="#FFA800" d="M1352.34 511.02h14.48v12.3h-14.48zM1381.3 511.02h14.48v12.3h-14.48zM1410.25 511.02h14.48v12.3h-14.48zM1381.3 523.32h14.48v12.3h-14.48zM1453.68 523.32h14.48v12.3h-14.48zM1453.68 535.63h14.48v12.3h-14.48zM1308.91 547.93h14.48v12.3h-14.48zM1511.59 560.24h14.48v12.3h-14.48zM1308.91 572.54h14.48v12.3h-14.48zM1323.39 572.54h14.48v12.3h-14.48zM1424.73 572.54h14.48v12.3h-14.48zM1453.68 572.54h14.48v12.3h-14.48zM1308.91 597.15h14.48v12.3h-14.48zM1381.3 609.45h14.48v12.3h-14.48zM1482.64 609.45h14.48v12.3h-14.48zM1323.39 634.06h14.48v12.3h-14.48zM1337.86 634.06h14.48v12.3h-14.48zM1381.3 634.06h14.48v12.3h-14.48zM1526.07 646.37h14.48v12.3h-14.48zM1424.73 658.67h14.48v12.3h-14.48zM1526.07 670.98h14.48v12.3h-14.48zM1366.82 683.28h14.48v12.3h-14.48zM1468.16 695.59h14.48v12.3h-14.48zM1497.11 695.59h14.48v12.3h-14.48z"/>
<path fill="#FF8800" d="M1323.39 498.71h14.48v12.3h-14.48zM1395.77 498.71h14.48v12.3h-14.48zM1410.25 498.71h14.48v12.3h-14.48zM1366.82 511.02h14.48v12.3h-14.48zM1294.43 523.32h14.48v12.3h-14.48zM1366.82 523.32h14.48v12.3h-14.48zM1395.77 535.63h14.48v12.3h-14.48zM1439.2 535.63h14.48v12.3h-14.48zM1308.91 560.24h14.48v12.3h-14.48zM1323.39 560.24h14.48v12.3h-14.48zM1424.73 560.24h14.48v12.3h-14.48zM1294.43 584.85h14.48v12.3h-14.48zM1337.86 584.85h14.48v12.3h-14.48zM1294.43 597.15h14.48v12.3h-14.48zM1366.82 609.45h14.48v12.3h-14.48zM1337.86 621.76h14.48v12.3h-14.48zM1511.59 621.76h14.48v12.3h-14.48zM1511.59 634.06h14.48v12.3h-14.48zM1526.07 658.67h14.48v12.3h-14.48zM1439.2 683.28h14.48v12.3h-14.48zM1453.68 683.28h14.48v12.3h-14.48zM1555.02 683.28h14.48v12.3h-14.48zM1482.64 695.59h14.48v12.3h-14.48zM1511.59 720.2h14.48v12.3h-14.48z"/>
<path fill="#FF6000" d="M1265.48 461.8h14.48v12.3h-14.48zM1251 474.1h14.48v12.3h-14.48zM1308.91 498.71h14.48v12.3h-14.48zM1294.43 511.02h14.48v12.3h-14.48zM1352.34 535.63h14.48v12.3h-14.48zM1366.82 535.63h14.48v12.3h-14.48zM1381.3 535.63h14.48v12.3h-14.48zM1337.86 547.93h14.48v12.3h-14.48zM1337.86 560.24h14.48v12.3h-14.48zM1337.86 572.54h14.48v12.3h-14.48zM1511.59 670.98h14.48v12.3h-14.48zM1497.11 683.28h14.48v12.3h-14.48zM1540.55 683.28h14.48v12.3h-14.48zM1511.59 707.89h14.48v12.3h-14.48z"/>
<path fill="#FF3800" d="M1279.95 474.1h14.48v12.3h-14.48zM1265.48 486.41h14.48v12.3h-14.48zM1381.3 498.71h14.48v12.3h-14.48zM1424.73 535.63h14.48v12.3h-14.48zM1294.43 572.54h14.48v12.3h-14.48zM1337.86 609.45h14.48v12.3h-14.48zM1511.59 646.37h14.48v12.3h-14.48zM1511.59 658.67h14.48v12.3h-14.48zM1468.16 683.28h14.48v12.3h-14.48zM1482.64 683.28h14.48v12.3h-14.48zM1526.07 683.28h14.48v12.3h-14.48zM1511.59 695.59h14.48v12.3h-14.48z"/>
<path fill="#F80808" d="M1352.34 498.71h14.48v12.3h-14.48zM1366.82 498.71h14.48v12.3h-14.48zM1337.86 511.02h14.48v12.3h-14.48zM1308.91 535.63h14.48v12.3h-14.48zM1294.43 547.93h14.48v12.3h-14.48zM1294.43 560.24h14.48v12.3h-14.48z"/>
<path fill="#D00000" d="M1337.86 498.71h14.48v12.3h-14.48zM1294.43 535.63h14.48v12.3h-14.48z"/>
<path fill="#A00000" d="M1337.86 523.32h14.48v12.3h-14.48zM1323.39 535.63h14.48v12.3h-14.48z"/>
<path fill="none" stroke="#000" stroke-opacity="0.66" stroke-width="1.0" d="M1265.48 461.8V732.5M1279.95 461.8V732.5M1294.43 461.8V732.5M1308.91 461.8V732.5M1323.39 461.8V732.5M1337.86 461.8V732.5M1352.34 461.8V732.5M1366.82 461.8V732.5M1381.3 461.8V732.5M1395.77 461.8V732.5M1410.25 461.8V732.5M1424.73 461.8V732.5M1439.2 461.8V732.5M1453.68 461.8V732.5M1468.16 461.8V732.5M1482.64 461.8V732.5M1497.11 461.8V732.5M1511.59 461.8V732.5M1526.07 461.8V732.5M1540.55 461.8V732.5M1555.02 461.8V732.5M1251 474.1H1569.5M1251 486.41H1569.5M1251 498.71H1569.5M1251 511.02H1569.5M1251 523.32H1569.5M1251 535.63H1569.5M1251 547.93H1569.5M1251 560.24H1569.5M1251 572.54H1569.5M1251 584.85H1569.5M1251 597.15H1569.5M1251 609.45H1569.5M1251 621.76H1569.5M1251 634.06H1569.5M1251 646.37H1569.5M1251 658.67H1569.5M1251 670.98H1569.5M1251 683.28H1569.5M1251 695.59H1569.5M1251 707.89H1569.5M1251 720.2H1569.5"/>
<rect x="1251" y="461.8" width="318.5" height="270.7" fill="none" stroke="#555" stroke-opacity="0.6" stroke-width="0.8"/>
<g font-family="'Liberation Sans', sans-serif" font-size="13.8" fill="#111">
<text transform="translate(1245.2 472.85) scale(0.93 1)" text-anchor="end">1</text>
<text transform="translate(1245.2 485.16) scale(0.93 1)" text-anchor="end">2</text>
<text transform="translate(1245.2 497.46) scale(0.93 1)" text-anchor="end">3</text>
<text transform="translate(1245.2 509.77) scale(0.93 1)" text-anchor="end">4</text>
<text transform="translate(1245.2 522.07) scale(0.93 1)" text-anchor="end">5</text>
<text transform="translate(1245.2 534.38) scale(0.93 1)" text-anchor="end">6</text>
<text transform="translate(1245.2 546.68) scale(0.93 1)" text-anchor="end">7</text>
<text transform="translate(1245.2 558.98) scale(0.93 1)" text-anchor="end">8</text>
<text transform="translate(1245.2 571.29) scale(0.93 1)" text-anchor="end">9</text>
<text transform="translate(1245.2 583.59) scale(0.93 1)" text-anchor="end">10</text>
<text transform="translate(1245.2 595.9) scale(0.93 1)" text-anchor="end">11</text>
<text transform="translate(1245.2 608.2) scale(0.93 1)" text-anchor="end">12</text>
<text transform="translate(1245.2 620.51) scale(0.93 1)" text-anchor="end">13</text>
<text transform="translate(1245.2 632.81) scale(0.93 1)" text-anchor="end">14</text>
<text transform="translate(1245.2 645.12) scale(0.93 1)" text-anchor="end">15</text>
<text transform="translate(1245.2 657.42) scale(0.93 1)" text-anchor="end">16</text>
<text transform="translate(1245.2 669.73) scale(0.93 1)" text-anchor="end">17</text>
<text transform="translate(1245.2 682.03) scale(0.93 1)" text-anchor="end">18</text>
<text transform="translate(1245.2 694.33) scale(0.93 1)" text-anchor="end">19</text>
<text transform="translate(1245.2 706.64) scale(0.93 1)" text-anchor="end">20</text>
<text transform="translate(1245.2 718.94) scale(0.93 1)" text-anchor="end">21</text>
<text transform="translate(1245.2 731.25) scale(0.93 1)" text-anchor="end">22</text>
<text transform="translate(1258.24 749.8) scale(0.93 1)" text-anchor="middle">1</text>
<text transform="translate(1272.72 749.8) scale(0.93 1)" text-anchor="middle">2</text>
<text transform="translate(1287.19 749.8) scale(0.93 1)" text-anchor="middle">3</text>
<text transform="translate(1301.67 749.8) scale(0.93 1)" text-anchor="middle">4</text>
<text transform="translate(1316.15 749.8) scale(0.93 1)" text-anchor="middle">5</text>
<text transform="translate(1330.62 749.8) scale(0.93 1)" text-anchor="middle">6</text>
<text transform="translate(1345.1 749.8) scale(0.93 1)" text-anchor="middle">7</text>
<text transform="translate(1359.58 749.8) scale(0.93 1)" text-anchor="middle">8</text>
<text transform="translate(1374.06 749.8) scale(0.93 1)" text-anchor="middle">9</text>
<text transform="translate(1388.53 749.8) scale(0.93 1)" text-anchor="middle">10</text>
<text transform="translate(1403.01 749.8) scale(0.93 1)" text-anchor="middle">11</text>
<text transform="translate(1417.49 749.8) scale(0.93 1)" text-anchor="middle">12</text>
<text transform="translate(1431.97 749.8) scale(0.93 1)" text-anchor="middle">13</text>
<text transform="translate(1446.44 749.8) scale(0.93 1)" text-anchor="middle">14</text>
<text transform="translate(1460.92 749.8) scale(0.93 1)" text-anchor="middle">15</text>
<text transform="translate(1475.4 749.8) scale(0.93 1)" text-anchor="middle">16</text>
<text transform="translate(1489.88 749.8) scale(0.93 1)" text-anchor="middle">17</text>
<text transform="translate(1504.35 749.8) scale(0.93 1)" text-anchor="middle">18</text>
<text transform="translate(1518.83 749.8) scale(0.93 1)" text-anchor="middle">19</text>
<text transform="translate(1533.31 749.8) scale(0.93 1)" text-anchor="middle">20</text>
<text transform="translate(1547.78 749.8) scale(0.93 1)" text-anchor="middle">21</text>
<text transform="translate(1562.26 749.8) scale(0.93 1)" text-anchor="middle">22</text>
</g></g>
<g id="hm-h">
<path fill="#000088" d="M1635 461.8h14.46v12.3h-14.46zM1649.46 474.1h14.46v12.3h-14.46zM1663.93 486.41h14.46v12.3h-14.46zM1678.39 498.71h14.46v12.3h-14.46zM1692.85 511.02h14.46v12.3h-14.46zM1707.32 523.32h14.46v12.3h-14.46zM1721.78 535.63h14.46v12.3h-14.46zM1736.25 547.93h14.46v12.3h-14.46zM1750.71 560.24h14.46v12.3h-14.46zM1765.17 572.54h14.46v12.3h-14.46zM1779.64 584.85h14.46v12.3h-14.46zM1794.1 597.15h14.46v12.3h-14.46zM1808.56 609.45h14.46v12.3h-14.46zM1823.03 621.76h14.46v12.3h-14.46zM1837.49 634.06h14.46v12.3h-14.46zM1851.95 646.37h14.46v12.3h-14.46zM1866.42 658.67h14.46v12.3h-14.46zM1880.88 670.98h14.46v12.3h-14.46zM1895.35 683.28h14.46v12.3h-14.46zM1909.81 695.59h14.46v12.3h-14.46zM1924.27 707.89h14.46v12.3h-14.46zM1938.74 720.2h14.46v12.3h-14.46z"/>
<path fill="#10F8F0" d="M1924.27 523.32h14.46v12.3h-14.46zM1924.27 547.93h14.46v12.3h-14.46zM1707.32 707.89h14.46v12.3h-14.46zM1736.25 707.89h14.46v12.3h-14.46z"/>
<path fill="#40FFC0" d="M1909.81 461.8h14.46v12.3h-14.46zM1924.27 498.71h14.46v12.3h-14.46zM1938.74 498.71h14.46v12.3h-14.46zM1909.81 511.02h14.46v12.3h-14.46zM1924.27 511.02h14.46v12.3h-14.46zM1924.27 560.24h14.46v12.3h-14.46zM1635 695.59h14.46v12.3h-14.46zM1692.85 695.59h14.46v12.3h-14.46zM1678.39 707.89h14.46v12.3h-14.46zM1692.85 707.89h14.46v12.3h-14.46zM1721.78 707.89h14.46v12.3h-14.46zM1750.71 707.89h14.46v12.3h-14.46zM1678.39 720.2h14.46v12.3h-14.46z"/>
<path fill="#60FFA0" d="M1692.85 486.41h14.46v12.3h-14.46zM1895.35 486.41h14.46v12.3h-14.46zM1924.27 486.41h14.46v12.3h-14.46zM1938.74 486.41h14.46v12.3h-14.46zM1663.93 511.02h14.46v12.3h-14.46zM1938.74 511.02h14.46v12.3h-14.46zM1909.81 535.63h14.46v12.3h-14.46zM1924.27 535.63h14.46v12.3h-14.46zM1924.27 572.54h14.46v12.3h-14.46zM1924.27 584.85h14.46v12.3h-14.46zM1924.27 597.15h14.46v12.3h-14.46zM1663.93 683.28h14.46v12.3h-14.46zM1721.78 695.59h14.46v12.3h-14.46zM1663.93 707.89h14.46v12.3h-14.46zM1765.17 707.89h14.46v12.3h-14.46zM1779.64 707.89h14.46v12.3h-14.46zM1794.1 707.89h14.46v12.3h-14.46zM1663.93 720.2h14.46v12.3h-14.46zM1692.85 720.2h14.46v12.3h-14.46z"/>
<path fill="#80FF80" d="M1880.88 474.1h14.46v12.3h-14.46zM1895.35 474.1h14.46v12.3h-14.46zM1895.35 498.71h14.46v12.3h-14.46zM1938.74 523.32h14.46v12.3h-14.46zM1938.74 547.93h14.46v12.3h-14.46zM1938.74 560.24h14.46v12.3h-14.46zM1938.74 572.54h14.46v12.3h-14.46zM1938.74 597.15h14.46v12.3h-14.46zM1649.46 670.98h14.46v12.3h-14.46zM1649.46 683.28h14.46v12.3h-14.46zM1678.39 683.28h14.46v12.3h-14.46zM1707.32 720.2h14.46v12.3h-14.46zM1736.25 720.2h14.46v12.3h-14.46zM1750.71 720.2h14.46v12.3h-14.46zM1765.17 720.2h14.46v12.3h-14.46zM1794.1 720.2h14.46v12.3h-14.46z"/>
<path fill="#A0FF60" d="M1895.35 461.8h14.46v12.3h-14.46zM1924.27 461.8h14.46v12.3h-14.46zM1938.74 461.8h14.46v12.3h-14.46zM1808.56 474.1h14.46v12.3h-14.46zM1823.03 474.1h14.46v12.3h-14.46zM1909.81 474.1h14.46v12.3h-14.46zM1924.27 474.1h14.46v12.3h-14.46zM1880.88 486.41h14.46v12.3h-14.46zM1866.42 511.02h14.46v12.3h-14.46zM1880.88 511.02h14.46v12.3h-14.46zM1895.35 511.02h14.46v12.3h-14.46zM1909.81 523.32h14.46v12.3h-14.46zM1938.74 584.85h14.46v12.3h-14.46zM1909.81 597.15h14.46v12.3h-14.46zM1649.46 609.45h14.46v12.3h-14.46zM1649.46 621.76h14.46v12.3h-14.46zM1924.27 646.37h14.46v12.3h-14.46zM1692.85 658.67h14.46v12.3h-14.46zM1663.93 670.98h14.46v12.3h-14.46zM1692.85 670.98h14.46v12.3h-14.46zM1635 683.28h14.46v12.3h-14.46zM1692.85 683.28h14.46v12.3h-14.46zM1649.46 695.59h14.46v12.3h-14.46zM1707.32 695.59h14.46v12.3h-14.46zM1794.1 695.59h14.46v12.3h-14.46zM1635 707.89h14.46v12.3h-14.46zM1649.46 707.89h14.46v12.3h-14.46zM1851.95 707.89h14.46v12.3h-14.46zM1635 720.2h14.46v12.3h-14.46zM1779.64 720.2h14.46v12.3h-14.46z"/>
<path fill="#C0FF40" d="M1880.88 461.8h14.46v12.3h-14.46zM1794.1 474.1h14.46v12.3h-14.46zM1866.42 474.1h14.46v12.3h-14.46zM1938.74 474.1h14.46v12.3h-14.46zM1851.95 486.41h14.46v12.3h-14.46zM1866.42 486.41h14.46v12.3h-14.46zM1909.81 486.41h14.46v12.3h-14.46zM1851.95 498.71h14.46v12.3h-14.46zM1866.42 498.71h14.46v12.3h-14.46zM1880.88 498.71h14.46v12.3h-14.46zM1909.81 498.71h14.46v12.3h-14.46zM1895.35 523.32h14.46v12.3h-14.46zM1938.74 535.63h14.46v12.3h-14.46zM1909.81 547.93h14.46v12.3h-14.46zM1909.81 584.85h14.46v12.3h-14.46zM1649.46 597.15h14.46v12.3h-14.46zM1924.27 609.45h14.46v12.3h-14.46zM1938.74 609.45h14.46v12.3h-14.46zM1880.88 621.76h14.46v12.3h-14.46zM1924.27 621.76h14.46v12.3h-14.46zM1866.42 634.06h14.46v12.3h-14.46zM1924.27 634.06h14.46v12.3h-14.46zM1938.74 634.06h14.46v12.3h-14.46zM1663.93 646.37h14.46v12.3h-14.46zM1678.39 646.37h14.46v12.3h-14.46zM1649.46 658.67h14.46v12.3h-14.46zM1663.93 658.67h14.46v12.3h-14.46zM1678.39 658.67h14.46v12.3h-14.46zM1837.49 658.67h14.46v12.3h-14.46zM1635 670.98h14.46v12.3h-14.46zM1678.39 670.98h14.46v12.3h-14.46zM1823.03 670.98h14.46v12.3h-14.46zM1707.32 683.28h14.46v12.3h-14.46zM1663.93 695.59h14.46v12.3h-14.46zM1678.39 695.59h14.46v12.3h-14.46zM1736.25 695.59h14.46v12.3h-14.46zM1779.64 695.59h14.46v12.3h-14.46zM1808.56 707.89h14.46v12.3h-14.46zM1823.03 707.89h14.46v12.3h-14.46zM1837.49 707.89h14.46v12.3h-14.46zM1649.46 720.2h14.46v12.3h-14.46zM1721.78 720.2h14.46v12.3h-14.46zM1808.56 720.2h14.46v12.3h-14.46zM1837.49 720.2h14.46v12.3h-14.46z"/>
<path fill="#E8FF18" d="M1692.85 461.8h14.46v12.3h-14.46zM1794.1 461.8h14.46v12.3h-14.46zM1808.56 461.8h14.46v12.3h-14.46zM1707.32 474.1h14.46v12.3h-14.46zM1736.25 474.1h14.46v12.3h-14.46zM1779.64 474.1h14.46v12.3h-14.46zM1837.49 474.1h14.46v12.3h-14.46zM1823.03 486.41h14.46v12.3h-14.46zM1837.49 486.41h14.46v12.3h-14.46zM1635 511.02h14.46v12.3h-14.46zM1851.95 511.02h14.46v12.3h-14.46zM1649.46 523.32h14.46v12.3h-14.46zM1794.1 523.32h14.46v12.3h-14.46zM1866.42 523.32h14.46v12.3h-14.46zM1880.88 523.32h14.46v12.3h-14.46zM1649.46 547.93h14.46v12.3h-14.46zM1866.42 547.93h14.46v12.3h-14.46zM1880.88 547.93h14.46v12.3h-14.46zM1895.35 547.93h14.46v12.3h-14.46zM1765.17 560.24h14.46v12.3h-14.46zM1880.88 560.24h14.46v12.3h-14.46zM1909.81 560.24h14.46v12.3h-14.46zM1750.71 572.54h14.46v12.3h-14.46zM1909.81 572.54h14.46v12.3h-14.46zM1649.46 584.85h14.46v12.3h-14.46zM1866.42 584.85h14.46v12.3h-14.46zM1880.88 584.85h14.46v12.3h-14.46zM1895.35 584.85h14.46v12.3h-14.46zM1635 597.15h14.46v12.3h-14.46zM1707.32 597.15h14.46v12.3h-14.46zM1895.35 597.15h14.46v12.3h-14.46zM1635 609.45h14.46v12.3h-14.46zM1663.93 621.76h14.46v12.3h-14.46zM1909.81 621.76h14.46v12.3h-14.46zM1938.74 621.76h14.46v12.3h-14.46zM1649.46 634.06h14.46v12.3h-14.46zM1663.93 634.06h14.46v12.3h-14.46zM1909.81 634.06h14.46v12.3h-14.46zM1692.85 646.37h14.46v12.3h-14.46zM1707.32 658.67h14.46v12.3h-14.46zM1736.25 658.67h14.46v12.3h-14.46zM1779.64 658.67h14.46v12.3h-14.46zM1707.32 670.98h14.46v12.3h-14.46zM1736.25 670.98h14.46v12.3h-14.46zM1750.71 670.98h14.46v12.3h-14.46zM1779.64 670.98h14.46v12.3h-14.46zM1938.74 670.98h14.46v12.3h-14.46zM1736.25 683.28h14.46v12.3h-14.46zM1750.71 683.28h14.46v12.3h-14.46zM1779.64 683.28h14.46v12.3h-14.46zM1794.1 683.28h14.46v12.3h-14.46zM1765.17 695.59h14.46v12.3h-14.46zM1823.03 695.59h14.46v12.3h-14.46zM1837.49 695.59h14.46v12.3h-14.46zM1823.03 720.2h14.46v12.3h-14.46zM1880.88 720.2h14.46v12.3h-14.46z"/>
<path fill="#FFF800" d="M1707.32 461.8h14.46v12.3h-14.46zM1823.03 461.8h14.46v12.3h-14.46zM1866.42 461.8h14.46v12.3h-14.46zM1750.71 474.1h14.46v12.3h-14.46zM1808.56 486.41h14.46v12.3h-14.46zM1823.03 498.71h14.46v12.3h-14.46zM1837.49 498.71h14.46v12.3h-14.46zM1837.49 511.02h14.46v12.3h-14.46zM1635 523.32h14.46v12.3h-14.46zM1895.35 535.63h14.46v12.3h-14.46zM1649.46 560.24h14.46v12.3h-14.46zM1779.64 560.24h14.46v12.3h-14.46zM1866.42 560.24h14.46v12.3h-14.46zM1895.35 560.24h14.46v12.3h-14.46zM1866.42 572.54h14.46v12.3h-14.46zM1895.35 572.54h14.46v12.3h-14.46zM1750.71 584.85h14.46v12.3h-14.46zM1866.42 597.15h14.46v12.3h-14.46zM1663.93 609.45h14.46v12.3h-14.46zM1880.88 609.45h14.46v12.3h-14.46zM1678.39 634.06h14.46v12.3h-14.46zM1692.85 634.06h14.46v12.3h-14.46zM1635 658.67h14.46v12.3h-14.46zM1750.71 658.67h14.46v12.3h-14.46zM1765.17 658.67h14.46v12.3h-14.46zM1794.1 658.67h14.46v12.3h-14.46zM1924.27 658.67h14.46v12.3h-14.46zM1938.74 658.67h14.46v12.3h-14.46zM1808.56 670.98h14.46v12.3h-14.46zM1721.78 683.28h14.46v12.3h-14.46zM1765.17 683.28h14.46v12.3h-14.46zM1750.71 695.59h14.46v12.3h-14.46zM1866.42 707.89h14.46v12.3h-14.46zM1866.42 720.2h14.46v12.3h-14.46z"/>
<path fill="#FFD000" d="M1837.49 461.8h14.46v12.3h-14.46zM1851.95 461.8h14.46v12.3h-14.46zM1678.39 474.1h14.46v12.3h-14.46zM1721.78 474.1h14.46v12.3h-14.46zM1765.17 474.1h14.46v12.3h-14.46zM1851.95 474.1h14.46v12.3h-14.46zM1794.1 486.41h14.46v12.3h-14.46zM1649.46 498.71h14.46v12.3h-14.46zM1823.03 511.02h14.46v12.3h-14.46zM1851.95 523.32h14.46v12.3h-14.46zM1649.46 535.63h14.46v12.3h-14.46zM1866.42 535.63h14.46v12.3h-14.46zM1880.88 535.63h14.46v12.3h-14.46zM1808.56 547.93h14.46v12.3h-14.46zM1837.49 547.93h14.46v12.3h-14.46zM1649.46 572.54h14.46v12.3h-14.46zM1880.88 572.54h14.46v12.3h-14.46zM1794.1 584.85h14.46v12.3h-14.46zM1663.93 597.15h14.46v12.3h-14.46zM1779.64 597.15h14.46v12.3h-14.46zM1880.88 597.15h14.46v12.3h-14.46zM1736.25 609.45h14.46v12.3h-14.46zM1837.49 609.45h14.46v12.3h-14.46zM1909.81 609.45h14.46v12.3h-14.46zM1635 621.76h14.46v12.3h-14.46zM1678.39 621.76h14.46v12.3h-14.46zM1692.85 621.76h14.46v12.3h-14.46zM1837.49 621.76h14.46v12.3h-14.46zM1635 634.06h14.46v12.3h-14.46zM1736.25 634.06h14.46v12.3h-14.46zM1808.56 634.06h14.46v12.3h-14.46zM1823.03 634.06h14.46v12.3h-14.46zM1635 646.37h14.46v12.3h-14.46zM1649.46 646.37h14.46v12.3h-14.46zM1707.32 646.37h14.46v12.3h-14.46zM1909.81 646.37h14.46v12.3h-14.46zM1938.74 646.37h14.46v12.3h-14.46zM1721.78 658.67h14.46v12.3h-14.46zM1721.78 670.98h14.46v12.3h-14.46zM1765.17 670.98h14.46v12.3h-14.46zM1794.1 670.98h14.46v12.3h-14.46zM1895.35 670.98h14.46v12.3h-14.46zM1924.27 670.98h14.46v12.3h-14.46zM1880.88 683.28h14.46v12.3h-14.46zM1808.56 695.59h14.46v12.3h-14.46zM1851.95 695.59h14.46v12.3h-14.46zM1880.88 707.89h14.46v12.3h-14.46zM1851.95 720.2h14.46v12.3h-14.46z"/>
<path fill="#FFA800" d="M1678.39 461.8h14.46v12.3h-14.46zM1721.78 461.8h14.46v12.3h-14.46zM1750.71 461.8h14.46v12.3h-14.46zM1765.17 461.8h14.46v12.3h-14.46zM1779.64 461.8h14.46v12.3h-14.46zM1692.85 474.1h14.46v12.3h-14.46zM1707.32 486.41h14.46v12.3h-14.46zM1635 498.71h14.46v12.3h-14.46zM1808.56 498.71h14.46v12.3h-14.46zM1649.46 511.02h14.46v12.3h-14.46zM1808.56 511.02h14.46v12.3h-14.46zM1663.93 523.32h14.46v12.3h-14.46zM1837.49 523.32h14.46v12.3h-14.46zM1635 535.63h14.46v12.3h-14.46zM1837.49 535.63h14.46v12.3h-14.46zM1851.95 547.93h14.46v12.3h-14.46zM1635 560.24h14.46v12.3h-14.46zM1635 572.54h14.46v12.3h-14.46zM1794.1 572.54h14.46v12.3h-14.46zM1851.95 572.54h14.46v12.3h-14.46zM1635 584.85h14.46v12.3h-14.46zM1851.95 584.85h14.46v12.3h-14.46zM1765.17 597.15h14.46v12.3h-14.46zM1678.39 609.45h14.46v12.3h-14.46zM1692.85 609.45h14.46v12.3h-14.46zM1866.42 609.45h14.46v12.3h-14.46zM1895.35 609.45h14.46v12.3h-14.46zM1866.42 621.76h14.46v12.3h-14.46zM1707.32 634.06h14.46v12.3h-14.46zM1721.78 634.06h14.46v12.3h-14.46zM1779.64 634.06h14.46v12.3h-14.46zM1880.88 634.06h14.46v12.3h-14.46zM1736.25 646.37h14.46v12.3h-14.46zM1765.17 646.37h14.46v12.3h-14.46zM1779.64 646.37h14.46v12.3h-14.46zM1808.56 658.67h14.46v12.3h-14.46zM1823.03 658.67h14.46v12.3h-14.46zM1880.88 658.67h14.46v12.3h-14.46zM1837.49 670.98h14.46v12.3h-14.46zM1866.42 670.98h14.46v12.3h-14.46zM1808.56 683.28h14.46v12.3h-14.46zM1924.27 695.59h14.46v12.3h-14.46zM1909.81 707.89h14.46v12.3h-14.46z"/>
<path fill="#FF8800" d="M1663.93 461.8h14.46v12.3h-14.46zM1736.25 461.8h14.46v12.3h-14.46zM1663.93 474.1h14.46v12.3h-14.46zM1635 486.41h14.46v12.3h-14.46zM1649.46 486.41h14.46v12.3h-14.46zM1721.78 486.41h14.46v12.3h-14.46zM1779.64 486.41h14.46v12.3h-14.46zM1794.1 511.02h14.46v12.3h-14.46zM1765.17 523.32h14.46v12.3h-14.46zM1779.64 523.32h14.46v12.3h-14.46zM1663.93 535.63h14.46v12.3h-14.46zM1765.17 535.63h14.46v12.3h-14.46zM1794.1 535.63h14.46v12.3h-14.46zM1851.95 535.63h14.46v12.3h-14.46zM1635 547.93h14.46v12.3h-14.46zM1823.03 547.93h14.46v12.3h-14.46zM1837.49 560.24h14.46v12.3h-14.46zM1851.95 560.24h14.46v12.3h-14.46zM1707.32 572.54h14.46v12.3h-14.46zM1721.78 572.54h14.46v12.3h-14.46zM1779.64 572.54h14.46v12.3h-14.46zM1663.93 584.85h14.46v12.3h-14.46zM1707.32 584.85h14.46v12.3h-14.46zM1765.17 584.85h14.46v12.3h-14.46zM1823.03 584.85h14.46v12.3h-14.46zM1837.49 584.85h14.46v12.3h-14.46zM1692.85 597.15h14.46v12.3h-14.46zM1721.78 597.15h14.46v12.3h-14.46zM1837.49 597.15h14.46v12.3h-14.46zM1851.95 597.15h14.46v12.3h-14.46zM1736.25 621.76h14.46v12.3h-14.46zM1779.64 621.76h14.46v12.3h-14.46zM1895.35 621.76h14.46v12.3h-14.46zM1750.71 634.06h14.46v12.3h-14.46zM1794.1 634.06h14.46v12.3h-14.46zM1895.35 634.06h14.46v12.3h-14.46zM1721.78 646.37h14.46v12.3h-14.46zM1750.71 646.37h14.46v12.3h-14.46zM1794.1 646.37h14.46v12.3h-14.46zM1909.81 658.67h14.46v12.3h-14.46zM1909.81 670.98h14.46v12.3h-14.46zM1823.03 683.28h14.46v12.3h-14.46zM1837.49 683.28h14.46v12.3h-14.46zM1938.74 683.28h14.46v12.3h-14.46zM1866.42 695.59h14.46v12.3h-14.46zM1880.88 695.59h14.46v12.3h-14.46zM1938.74 695.59h14.46v12.3h-14.46zM1895.35 720.2h14.46v12.3h-14.46zM1909.81 720.2h14.46v12.3h-14.46z"/>
<path fill="#FF6000" d="M1678.39 486.41h14.46v12.3h-14.46zM1750.71 486.41h14.46v12.3h-14.46zM1765.17 486.41h14.46v12.3h-14.46zM1663.93 498.71h14.46v12.3h-14.46zM1692.85 498.71h14.46v12.3h-14.46zM1707.32 498.71h14.46v12.3h-14.46zM1678.39 511.02h14.46v12.3h-14.46zM1779.64 511.02h14.46v12.3h-14.46zM1678.39 523.32h14.46v12.3h-14.46zM1808.56 523.32h14.46v12.3h-14.46zM1823.03 523.32h14.46v12.3h-14.46zM1794.1 547.93h14.46v12.3h-14.46zM1663.93 560.24h14.46v12.3h-14.46zM1794.1 560.24h14.46v12.3h-14.46zM1663.93 572.54h14.46v12.3h-14.46zM1692.85 584.85h14.46v12.3h-14.46zM1736.25 597.15h14.46v12.3h-14.46zM1750.71 597.15h14.46v12.3h-14.46zM1808.56 597.15h14.46v12.3h-14.46zM1707.32 609.45h14.46v12.3h-14.46zM1794.1 609.45h14.46v12.3h-14.46zM1823.03 609.45h14.46v12.3h-14.46zM1707.32 621.76h14.46v12.3h-14.46zM1808.56 621.76h14.46v12.3h-14.46zM1909.81 683.28h14.46v12.3h-14.46zM1895.35 695.59h14.46v12.3h-14.46zM1938.74 707.89h14.46v12.3h-14.46zM1924.27 720.2h14.46v12.3h-14.46z"/>
<path fill="#FF3800" d="M1649.46 461.8h14.46v12.3h-14.46zM1635 474.1h14.46v12.3h-14.46zM1736.25 486.41h14.46v12.3h-14.46zM1794.1 498.71h14.46v12.3h-14.46zM1765.17 511.02h14.46v12.3h-14.46zM1736.25 523.32h14.46v12.3h-14.46zM1750.71 523.32h14.46v12.3h-14.46zM1823.03 535.63h14.46v12.3h-14.46zM1663.93 547.93h14.46v12.3h-14.46zM1707.32 547.93h14.46v12.3h-14.46zM1779.64 547.93h14.46v12.3h-14.46zM1707.32 560.24h14.46v12.3h-14.46zM1692.85 572.54h14.46v12.3h-14.46zM1837.49 572.54h14.46v12.3h-14.46zM1736.25 584.85h14.46v12.3h-14.46zM1808.56 584.85h14.46v12.3h-14.46zM1678.39 597.15h14.46v12.3h-14.46zM1779.64 609.45h14.46v12.3h-14.46zM1721.78 621.76h14.46v12.3h-14.46zM1765.17 634.06h14.46v12.3h-14.46zM1866.42 646.37h14.46v12.3h-14.46zM1895.35 646.37h14.46v12.3h-14.46zM1851.95 658.67h14.46v12.3h-14.46zM1895.35 658.67h14.46v12.3h-14.46zM1851.95 683.28h14.46v12.3h-14.46zM1866.42 683.28h14.46v12.3h-14.46zM1924.27 683.28h14.46v12.3h-14.46zM1895.35 707.89h14.46v12.3h-14.46z"/>
<path fill="#F80808" d="M1721.78 498.71h14.46v12.3h-14.46zM1765.17 498.71h14.46v12.3h-14.46zM1779.64 498.71h14.46v12.3h-14.46zM1736.25 511.02h14.46v12.3h-14.46zM1678.39 535.63h14.46v12.3h-14.46zM1750.71 535.63h14.46v12.3h-14.46zM1808.56 535.63h14.46v12.3h-14.46zM1692.85 547.93h14.46v12.3h-14.46zM1721.78 560.24h14.46v12.3h-14.46zM1823.03 560.24h14.46v12.3h-14.46zM1678.39 572.54h14.46v12.3h-14.46zM1823.03 572.54h14.46v12.3h-14.46zM1678.39 584.85h14.46v12.3h-14.46zM1823.03 597.15h14.46v12.3h-14.46zM1721.78 609.45h14.46v12.3h-14.46zM1750.71 621.76h14.46v12.3h-14.46zM1765.17 621.76h14.46v12.3h-14.46zM1794.1 621.76h14.46v12.3h-14.46z"/>
<path fill="#D00000" d="M1750.71 498.71h14.46v12.3h-14.46zM1721.78 511.02h14.46v12.3h-14.46zM1750.71 511.02h14.46v12.3h-14.46zM1692.85 535.63h14.46v12.3h-14.46zM1779.64 535.63h14.46v12.3h-14.46zM1750.71 547.93h14.46v12.3h-14.46zM1678.39 560.24h14.46v12.3h-14.46zM1692.85 560.24h14.46v12.3h-14.46zM1736.25 560.24h14.46v12.3h-14.46zM1808.56 560.24h14.46v12.3h-14.46zM1808.56 572.54h14.46v12.3h-14.46zM1721.78 584.85h14.46v12.3h-14.46zM1750.71 609.45h14.46v12.3h-14.46zM1765.17 609.45h14.46v12.3h-14.46zM1851.95 609.45h14.46v12.3h-14.46zM1808.56 646.37h14.46v12.3h-14.46zM1880.88 646.37h14.46v12.3h-14.46zM1851.95 670.98h14.46v12.3h-14.46z"/>
<path fill="#A00000" d="M1736.25 498.71h14.46v12.3h-14.46zM1707.32 511.02h14.46v12.3h-14.46zM1692.85 523.32h14.46v12.3h-14.46zM1721.78 523.32h14.46v12.3h-14.46zM1707.32 535.63h14.46v12.3h-14.46zM1736.25 535.63h14.46v12.3h-14.46zM1678.39 547.93h14.46v12.3h-14.46zM1721.78 547.93h14.46v12.3h-14.46zM1851.95 634.06h14.46v12.3h-14.46zM1837.49 646.37h14.46v12.3h-14.46z"/>
<path fill="#800000" d="M1765.17 547.93h14.46v12.3h-14.46zM1736.25 572.54h14.46v12.3h-14.46zM1851.95 621.76h14.46v12.3h-14.46zM1823.03 646.37h14.46v12.3h-14.46z"/>
<path fill="none" stroke="#000" stroke-opacity="0.66" stroke-width="1.0" d="M1649.46 461.8V732.5M1663.93 461.8V732.5M1678.39 461.8V732.5M1692.85 461.8V732.5M1707.32 461.8V732.5M1721.78 461.8V732.5M1736.25 461.8V732.5M1750.71 461.8V732.5M1765.17 461.8V732.5M1779.64 461.8V732.5M1794.1 461.8V732.5M1808.56 461.8V732.5M1823.03 461.8V732.5M1837.49 461.8V732.5M1851.95 461.8V732.5M1866.42 461.8V732.5M1880.88 461.8V732.5M1895.35 461.8V732.5M1909.81 461.8V732.5M1924.27 461.8V732.5M1938.74 461.8V732.5M1635 474.1H1953.2M1635 486.41H1953.2M1635 498.71H1953.2M1635 511.02H1953.2M1635 523.32H1953.2M1635 535.63H1953.2M1635 547.93H1953.2M1635 560.24H1953.2M1635 572.54H1953.2M1635 584.85H1953.2M1635 597.15H1953.2M1635 609.45H1953.2M1635 621.76H1953.2M1635 634.06H1953.2M1635 646.37H1953.2M1635 658.67H1953.2M1635 670.98H1953.2M1635 683.28H1953.2M1635 695.59H1953.2M1635 707.89H1953.2M1635 720.2H1953.2"/>
<rect x="1635" y="461.8" width="318.2" height="270.7" fill="none" stroke="#555" stroke-opacity="0.6" stroke-width="0.8"/>
<g font-family="'Liberation Sans', sans-serif" font-size="13.8" fill="#111">
<text transform="translate(1629.2 472.85) scale(0.93 1)" text-anchor="end">1</text>
<text transform="translate(1629.2 485.16) scale(0.93 1)" text-anchor="end">2</text>
<text transform="translate(1629.2 497.46) scale(0.93 1)" text-anchor="end">3</text>
<text transform="translate(1629.2 509.77) scale(0.93 1)" text-anchor="end">4</text>
<text transform="translate(1629.2 522.07) scale(0.93 1)" text-anchor="end">5</text>
<text transform="translate(1629.2 534.38) scale(0.93 1)" text-anchor="end">6</text>
<text transform="translate(1629.2 546.68) scale(0.93 1)" text-anchor="end">7</text>
<text transform="translate(1629.2 558.98) scale(0.93 1)" text-anchor="end">8</text>
<text transform="translate(1629.2 571.29) scale(0.93 1)" text-anchor="end">9</text>
<text transform="translate(1629.2 583.59) scale(0.93 1)" text-anchor="end">10</text>
<text transform="translate(1629.2 595.9) scale(0.93 1)" text-anchor="end">11</text>
<text transform="translate(1629.2 608.2) scale(0.93 1)" text-anchor="end">12</text>
<text transform="translate(1629.2 620.51) scale(0.93 1)" text-anchor="end">13</text>
<text transform="translate(1629.2 632.81) scale(0.93 1)" text-anchor="end">14</text>
<text transform="translate(1629.2 645.12) scale(0.93 1)" text-anchor="end">15</text>
<text transform="translate(1629.2 657.42) scale(0.93 1)" text-anchor="end">16</text>
<text transform="translate(1629.2 669.73) scale(0.93 1)" text-anchor="end">17</text>
<text transform="translate(1629.2 682.03) scale(0.93 1)" text-anchor="end">18</text>
<text transform="translate(1629.2 694.33) scale(0.93 1)" text-anchor="end">19</text>
<text transform="translate(1629.2 706.64) scale(0.93 1)" text-anchor="end">20</text>
<text transform="translate(1629.2 718.94) scale(0.93 1)" text-anchor="end">21</text>
<text transform="translate(1629.2 731.25) scale(0.93 1)" text-anchor="end">22</text>
<text transform="translate(1642.23 749.8) scale(0.93 1)" text-anchor="middle">1</text>
<text transform="translate(1656.7 749.8) scale(0.93 1)" text-anchor="middle">2</text>
<text transform="translate(1671.16 749.8) scale(0.93 1)" text-anchor="middle">3</text>
<text transform="translate(1685.62 749.8) scale(0.93 1)" text-anchor="middle">4</text>
<text transform="translate(1700.09 749.8) scale(0.93 1)" text-anchor="middle">5</text>
<text transform="translate(1714.55 749.8) scale(0.93 1)" text-anchor="middle">6</text>
<text transform="translate(1729.01 749.8) scale(0.93 1)" text-anchor="middle">7</text>
<text transform="translate(1743.48 749.8) scale(0.93 1)" text-anchor="middle">8</text>
<text transform="translate(1757.94 749.8) scale(0.93 1)" text-anchor="middle">9</text>
<text transform="translate(1772.4 749.8) scale(0.93 1)" text-anchor="middle">10</text>
<text transform="translate(1786.87 749.8) scale(0.93 1)" text-anchor="middle">11</text>
<text transform="translate(1801.33 749.8) scale(0.93 1)" text-anchor="middle">12</text>
<text transform="translate(1815.8 749.8) scale(0.93 1)" text-anchor="middle">13</text>
<text transform="translate(1830.26 749.8) scale(0.93 1)" text-anchor="middle">14</text>
<text transform="translate(1844.72 749.8) scale(0.93 1)" text-anchor="middle">15</text>
<text transform="translate(1859.19 749.8) scale(0.93 1)" text-anchor="middle">16</text>
<text transform="translate(1873.65 749.8) scale(0.93 1)" text-anchor="middle">17</text>
<text transform="translate(1888.11 749.8) scale(0.93 1)" text-anchor="middle">18</text>
<text transform="translate(1902.58 749.8) scale(0.93 1)" text-anchor="middle">19</text>
<text transform="translate(1917.04 749.8) scale(0.93 1)" text-anchor="middle">20</text>
<text transform="translate(1931.5 749.8) scale(0.93 1)" text-anchor="middle">21</text>
<text transform="translate(1945.97 749.8) scale(0.93 1)" text-anchor="middle">22</text>
</g></g>
<rect x="1133" y="112" width="17" height="270.8" fill="url(#ga)" stroke="#444" stroke-opacity="0.7" stroke-width="0.8"/>
<g font-family="'Liberation Sans', sans-serif" font-size="12.3" fill="#111">
<text transform="translate(1155 116.4) scale(0.885 1)">1</text>
<text transform="translate(1155 155.09) scale(0.885 1)">0.8</text>
<text transform="translate(1155 193.77) scale(0.885 1)">0.6</text>
<text transform="translate(1155 232.46) scale(0.885 1)">0.4</text>
<text transform="translate(1155 271.14) scale(0.885 1)">0.2</text>
<text transform="translate(1155 309.83) scale(0.885 1)">0</text>
<text transform="translate(1155 348.51) scale(0.885 1)">−0.2</text>
<text transform="translate(1155 387.2) scale(0.885 1)">−0.4</text>
</g>
<path d="M1150 150.69h-2.5M1150 189.37h-2.5M1150 228.06h-2.5M1150 266.74h-2.5M1150 305.43h-2.5M1150 344.11h-2.5" stroke="#222" stroke-width="0.7" fill="none"/>
<rect x="1961.4" y="112" width="17" height="270.8" fill="url(#ga)" stroke="#444" stroke-opacity="0.7" stroke-width="0.8"/>
<g font-family="'Liberation Sans', sans-serif" font-size="12.3" fill="#111">
<text transform="translate(1983.4 116.4) scale(0.885 1)">1</text>
<text transform="translate(1983.4 155.09) scale(0.885 1)">0.8</text>
<text transform="translate(1983.4 193.77) scale(0.885 1)">0.6</text>
<text transform="translate(1983.4 232.46) scale(0.885 1)">0.4</text>
<text transform="translate(1983.4 271.14) scale(0.885 1)">0.2</text>
<text transform="translate(1983.4 309.83) scale(0.885 1)">0</text>
<text transform="translate(1983.4 348.51) scale(0.885 1)">−0.2</text>
<text transform="translate(1983.4 387.2) scale(0.885 1)">−0.4</text>
</g>
<path d="M1978.4 150.69h-2.5M1978.4 189.37h-2.5M1978.4 228.06h-2.5M1978.4 266.74h-2.5M1978.4 305.43h-2.5M1978.4 344.11h-2.5" stroke="#222" stroke-width="0.7" fill="none"/>
<rect x="1133" y="462" width="17" height="270.6" fill="url(#gj)" stroke="#444" stroke-opacity="0.7" stroke-width="0.8"/>
<g font-family="'Liberation Sans', sans-serif" font-size="12.3" fill="#111">
<text transform="translate(1155 466.4) scale(0.885 1)">0.8</text>
<text transform="translate(1155 500.22) scale(0.885 1)">0.7</text>
<text transform="translate(1155 534.05) scale(0.885 1)">0.6</text>
<text transform="translate(1155 567.88) scale(0.885 1)">0.5</text>
<text transform="translate(1155 601.7) scale(0.885 1)">0.4</text>
<text transform="translate(1155 635.52) scale(0.885 1)">0.3</text>
<text transform="translate(1155 669.35) scale(0.885 1)">0.2</text>
<text transform="translate(1155 703.18) scale(0.885 1)">0.1</text>
<text transform="translate(1155 737) scale(0.885 1)">0</text>
</g>
<path d="M1150 495.82h-2.5M1150 529.65h-2.5M1150 563.48h-2.5M1150 597.3h-2.5M1150 631.12h-2.5M1150 664.95h-2.5M1150 698.78h-2.5" stroke="#222" stroke-width="0.7" fill="none"/>
<rect x="1961.4" y="462" width="17" height="270.6" fill="url(#gj)" stroke="#444" stroke-opacity="0.7" stroke-width="0.8"/>
<g font-family="'Liberation Sans', sans-serif" font-size="12.3" fill="#111">
<text transform="translate(1983.4 466.4) scale(0.885 1)">0.8</text>
<text transform="translate(1983.4 500.22) scale(0.885 1)">0.7</text>
<text transform="translate(1983.4 534.05) scale(0.885 1)">0.6</text>
<text transform="translate(1983.4 567.88) scale(0.885 1)">0.5</text>
<text transform="translate(1983.4 601.7) scale(0.885 1)">0.4</text>
<text transform="translate(1983.4 635.52) scale(0.885 1)">0.3</text>
<text transform="translate(1983.4 669.35) scale(0.885 1)">0.2</text>
<text transform="translate(1983.4 703.18) scale(0.885 1)">0.1</text>
<text transform="translate(1983.4 737) scale(0.885 1)">0</text>
</g>
<path d="M1978.4 495.82h-2.5M1978.4 529.65h-2.5M1978.4 563.48h-2.5M1978.4 597.3h-2.5M1978.4 631.12h-2.5M1978.4 664.95h-2.5M1978.4 698.78h-2.5" stroke="#222" stroke-width="0.7" fill="none"/>
<rect x="340" y="407.1" width="1666" height="2.4" fill="#000"/>
<rect x="1213.1" y="19" width="2.2" height="733" fill="#000"/>
<g font-family="'Liberation Sans', sans-serif" fill="#000">
<text x="608.4" y="26.6" font-size="39.5" textLength="226.7" lengthAdjust="spacingAndGlyphs">Medial Lateral</text>
<text x="870.8" y="26.6" font-size="39.5" textLength="107.3" lengthAdjust="spacingAndGlyphs">(n=10)</text>
<text x="1402.2" y="27.1" font-size="39.5" textLength="282.3" lengthAdjust="spacingAndGlyphs">Anterior Posterior</text>
<text x="1719.9" y="27.1" font-size="39.5" textLength="106.6" lengthAdjust="spacingAndGlyphs">(n=10)</text>
<text transform="translate(551.1 86.5) scale(0.94 1)" font-size="39.5">EO</text>
<text transform="translate(933.4 86.5) scale(0.94 1)" font-size="39.5">EC</text>
<text transform="translate(1377.7 86.6) scale(0.94 1)" font-size="39.5">EO</text>
<text transform="translate(1761.5 86.6) scale(0.94 1)" font-size="39.5">EC</text>
<text transform="translate(386.9 394.3) rotate(-90)" font-size="43.5" textLength="305.5" lengthAdjust="spacingAndGlyphs">Heatmap of AAC</text>
<text transform="translate(386.9 722.8) rotate(-90)" font-size="43.5" textLength="280" lengthAdjust="spacingAndGlyphs">Heatmap of SD</text>
</g>
<g font-family="'Liberation Serif', serif" font-weight="bold" fill="#000">
<text transform="translate(407.3 103.0) scale(0.955 1)" font-size="48.5">a</text>
<text transform="translate(800.0 103.0) scale(1.0 1)" font-size="46.3">b</text>
<text transform="translate(1235.2 103.0) scale(0.955 1)" font-size="48.5">c</text>
<text transform="translate(1621.0 103.0) scale(1.0 1)" font-size="46.3">d</text>
<text transform="translate(411.8 452.9) scale(0.955 1)" font-size="48.5">e</text>
<text transform="translate(791.8 452.6) scale(1.1 1)" font-size="47.0">f</text>
<text transform="translate(1235.9 444.2) scale(0.955 1)" font-size="48.5">g</text>
<text transform="translate(1622.0 452.9) scale(1.0 1)" font-size="46.3">h</text>
</g>
<g id="diagram">
<path d="M168.5 252C168.08 250.5 166.68 246.18 166 243C165.32 239.82 164.47 236.18 164.4 232.9C164.33 229.62 164.92 226.28 165.6 223.3C166.28 220.32 167.32 217.4 168.5 215C169.68 212.6 170.6 211.3 172.7 208.9C174.8 206.5 178.3 202.68 181.1 200.6C183.9 198.52 186.7 197.05 189.5 196.4C192.3 195.75 194.92 196.6 197.9 196.7C200.88 196.8 204.62 197.2 207.4 197C210.18 196.8 211.8 195.5 214.6 195.5C217.4 195.5 221 196.05 224.2 197C227.4 197.95 230.62 199.22 233.8 201.2C236.98 203.18 240.32 206.02 243.3 208.9C246.28 211.78 249.6 215.5 251.7 218.5C253.8 221.5 255.1 224.7 255.9 226.9C256.7 229.1 256.8 230.1 256.5 231.7C256.2 233.3 255.1 234.92 254.1 236.5C253.1 238.08 251.3 239.92 250.5 241.2C249.7 242.48 249.5 243.7 249.3 244.2L240 238L207 236.300L168 240Z" fill="#fafafa" stroke="none"/>
<path d="M202.74 217.52h1.51M232.67 217.18h1.11M232.96 216.3h0.65M200.3 214.39h0.73M179.88 218.4h0.77M213.77 223.15h1.93M188.93 209.19h1.97M240.94 216.48h1.01M216.62 216.51h1.03M215.18 207.94h1.41M194.88 206.92h1.37M217.11 214.22h0.89M199.03 205.3h1.04M188.18 208.52h1.02M217.28 202.55h0.94M185.71 208.75h1.83M206.51 206.08h1.97M226.16 218.68h1.66M223.54 220.42h0.65M193.52 203.1h1.4M223.3 207.87h1.57M186.26 207.47h1.24M180.05 214.72h0.68M200.31 203.02h1.99M217.38 206.76h1.14M206.35 211.3h1.25M215.07 216.87h0.68M210.48 208.36h0.95M182.98 220.68h0.71M183.66 216.03h1.84M204.88 221.24h1.1M217.81 217.43h0.92M211.62 222h1.42M208.82 213.83h1.19M190.55 220.16h1.93M199.56 204.31h1.46M205.26 210.3h1.86M215.68 205.22h1.16M231.82 219.27h0.69M224 215.44h0.83M204.58 215.52h0.6M215.67 216.37h1.11M242.23 214.94h1.46M219.76 218.25h1.09M200.71 216.43h1.79M233.55 212.61h1.28M218.87 215.14h1.08M205.97 224.78h0.83M243.74 214.83h1.34M225.05 220.63h0.64M228.62 204.79h0.97M199.15 216.95h1.68M177.89 210.67h1.06M214.47 224.54h1.98M221.89 202.83h0.92M187.67 212.14h0.64M227.74 214.2h0.96M176.05 217.1h1.98M229.87 210.81h0.91M211.32 218.7h0.89M222.41 205.41h1.51M212.22 209.4h1.52M209.02 204.01h0.85M214.05 205.73h1.72M231.29 211.55h1.16M237.95 209.37h0.84M218.77 216.62h1.87M213.78 208.34h1.76M237.96 211.7h1.09M196.57 211.58h0.62M237.53 211.09h1.34M230.68 209.53h1.82M216.61 207.7h0.95M204.29 219.14h1.42M207.63 221.4h0.78M227.08 208.86h1.24M178.71 218.96h1.3M183.47 211.13h0.63M194.67 215.04h0.61M213.54 207.86h1.26M204.83 203.42h1.06M182.35 211.89h1.7M230.18 219.02h0.95M203.68 224.26h1.31M179.95 208.71h1.88M182.6 216.55h1.31M179.12 212.18h1.23M184.65 211.13h1.92M226.14 210.65h1.38M217.18 216.44h1.22M224.86 215.81h0.7M220.29 209.92h1.6M201.72 208.85h1.84M225.52 211.77h1.93M188.83 218.41h1.99M216.16 208.46h1.2M188.14 212.26h0.87M196.23 223.04h0.63M186.47 210.13h0.63M195.07 221.95h1.32M241.85 218.07h1.7M220.47 212.25h0.97M239.8 215.82h0.98M225.06 219.14h1.88M216.69 207h0.81M232.76 208.22h1.58M216.31 214.66h1.56M200.36 214.58h1.91M237.81 219.04h0.69M224.78 206.35h1.07M207.55 217.64h1.34M209.87 217.29h0.83M224.37 214.82h1.04M198.37 223.66h1.01M193.82 213h1.09M226.9 213.74h0.62M206.16 203.4h0.87M174.63 214.99h0.75M218.93 205.24h1.29M220.44 205.97h1.31M190.94 222.9h1.59M193.96 206.76h1.09M221.22 214.57h0.7M207.96 206.44h0.83" stroke="#777" stroke-width="1.100" stroke-opacity="0.280" fill="none"/>
<g fill="none" stroke="#1a1a1a" stroke-linecap="round" stroke-linejoin="round">
<path stroke-width="1.25" stroke-opacity="0.85" d="M168.5 252C168.08 250.5 166.68 246.18 166 243C165.32 239.82 164.47 236.18 164.4 232.9C164.33 229.62 164.92 226.28 165.6 223.3C166.28 220.32 167.32 217.4 168.5 215C169.68 212.6 170.6 211.3 172.7 208.9C174.8 206.5 178.3 202.68 181.1 200.6C183.9 198.52 186.7 197.05 189.5 196.4C192.3 195.75 194.92 196.6 197.9 196.7C200.88 196.8 204.62 197.2 207.4 197C210.18 196.8 211.8 195.5 214.6 195.5C217.4 195.5 221 196.05 224.2 197C227.4 197.95 230.62 199.22 233.8 201.2C236.98 203.18 240.32 206.02 243.3 208.9C246.28 211.78 249.6 215.5 251.7 218.5C253.8 221.5 255.1 224.7 255.9 226.9C256.7 229.1 256.8 230.1 256.5 231.7C256.2 233.3 255.1 234.92 254.1 236.5C253.1 238.08 251.3 239.92 250.5 241.2C249.7 242.48 249.5 243.7 249.3 244.2"/>
<path stroke-width="0.95" stroke-opacity="0.85" d="M165.3 251.8C165 252.5 163.5 254.3 163.5 256C163.5 257.7 164.3 259.22 165.3 262C166.3 264.78 168.4 269.92 169.5 272.7C170.6 275.48 170.9 277.3 171.9 278.7C172.9 280.1 174.5 279.5 175.5 281.1C176.5 282.7 177.1 285.9 177.9 288.3C178.7 290.7 179.8 293.3 180.3 295.5C180.8 297.7 181 299.52 180.9 301.5C180.8 303.48 180.5 305.62 179.7 307.4C178.9 309.18 177.7 310.9 176.1 312.2C174.5 313.5 173.5 313.7 170.1 315.2C166.7 316.7 161.08 318.67 155.7 321.2C150.32 323.73 143.78 327.32 137.8 330.4C131.82 333.48 124.38 336.97 119.8 339.7C115.22 342.43 112.88 344.43 110.3 346.8C107.72 349.17 106 351.12 104.3 353.9C102.6 356.68 101.2 360.1 100.1 363.5C99 366.9 98.23 369.92 97.7 374.3C97.17 378.68 97.1 385.12 96.9 389.8C96.7 394.48 96.57 395.52 96.5 402.4C96.43 409.28 96.23 423.52 96.5 431.1C96.77 438.68 97.83 441.92 98.1 447.9C98.37 453.88 98.37 461.82 98.1 467C97.83 472.18 97.27 475.17 96.5 479C95.73 482.83 94.2 486.17 93.5 490C92.8 493.83 92.4 496.02 92.3 502C92.2 507.98 92.4 518.33 92.9 525.9C93.4 533.47 94.2 539.82 95.3 547.4C96.4 554.98 98.3 565.23 99.5 571.4C100.7 577.57 101.6 578.65 102.5 584.4C103.4 590.15 104.17 600.92 104.9 605.9C105.63 610.88 106.7 610.72 106.9 614.3C107.1 617.88 106.53 623.22 106.1 627.4C105.67 631.58 104.6 637.4 104.3 639.4"/>
<path stroke-width="0.8" stroke-opacity="0.7" d="M126.4 404.8C127.3 408.98 130.1 422.32 131.8 429.9C133.5 437.48 135.2 443.32 136.6 450.3C138 457.28 139.1 465.18 140.2 471.8C141.3 478.42 142.8 484.57 143.2 490C143.6 495.43 143.3 500.02 142.6 504.4C141.9 508.78 139.9 511.72 139 516.3C138.1 520.88 137.77 525.72 137.2 531.9C136.63 538.08 136.3 546.42 135.6 553.4C134.9 560.38 133.63 568.63 133 573.8C132.37 578.97 132.4 581.05 131.8 584.4C131.2 587.75 130.03 590.92 129.4 593.9C128.77 596.88 128.23 600.9 128 602.3"/>
<path stroke-width="0.8" stroke-opacity="0.55" d="M133.6 418C133.5 420.98 133.4 428.93 133 435.9C132.6 442.87 131.73 450.78 131.2 459.8C130.67 468.82 130 480.98 129.8 490C129.6 499.02 130.07 505.92 130 513.9C129.93 521.88 130 530.72 129.4 537.9C128.8 545.08 127.2 550.02 126.4 557C125.6 563.98 124.9 575.03 124.6 579.8C124.3 584.57 124.4 582.65 124.6 585.6C124.8 588.55 125.3 594.72 125.8 597.5C126.3 600.28 127.47 598.55 127.6 602.3C127.73 606.05 127 613.72 126.6 620C126.2 626.28 125.43 636.67 125.2 640"/>
<path stroke-width="0.9" stroke-opacity="0.45" d="M168 240C181 237.300 194 236.300 207.400 236.200C218 236.200 229 236.500 239.800 237.100L239.200 241.200L235 241.800L234.400 244.800L235.600 248.400L235 252M241 238.900L249.300 241.200L249.300 244.200"/>
<path stroke-width="0.9" stroke-opacity="0.4" d="M169.700 255C177 253.800 184 253.300 191.900 253.200C199 253.100 207 253.100 214.600 253.200C221 253.300 228 253.800 233.800 254.400"/>
<path stroke-width="0.8" stroke-opacity="0.4" d="M169.500 244.200C171.500 243 174.500 243.300 175.300 245.300C176 247.300 175 249.300 172.500 249.800C171 250 170 249.500 169.800 248.500"/>
<path stroke-width="0.9" stroke-opacity="0.75" d="M135.800 556C136 554.600 136.300 554.200 137.500 554C144 553.600 150 552.900 155.700 552.200C160 551.500 164 550.900 167.700 550.800C172 550.700 176 550.800 179.700 551C183 551.500 185 552 186.900 552.200C192 552.600 197 552.500 201.200 552.500M136.600 558.200C143 557.700 150 557.100 155.700 556.400C162 555.600 168 554.800 173.700 554.600C178 554.600 183 555.200 186.900 555.600C192 555.900 197 555.800 201.200 555.800"/>
<path stroke-width="1.6" stroke-opacity="0.3" d="M214.500 553.300L235.300 552.600M214.500 555.800L235.300 555.400"/>
</g>
<path d="M193.700 247H187.400V598.800Q187.400 600.200 189 600.200H193.800M187.200 423.700H181.100" fill="none" stroke="#222" stroke-width="0.9"/>
<path d="M215.2 246.4L251.5 258.6L215.2 263.44L251.5 275.64L215.2 280.48L251.5 292.68L215.2 297.52L251.5 309.72L215.2 314.56L251.5 326.76L215.2 331.6L251.5 343.8L215.2 348.64L251.5 360.84L215.2 365.68L251.5 377.88L215.2 382.72L251.5 394.92L215.2 399.76L251.5 411.96L215.2 416.8L251.5 429L215.2 433.84L251.5 446.04L215.2 450.88L251.5 463.08L215.2 467.92L251.5 480.12L215.2 484.96L251.5 497.16L215.2 502L251.5 514.2L215.2 519.04L251.5 531.24L215.2 536.08L251.5 548.28L215.2 553.12L251.5 565.32L215.2 570.16L251.5 582.36L215.2 587.2L251.5 599.4L215.2 604.24" fill="none" stroke="#1a1a1a" stroke-width="0.95" stroke-linejoin="miter"/>
<path d="M201.9 243.3h12.1v11.8h-12.1zM201.9 260.1h12.1v11.8h-12.1zM201.9 276.9h12.1v11.8h-12.1zM201.9 293.7h12.1v11.8h-12.1zM201.9 310.5h12.1v11.8h-12.1zM201.9 327.3h12.1v11.8h-12.1zM201.9 344.1h12.1v11.8h-12.1zM201.9 360.9h12.1v11.8h-12.1zM201.9 377.7h12.1v11.8h-12.1zM201.9 394.5h12.1v11.8h-12.1zM201.9 411.3h12.1v11.8h-12.1zM201.9 428.1h12.1v11.8h-12.1zM201.9 444.9h12.1v11.8h-12.1zM201.9 461.7h12.1v11.8h-12.1zM201.9 478.5h12.1v11.8h-12.1zM201.9 495.3h12.1v11.8h-12.1zM201.9 512.1h12.1v11.8h-12.1zM201.9 528.9h12.1v11.8h-12.1zM201.9 545.7h12.1v11.8h-12.1zM201.9 562.5h12.1v11.8h-12.1zM201.9 579.3h12.1v11.8h-12.1zM201.9 596.1h12.1v11.8h-12.1z" fill="#000"/>
<g font-family="'Liberation Serif', serif" font-weight="bold" font-size="14.800" fill="#000">
<text x="269.300" y="261.4" text-anchor="end">1</text>
<text x="287.400" y="262.6" text-anchor="middle" font-size="19.5">-</text>
<text x="305.300" y="261.4">2</text>
<text x="269.300" y="278.66" text-anchor="end">2</text>
<text x="287.400" y="279.86" text-anchor="middle" font-size="19.5">-</text>
<text x="305.300" y="278.66">3</text>
<text x="269.300" y="295.92" text-anchor="end">3</text>
<text x="287.400" y="297.12" text-anchor="middle" font-size="19.5">-</text>
<text x="305.300" y="295.92">4</text>
<text x="269.300" y="313.18" text-anchor="end">4</text>
<text x="287.400" y="314.38" text-anchor="middle" font-size="19.5">-</text>
<text x="305.300" y="313.18">5</text>
<text x="269.300" y="330.44" text-anchor="end">5</text>
<text x="287.400" y="331.64" text-anchor="middle" font-size="19.5">-</text>
<text x="305.300" y="330.44">6</text>
<text x="269.300" y="347.7" text-anchor="end">6</text>
<text x="287.400" y="348.9" text-anchor="middle" font-size="19.5">-</text>
<text x="305.300" y="347.7">7</text>
<text x="269.300" y="364.96" text-anchor="end">7</text>
<text x="287.400" y="366.16" text-anchor="middle" font-size="19.5">-</text>
<text x="305.300" y="364.96">8</text>
<text x="269.300" y="382.22" text-anchor="end">8</text>
<text x="287.400" y="383.42" text-anchor="middle" font-size="19.5">-</text>
<text x="305.300" y="382.22">9</text>
<text x="269.300" y="399.48" text-anchor="end">9</text>
<text x="287.400" y="400.68" text-anchor="middle" font-size="19.5">-</text>
<text x="305.300" y="399.48">10</text>
<text x="269.300" y="416.74" text-anchor="end">10</text>
<text x="287.400" y="417.94" text-anchor="middle" font-size="19.5">-</text>
<text x="305.300" y="416.74">11</text>
<text x="269.300" y="434" text-anchor="end">11</text>
<text x="287.400" y="435.2" text-anchor="middle" font-size="19.5">-</text>
<text x="305.300" y="434">12</text>
<text x="269.300" y="451.26" text-anchor="end">12</text>
<text x="287.400" y="452.46" text-anchor="middle" font-size="19.5">-</text>
<text x="305.300" y="451.26">13</text>
<text x="269.300" y="468.52" text-anchor="end">13</text>
<text x="287.400" y="469.72" text-anchor="middle" font-size="19.5">-</text>
<text x="305.300" y="468.52">14</text>
<text x="269.300" y="485.78" text-anchor="end">14</text>
<text x="287.400" y="486.98" text-anchor="middle" font-size="19.5">-</text>
<text x="305.300" y="485.78">15</text>
<text x="269.300" y="503.04" text-anchor="end">15</text>
<text x="287.400" y="504.24" text-anchor="middle" font-size="19.5">-</text>
<text x="305.300" y="503.04">16</text>
<text x="269.300" y="520.3" text-anchor="end">16</text>
<text x="287.400" y="521.5" text-anchor="middle" font-size="19.5">-</text>
<text x="305.300" y="520.3">17</text>
<text x="269.300" y="537.56" text-anchor="end">17</text>
<text x="287.400" y="538.76" text-anchor="middle" font-size="19.5">-</text>
<text x="305.300" y="537.56">18</text>
<text x="269.300" y="554.82" text-anchor="end">18</text>
<text x="287.400" y="556.02" text-anchor="middle" font-size="19.5">-</text>
<text x="305.300" y="554.82">19</text>
<text x="269.300" y="572.08" text-anchor="end">19</text>
<text x="287.400" y="573.28" text-anchor="middle" font-size="19.5">-</text>
<text x="305.300" y="572.08">20</text>
<text x="269.300" y="589.34" text-anchor="end">20</text>
<text x="287.400" y="590.54" text-anchor="middle" font-size="19.5">-</text>
<text x="305.300" y="589.34">21</text>
<text x="269.300" y="606.6" text-anchor="end">21</text>
<text x="287.400" y="607.8" text-anchor="middle" font-size="19.5">-</text>
<text x="305.300" y="606.6">22</text>
</g>
<rect x="1.700" y="403.300" width="123.900" height="27.200" fill="#fff" stroke="#333" stroke-width="1"/>
<text x="9.300" y="422.700" font-family="'Liberation Serif', serif" font-weight="bold" font-size="17" textLength="109.800" lengthAdjust="spacingAndGlyphs" fill="#000">Accelerometer</text>
<path d="M125.800 414.100L175.800 423.900" fill="none" stroke="#222" stroke-width="0.9"/>
</g>
</svg>
</body>
</html>
